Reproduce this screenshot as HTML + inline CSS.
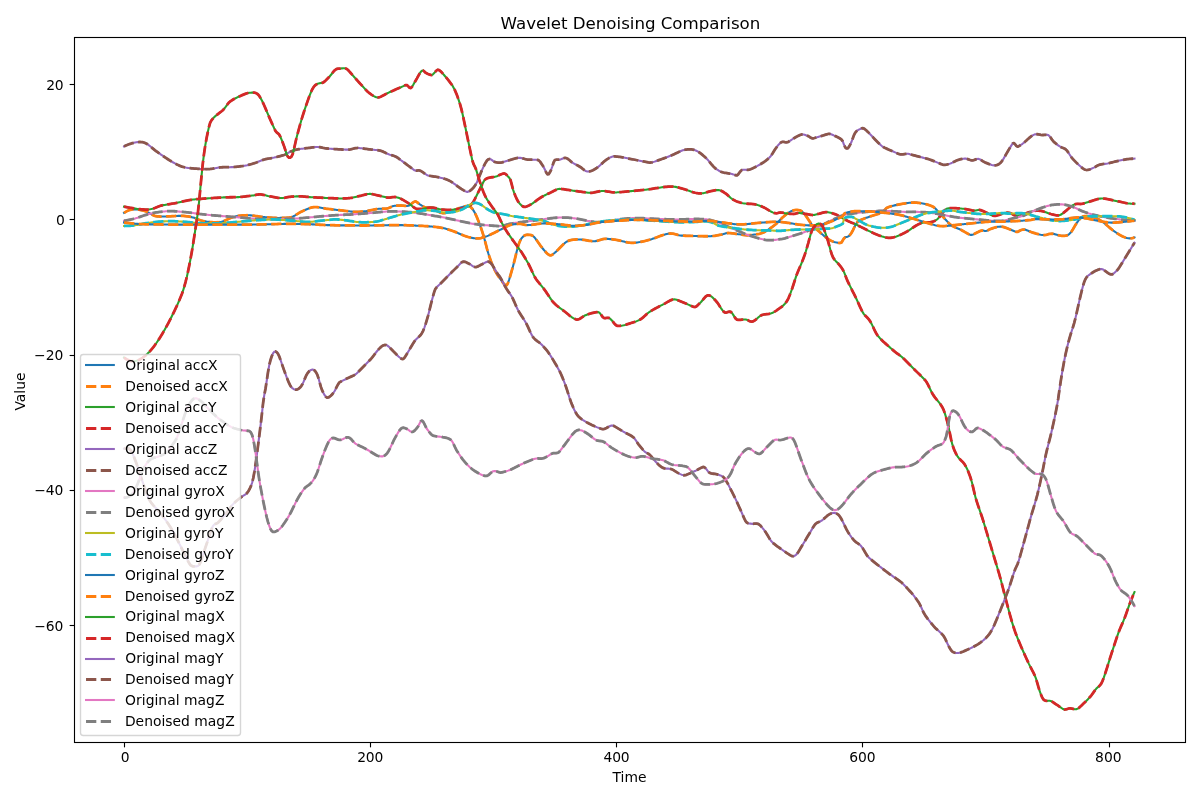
<!DOCTYPE html>
<html lang="en">
<head>
<meta charset="utf-8">
<title>Wavelet Denoising Comparison</title>
<style>html,body{margin:0;padding:0;background:#fff;}svg{display:block;}</style>
</head>
<body>
<svg width="1200" height="800" viewBox="0 0 1200 800">
<rect x="0" y="0" width="1200" height="800" fill="#ffffff"/>
<clipPath id="ax"><rect x="73.53" y="37.33" width="1111.47" height="704.39"/></clipPath>
<g clip-path="url(#ax)" fill="none" stroke-linejoin="round">
<path d="M124.05 212.87 L125.28 212.08 L126.51 211.37 L127.74 210.75 L128.97 210.24 L130.2 209.83 L131.43 209.55 L132.66 209.4 L133.9 209.36 L135.13 209.38 L136.36 209.44 L137.59 209.55 L138.82 209.7 L140.05 209.9 L141.28 210.14 L142.51 210.42 L143.74 210.74 L144.97 211.09 L146.2 211.53 L147.43 212.09 L148.66 212.74 L149.89 213.43 L151.13 214.12 L152.36 214.79 L153.59 215.39 L154.82 215.88 L156.05 216.23 L157.28 216.4 L158.51 216.46 L159.74 216.5 L160.97 216.52 L162.2 216.52 L163.43 216.51 L164.66 216.49 L165.89 216.46 L167.12 216.42 L168.36 216.38 L169.59 216.33 L170.82 216.27 L172.05 216.2 L173.28 216.14 L174.51 216.07 L175.74 216.01 L176.97 215.95 L178.2 215.9 L179.43 215.86 L180.66 215.84 L181.89 215.86 L183.12 215.91 L184.36 215.99 L185.59 216.11 L186.82 216.26 L188.05 216.44 L189.28 216.65 L190.51 216.88 L191.74 217.14 L192.97 217.43 L194.2 217.83 L195.43 218.3 L196.66 218.81 L197.89 219.32 L199.12 219.8 L200.35 220.22 L201.59 220.55 L202.82 220.84 L204.05 221.1 L205.28 221.33 L206.51 221.54 L207.74 221.72 L208.97 221.88 L210.2 222.02 L211.43 222.14 L212.66 222.24 L213.89 222.31 L215.12 222.33 L216.35 222.32 L217.58 222.26 L218.82 222.15 L220.05 221.98 L221.28 221.76 L222.51 221.47 L223.74 221.06 L224.97 220.56 L226.2 219.99 L227.43 219.39 L228.66 218.79 L229.89 218.21 L231.12 217.7 L232.35 217.29 L233.58 216.96 L234.81 216.64 L236.05 216.34 L237.28 216.07 L238.51 215.84 L239.74 215.66 L240.97 215.52 L242.2 215.43 L243.43 215.36 L244.66 215.3 L245.89 215.27 L247.12 215.26 L248.35 215.28 L249.58 215.33 L250.81 215.41 L252.05 215.53 L253.28 215.68 L254.51 215.84 L255.74 216.02 L256.97 216.2 L258.2 216.38 L259.43 216.55 L260.66 216.72 L261.89 216.86 L263.12 216.99 L264.35 217.11 L265.58 217.23 L266.81 217.34 L268.04 217.45 L269.28 217.55 L270.51 217.65 L271.74 217.73 L272.97 217.81 L274.2 217.87 L275.43 217.91 L276.66 217.93 L277.89 217.94 L279.12 217.93 L280.35 217.91 L281.58 217.88 L282.81 217.85 L284.04 217.82 L285.27 217.79 L286.51 217.76 L287.74 217.7 L288.97 217.59 L290.2 217.39 L291.43 217.09 L292.66 216.64 L293.89 216.06 L295.12 215.37 L296.35 214.61 L297.58 213.83 L298.81 213.07 L300.04 212.36 L301.27 211.74 L302.51 211.15 L303.74 210.57 L304.97 210 L306.2 209.46 L307.43 208.94 L308.66 208.46 L309.89 208.01 L311.12 207.64 L312.35 207.34 L313.58 207.13 L314.81 207.02 L316.04 207.02 L317.27 207.13 L318.5 207.31 L319.74 207.52 L320.97 207.74 L322.2 207.97 L323.43 208.21 L324.66 208.43 L325.89 208.63 L327.12 208.8 L328.35 208.95 L329.58 209.09 L330.81 209.23 L332.04 209.37 L333.27 209.51 L334.5 209.65 L335.73 209.79 L336.97 209.93 L338.2 210.07 L339.43 210.21 L340.66 210.35 L341.89 210.49 L343.12 210.64 L344.35 210.78 L345.58 210.92 L346.81 211.06 L348.04 211.2 L349.27 211.34 L350.5 211.48 L351.73 211.62 L352.97 211.75 L354.2 211.83 L355.43 211.86 L356.66 211.86 L357.89 211.83 L359.12 211.77 L360.35 211.68 L361.58 211.57 L362.81 211.45 L364.04 211.32 L365.27 211.18 L366.5 211.04 L367.73 210.86 L368.96 210.65 L370.2 210.41 L371.43 210.16 L372.66 209.9 L373.89 209.64 L375.12 209.39 L376.35 209.16 L377.58 208.95 L378.81 208.78 L380.04 208.7 L381.27 208.67 L382.5 208.68 L383.73 208.69 L384.96 208.67 L386.19 208.59 L387.43 208.42 L388.66 208.03 L389.89 207.49 L391.12 206.9 L392.35 206.36 L393.58 205.97 L394.81 205.8 L396.04 205.69 L397.27 205.61 L398.5 205.56 L399.73 205.53 L400.96 205.5 L402.19 205.53 L403.42 205.66 L404.66 205.81 L405.89 205.94 L407.12 205.97 L408.35 205.83 L409.58 205.22 L410.81 204.26 L412.04 203.23 L413.27 202.39 L414.5 201.67 L415.73 201.44 L416.96 202.15 L418.19 203.17 L419.42 204.12 L420.66 204.92 L421.89 205.7 L423.12 206.42 L424.35 207.01 L425.58 207.38 L426.81 207.56 L428.04 207.64 L429.27 207.68 L430.5 207.76 L431.73 207.95 L432.96 208.32 L434.19 208.91 L435.42 209.68 L436.65 210.51 L437.89 211.34 L439.12 212.08 L440.35 212.65 L441.58 212.96 L442.81 213.1 L444.04 213.14 L445.27 213.08 L446.5 212.92 L447.73 212.67 L448.96 212.34 L450.19 211.93 L451.42 211.47 L452.65 210.97 L453.88 210.44 L455.12 209.89 L456.35 209.34 L457.58 208.8 L458.81 208.27 L460.04 207.78 L461.27 207.33 L462.5 206.94 L463.73 206.61 L464.96 206.33 L466.19 206.1 L467.42 205.91 L468.65 205.97 L469.88 206.51 L471.12 207.49 L472.35 208.87 L473.58 210.63 L474.81 212.78 L476.04 215.29 L477.27 218.11 L478.5 221.17 L479.73 224.41 L480.96 227.84 L482.19 231.47 L483.42 235.31 L484.65 239.67 L485.88 244.44 L487.11 249.19 L488.35 253.51 L489.58 257.28 L490.81 260.78 L492.04 264.01 L493.27 266.95 L494.5 269.59 L495.73 271.91 L496.96 274 L498.19 275.92 L499.42 277.73 L500.65 279.46 L501.88 281.16 L503.11 282.84 L504.34 284.35 L505.58 285.34 L506.81 285.15 L508.04 282.87 L509.27 279.26 L510.5 275.16 L511.73 270.91 L512.96 266.49 L514.19 261.84 L515.42 256.83 L516.65 251.78 L517.88 247.06 L519.11 243.17 L520.34 240.27 L521.58 238.22 L522.81 236.84 L524.04 235.83 L525.27 235.16 L526.5 234.8 L527.73 234.76 L528.96 234.81 L530.19 234.93 L531.42 235.21 L532.65 235.78 L533.88 236.74 L535.11 238.15 L536.34 239.78 L537.57 241.52 L538.81 243.3 L540.04 245.05 L541.27 246.7 L542.5 248.24 L543.73 249.73 L544.96 251.15 L546.19 252.51 L547.42 253.76 L548.65 254.72 L549.88 255.27 L551.11 255.29 L552.34 254.67 L553.57 253.77 L554.8 252.75 L556.04 251.64 L557.27 250.48 L558.5 249.27 L559.73 248 L560.96 246.71 L562.19 245.44 L563.42 244.25 L564.65 243.16 L565.88 242.24 L567.11 241.48 L568.34 240.87 L569.57 240.41 L570.8 240.09 L572.03 239.87 L573.27 239.71 L574.5 239.59 L575.73 239.5 L576.96 239.46 L578.19 239.45 L579.42 239.48 L580.65 239.54 L581.88 239.65 L583.11 239.8 L584.34 239.98 L585.57 240.18 L586.8 240.39 L588.03 240.59 L589.27 240.79 L590.5 240.95 L591.73 241.09 L592.96 241.17 L594.19 241.2 L595.42 241.11 L596.65 240.9 L597.88 240.61 L599.11 240.25 L600.34 239.88 L601.57 239.51 L602.8 239.19 L604.03 238.95 L605.26 238.81 L606.5 238.81 L607.73 238.88 L608.96 238.97 L610.19 239.09 L611.42 239.22 L612.65 239.38 L613.88 239.55 L615.11 239.73 L616.34 239.93 L617.57 240.15 L618.8 240.4 L620.03 240.67 L621.26 240.97 L622.49 241.27 L623.73 241.57 L624.96 241.86 L626.19 242.12 L627.42 242.36 L628.65 242.55 L629.88 242.7 L631.11 242.78 L632.34 242.81 L633.57 242.79 L634.8 242.72 L636.03 242.61 L637.26 242.46 L638.49 242.27 L639.73 242.06 L640.96 241.82 L642.19 241.57 L643.42 241.31 L644.65 241.03 L645.88 240.73 L647.11 240.42 L648.34 240.09 L649.57 239.75 L650.8 239.39 L652.03 239.01 L653.26 238.6 L654.49 238.17 L655.72 237.71 L656.96 237.24 L658.19 236.77 L659.42 236.3 L660.65 235.85 L661.88 235.42 L663.11 235.02 L664.34 234.65 L665.57 234.31 L666.8 234.01 L668.03 233.78 L669.26 233.61 L670.49 233.51 L671.72 233.52 L672.95 233.67 L674.19 233.92 L675.42 234.24 L676.65 234.6 L677.88 234.95 L679.11 235.26 L680.34 235.49 L681.57 235.6 L682.8 235.65 L684.03 235.7 L685.26 235.75 L686.49 235.79 L687.72 235.84 L688.95 235.88 L690.19 235.91 L691.42 235.95 L692.65 235.98 L693.88 236 L695.11 236.03 L696.34 236.06 L697.57 236.09 L698.8 236.13 L700.03 236.16 L701.26 236.19 L702.49 236.22 L703.72 236.24 L704.95 236.25 L706.18 236.25 L707.42 236.25 L708.65 236.23 L709.88 236.2 L711.11 236.16 L712.34 236.08 L713.57 235.95 L714.8 235.77 L716.03 235.56 L717.26 235.34 L718.49 235.11 L719.72 234.88 L720.95 234.67 L722.18 234.38 L723.41 234.03 L724.65 233.67 L725.88 233.34 L727.11 233.1 L728.34 232.98 L729.57 233.03 L730.8 233.15 L732.03 233.3 L733.26 233.47 L734.49 233.65 L735.72 233.83 L736.95 234 L738.18 234.16 L739.41 234.34 L740.64 234.51 L741.88 234.68 L743.11 234.85 L744.34 235.01 L745.57 235.16 L746.8 235.24 L748.03 235.24 L749.26 235.18 L750.49 235.07 L751.72 234.93 L752.95 234.76 L754.18 234.59 L755.41 234.41 L756.64 234.24 L757.88 234.04 L759.11 233.8 L760.34 233.52 L761.57 233.16 L762.8 232.73 L764.03 232.21 L765.26 231.57 L766.49 230.85 L767.72 230.06 L768.95 229.23 L770.18 228.37 L771.41 227.51 L772.64 226.63 L773.87 225.71 L775.11 224.75 L776.34 223.7 L777.57 222.53 L778.8 221.27 L780.03 219.97 L781.26 218.71 L782.49 217.55 L783.72 216.45 L784.95 215.4 L786.18 214.39 L787.41 213.44 L788.64 212.55 L789.87 211.82 L791.1 211.22 L792.34 210.73 L793.57 210.33 L794.8 210.08 L796.03 209.97 L797.26 209.96 L798.49 210.04 L799.72 210.3 L800.95 210.8 L802.18 211.65 L803.41 212.8 L804.64 214.21 L805.87 215.82 L807.1 217.63 L808.34 219.54 L809.57 221.39 L810.8 223.1 L812.03 224.77 L813.26 226.26 L814.49 227.44 L815.72 228.52 L816.95 229.58 L818.18 230.66 L819.41 231.77 L820.64 232.88 L821.87 233.99 L823.1 235.09 L824.33 236.16 L825.57 237.17 L826.8 238.12 L828.03 239.02 L829.26 239.8 L830.49 240.45 L831.72 240.99 L832.95 241.48 L834.18 241.9 L835.41 242.24 L836.64 242.51 L837.87 242.77 L839.1 242.99 L840.33 242.95 L841.56 242.45 L842.8 240.25 L844.03 238.39 L845.26 237.33 L846.49 236.9 L847.72 236.66 L848.95 236.04 L850.18 234.76 L851.41 233 L852.64 230.78 L853.87 228.23 L855.1 225.81 L856.33 223.62 L857.56 221.89 L858.8 220.96 L860.03 220.26 L861.26 219.68 L862.49 219.19 L863.72 218.74 L864.95 218.29 L866.18 217.84 L867.41 217.4 L868.64 216.96 L869.87 216.54 L871.1 216.14 L872.33 215.75 L873.56 215.37 L874.79 215 L876.03 214.62 L877.26 214.24 L878.49 213.84 L879.72 213.36 L880.95 212.81 L882.18 212.2 L883.41 211.23 L884.64 209.95 L885.87 208.66 L887.1 207.69 L888.33 207.18 L889.56 206.74 L890.79 206.35 L892.02 205.99 L893.26 205.66 L894.49 205.37 L895.72 205.11 L896.95 204.86 L898.18 204.62 L899.41 204.39 L900.64 204.16 L901.87 203.93 L903.1 203.71 L904.33 203.51 L905.56 203.31 L906.79 203.13 L908.02 202.96 L909.25 202.82 L910.49 202.69 L911.72 202.59 L912.95 202.53 L914.18 202.49 L915.41 202.53 L916.64 202.62 L917.87 202.76 L919.1 202.94 L920.33 203.14 L921.56 203.34 L922.79 203.55 L924.02 203.78 L925.25 204.04 L926.49 204.34 L927.72 204.68 L928.95 205.05 L930.18 205.46 L931.41 205.94 L932.64 206.53 L933.87 207.29 L935.1 208.26 L936.33 209.49 L937.56 210.84 L938.79 212.19 L940.02 213.54 L941.25 214.89 L942.48 216.23 L943.72 217.58 L944.95 218.93 L946.18 220.28 L947.41 221.63 L948.64 222.98 L949.87 224.2 L951.1 225.15 L952.33 225.91 L953.56 226.55 L954.79 227.15 L956.02 227.73 L957.25 228.26 L958.48 228.77 L959.71 229.29 L960.95 229.85 L962.18 230.48 L963.41 231.16 L964.64 231.88 L965.87 232.6 L967.1 233.29 L968.33 233.93 L969.56 234.52 L970.79 234.89 L972.02 234.89 L973.25 234.44 L974.48 233.83 L975.71 233.17 L976.95 232.52 L978.18 231.94 L979.41 231.37 L980.64 230.84 L981.87 230.45 L983.1 230.55 L984.33 230.86 L985.56 231.02 L986.79 230.71 L988.02 230.18 L989.25 229.6 L990.48 229.05 L991.71 228.59 L992.94 228.16 L994.18 227.75 L995.41 227.39 L996.64 227.08 L997.87 226.84 L999.1 226.69 L1000.33 226.64 L1001.56 226.71 L1002.79 226.88 L1004.02 227.18 L1005.25 227.59 L1006.48 228.07 L1007.71 228.57 L1008.94 229.07 L1010.17 229.57 L1011.41 230.06 L1012.64 230.55 L1013.87 231.02 L1015.1 231.47 L1016.33 231.85 L1017.56 231.87 L1018.79 231.3 L1020.02 230.53 L1021.25 230 L1022.48 229.71 L1023.71 229.52 L1024.94 229.59 L1026.17 229.94 L1027.41 230.4 L1028.64 230.93 L1029.87 231.47 L1031.1 232 L1032.33 232.45 L1033.56 232.82 L1034.79 233.19 L1036.02 233.55 L1037.25 233.88 L1038.48 234.2 L1039.71 234.48 L1040.94 234.73 L1042.17 234.95 L1043.4 235.08 L1044.64 235.01 L1045.87 234.82 L1047.1 234.54 L1048.33 234.23 L1049.56 233.96 L1050.79 233.77 L1052.02 233.72 L1053.25 233.85 L1054.48 234.11 L1055.71 234.45 L1056.94 234.83 L1058.17 235.19 L1059.4 235.49 L1060.63 235.69 L1061.87 235.81 L1063.1 235.85 L1064.33 235.82 L1065.56 235.7 L1066.79 235.48 L1068.02 234.96 L1069.25 234.08 L1070.48 232.85 L1071.71 231.25 L1072.94 229.3 L1074.17 227.16 L1075.4 225.06 L1076.63 223.19 L1077.86 221.41 L1079.1 219.75 L1080.33 218.33 L1081.56 217.28 L1082.79 216.6 L1084.02 216.24 L1085.25 216.11 L1086.48 216.14 L1087.71 216.28 L1088.94 216.42 L1090.17 216.58 L1091.4 216.76 L1092.63 216.99 L1093.86 217.29 L1095.1 217.67 L1096.33 218.16 L1097.56 218.78 L1098.79 219.49 L1100.02 220.24 L1101.25 221.03 L1102.48 221.87 L1103.71 222.76 L1104.94 223.7 L1106.17 224.7 L1107.4 225.73 L1108.63 226.79 L1109.86 227.85 L1111.09 228.88 L1112.33 229.87 L1113.56 230.79 L1114.79 231.67 L1116.02 232.5 L1117.25 233.3 L1118.48 234.07 L1119.71 234.82 L1120.94 235.55 L1122.17 236.19 L1123.4 236.75 L1124.63 237.23 L1125.86 237.65 L1127.09 238 L1128.32 238.26 L1129.56 238.36 L1130.79 238.31 L1132.02 238.13 L1133.25 237.83 L1134.48 237.44" stroke="#1f77b4" stroke-width="2.08" stroke-linecap="square"/>
<path d="M124.05 212.87 L125.28 212.08 L126.51 211.37 L127.74 210.75 L128.97 210.24 L130.2 209.83 L131.43 209.55 L132.66 209.4 L133.9 209.36 L135.13 209.38 L136.36 209.44 L137.59 209.55 L138.82 209.7 L140.05 209.9 L141.28 210.14 L142.51 210.42 L143.74 210.74 L144.97 211.09 L146.2 211.53 L147.43 212.09 L148.66 212.74 L149.89 213.43 L151.13 214.12 L152.36 214.79 L153.59 215.39 L154.82 215.88 L156.05 216.23 L157.28 216.4 L158.51 216.46 L159.74 216.5 L160.97 216.52 L162.2 216.52 L163.43 216.51 L164.66 216.49 L165.89 216.46 L167.12 216.42 L168.36 216.38 L169.59 216.33 L170.82 216.27 L172.05 216.2 L173.28 216.14 L174.51 216.07 L175.74 216.01 L176.97 215.95 L178.2 215.9 L179.43 215.86 L180.66 215.84 L181.89 215.86 L183.12 215.91 L184.36 215.99 L185.59 216.11 L186.82 216.26 L188.05 216.44 L189.28 216.65 L190.51 216.88 L191.74 217.14 L192.97 217.43 L194.2 217.83 L195.43 218.3 L196.66 218.81 L197.89 219.32 L199.12 219.8 L200.35 220.22 L201.59 220.55 L202.82 220.84 L204.05 221.1 L205.28 221.33 L206.51 221.54 L207.74 221.72 L208.97 221.88 L210.2 222.02 L211.43 222.14 L212.66 222.24 L213.89 222.31 L215.12 222.33 L216.35 222.32 L217.58 222.26 L218.82 222.15 L220.05 221.98 L221.28 221.76 L222.51 221.47 L223.74 221.06 L224.97 220.56 L226.2 219.99 L227.43 219.39 L228.66 218.79 L229.89 218.21 L231.12 217.7 L232.35 217.29 L233.58 216.96 L234.81 216.64 L236.05 216.34 L237.28 216.07 L238.51 215.84 L239.74 215.66 L240.97 215.52 L242.2 215.43 L243.43 215.36 L244.66 215.3 L245.89 215.27 L247.12 215.26 L248.35 215.28 L249.58 215.33 L250.81 215.41 L252.05 215.53 L253.28 215.68 L254.51 215.84 L255.74 216.02 L256.97 216.2 L258.2 216.38 L259.43 216.55 L260.66 216.72 L261.89 216.86 L263.12 216.99 L264.35 217.11 L265.58 217.23 L266.81 217.34 L268.04 217.45 L269.28 217.55 L270.51 217.65 L271.74 217.73 L272.97 217.81 L274.2 217.87 L275.43 217.91 L276.66 217.93 L277.89 217.94 L279.12 217.93 L280.35 217.91 L281.58 217.88 L282.81 217.85 L284.04 217.82 L285.27 217.79 L286.51 217.76 L287.74 217.7 L288.97 217.59 L290.2 217.39 L291.43 217.09 L292.66 216.64 L293.89 216.06 L295.12 215.37 L296.35 214.61 L297.58 213.83 L298.81 213.07 L300.04 212.36 L301.27 211.74 L302.51 211.15 L303.74 210.57 L304.97 210 L306.2 209.46 L307.43 208.94 L308.66 208.46 L309.89 208.01 L311.12 207.64 L312.35 207.34 L313.58 207.13 L314.81 207.02 L316.04 207.02 L317.27 207.13 L318.5 207.31 L319.74 207.52 L320.97 207.74 L322.2 207.97 L323.43 208.21 L324.66 208.43 L325.89 208.63 L327.12 208.8 L328.35 208.95 L329.58 209.09 L330.81 209.23 L332.04 209.37 L333.27 209.51 L334.5 209.65 L335.73 209.79 L336.97 209.93 L338.2 210.07 L339.43 210.21 L340.66 210.35 L341.89 210.49 L343.12 210.64 L344.35 210.78 L345.58 210.92 L346.81 211.06 L348.04 211.2 L349.27 211.34 L350.5 211.48 L351.73 211.62 L352.97 211.75 L354.2 211.83 L355.43 211.86 L356.66 211.86 L357.89 211.83 L359.12 211.77 L360.35 211.68 L361.58 211.57 L362.81 211.45 L364.04 211.32 L365.27 211.18 L366.5 211.04 L367.73 210.86 L368.96 210.65 L370.2 210.41 L371.43 210.16 L372.66 209.9 L373.89 209.64 L375.12 209.39 L376.35 209.16 L377.58 208.95 L378.81 208.78 L380.04 208.7 L381.27 208.67 L382.5 208.68 L383.73 208.69 L384.96 208.67 L386.19 208.59 L387.43 208.42 L388.66 208.03 L389.89 207.49 L391.12 206.9 L392.35 206.36 L393.58 205.97 L394.81 205.8 L396.04 205.69 L397.27 205.61 L398.5 205.56 L399.73 205.53 L400.96 205.5 L402.19 205.53 L403.42 205.66 L404.66 205.81 L405.89 205.94 L407.12 205.97 L408.35 205.83 L409.58 205.22 L410.81 204.26 L412.04 203.23 L413.27 202.39 L414.5 201.67 L415.73 201.44 L416.96 202.15 L418.19 203.17 L419.42 204.12 L420.66 204.92 L421.89 205.7 L423.12 206.42 L424.35 207.01 L425.58 207.38 L426.81 207.56 L428.04 207.64 L429.27 207.68 L430.5 207.76 L431.73 207.95 L432.96 208.32 L434.19 208.91 L435.42 209.68 L436.65 210.51 L437.89 211.34 L439.12 212.08 L440.35 212.65 L441.58 212.96 L442.81 213.1 L444.04 213.14 L445.27 213.08 L446.5 212.92 L447.73 212.67 L448.96 212.34 L450.19 211.93 L451.42 211.47 L452.65 210.97 L453.88 210.44 L455.12 209.89 L456.35 209.34 L457.58 208.8 L458.81 208.27 L460.04 207.78 L461.27 207.33 L462.5 206.94 L463.73 206.61 L464.96 206.33 L466.19 206.1 L467.42 205.91 L468.65 205.97 L469.88 206.51 L471.12 207.49 L472.35 208.87 L473.58 210.63 L474.81 212.78 L476.04 215.29 L477.27 218.11 L478.5 221.17 L479.73 224.41 L480.96 227.84 L482.19 231.47 L483.42 235.31 L484.65 239.67 L485.88 244.44 L487.11 249.19 L488.35 253.51 L489.58 257.28 L490.81 260.78 L492.04 264.01 L493.27 266.95 L494.5 269.59 L495.73 271.91 L496.96 274 L498.19 275.92 L499.42 277.73 L500.65 279.46 L501.88 281.16 L503.11 282.84 L504.34 284.35 L505.58 285.34 L506.81 285.15 L508.04 282.87 L509.27 279.26 L510.5 275.16 L511.73 270.91 L512.96 266.49 L514.19 261.84 L515.42 256.83 L516.65 251.78 L517.88 247.06 L519.11 243.17 L520.34 240.27 L521.58 238.22 L522.81 236.84 L524.04 235.83 L525.27 235.16 L526.5 234.8 L527.73 234.76 L528.96 234.81 L530.19 234.93 L531.42 235.21 L532.65 235.78 L533.88 236.74 L535.11 238.15 L536.34 239.78 L537.57 241.52 L538.81 243.3 L540.04 245.05 L541.27 246.7 L542.5 248.24 L543.73 249.73 L544.96 251.15 L546.19 252.51 L547.42 253.76 L548.65 254.72 L549.88 255.27 L551.11 255.29 L552.34 254.67 L553.57 253.77 L554.8 252.75 L556.04 251.64 L557.27 250.48 L558.5 249.27 L559.73 248 L560.96 246.71 L562.19 245.44 L563.42 244.25 L564.65 243.16 L565.88 242.24 L567.11 241.48 L568.34 240.87 L569.57 240.41 L570.8 240.09 L572.03 239.87 L573.27 239.71 L574.5 239.59 L575.73 239.5 L576.96 239.46 L578.19 239.45 L579.42 239.48 L580.65 239.54 L581.88 239.65 L583.11 239.8 L584.34 239.98 L585.57 240.18 L586.8 240.39 L588.03 240.59 L589.27 240.79 L590.5 240.95 L591.73 241.09 L592.96 241.17 L594.19 241.2 L595.42 241.11 L596.65 240.9 L597.88 240.61 L599.11 240.25 L600.34 239.88 L601.57 239.51 L602.8 239.19 L604.03 238.95 L605.26 238.81 L606.5 238.81 L607.73 238.88 L608.96 238.97 L610.19 239.09 L611.42 239.22 L612.65 239.38 L613.88 239.55 L615.11 239.73 L616.34 239.93 L617.57 240.15 L618.8 240.4 L620.03 240.67 L621.26 240.97 L622.49 241.27 L623.73 241.57 L624.96 241.86 L626.19 242.12 L627.42 242.36 L628.65 242.55 L629.88 242.7 L631.11 242.78 L632.34 242.81 L633.57 242.79 L634.8 242.72 L636.03 242.61 L637.26 242.46 L638.49 242.27 L639.73 242.06 L640.96 241.82 L642.19 241.57 L643.42 241.31 L644.65 241.03 L645.88 240.73 L647.11 240.42 L648.34 240.09 L649.57 239.75 L650.8 239.39 L652.03 239.01 L653.26 238.6 L654.49 238.17 L655.72 237.71 L656.96 237.24 L658.19 236.77 L659.42 236.3 L660.65 235.85 L661.88 235.42 L663.11 235.02 L664.34 234.65 L665.57 234.31 L666.8 234.01 L668.03 233.78 L669.26 233.61 L670.49 233.51 L671.72 233.52 L672.95 233.67 L674.19 233.92 L675.42 234.24 L676.65 234.6 L677.88 234.95 L679.11 235.26 L680.34 235.49 L681.57 235.6 L682.8 235.65 L684.03 235.7 L685.26 235.75 L686.49 235.79 L687.72 235.84 L688.95 235.88 L690.19 235.91 L691.42 235.95 L692.65 235.98 L693.88 236 L695.11 236.03 L696.34 236.06 L697.57 236.09 L698.8 236.13 L700.03 236.16 L701.26 236.19 L702.49 236.22 L703.72 236.24 L704.95 236.25 L706.18 236.25 L707.42 236.25 L708.65 236.23 L709.88 236.2 L711.11 236.16 L712.34 236.08 L713.57 235.95 L714.8 235.77 L716.03 235.56 L717.26 235.34 L718.49 235.11 L719.72 234.88 L720.95 234.67 L722.18 234.38 L723.41 234.03 L724.65 233.67 L725.88 233.34 L727.11 233.1 L728.34 232.98 L729.57 233.03 L730.8 233.15 L732.03 233.3 L733.26 233.47 L734.49 233.65 L735.72 233.83 L736.95 234 L738.18 234.16 L739.41 234.34 L740.64 234.51 L741.88 234.68 L743.11 234.85 L744.34 235.01 L745.57 235.16 L746.8 235.24 L748.03 235.24 L749.26 235.18 L750.49 235.07 L751.72 234.93 L752.95 234.76 L754.18 234.59 L755.41 234.41 L756.64 234.24 L757.88 234.04 L759.11 233.8 L760.34 233.52 L761.57 233.16 L762.8 232.73 L764.03 232.21 L765.26 231.57 L766.49 230.85 L767.72 230.06 L768.95 229.23 L770.18 228.37 L771.41 227.51 L772.64 226.63 L773.87 225.71 L775.11 224.75 L776.34 223.7 L777.57 222.53 L778.8 221.27 L780.03 219.97 L781.26 218.71 L782.49 217.55 L783.72 216.45 L784.95 215.4 L786.18 214.39 L787.41 213.44 L788.64 212.55 L789.87 211.82 L791.1 211.22 L792.34 210.73 L793.57 210.33 L794.8 210.08 L796.03 209.97 L797.26 209.96 L798.49 210.04 L799.72 210.3 L800.95 210.8 L802.18 211.65 L803.41 212.8 L804.64 214.21 L805.87 215.82 L807.1 217.63 L808.34 219.54 L809.57 221.39 L810.8 223.1 L812.03 224.77 L813.26 226.26 L814.49 227.44 L815.72 228.52 L816.95 229.58 L818.18 230.66 L819.41 231.77 L820.64 232.88 L821.87 233.99 L823.1 235.09 L824.33 236.16 L825.57 237.17 L826.8 238.12 L828.03 239.02 L829.26 239.8 L830.49 240.45 L831.72 240.99 L832.95 241.48 L834.18 241.9 L835.41 242.24 L836.64 242.51 L837.87 242.77 L839.1 242.99 L840.33 242.95 L841.56 242.45 L842.8 240.25 L844.03 238.39 L845.26 237.33 L846.49 236.9 L847.72 236.66 L848.95 236.04 L850.18 234.76 L851.41 233 L852.64 230.78 L853.87 228.23 L855.1 225.81 L856.33 223.62 L857.56 221.89 L858.8 220.96 L860.03 220.26 L861.26 219.68 L862.49 219.19 L863.72 218.74 L864.95 218.29 L866.18 217.84 L867.41 217.4 L868.64 216.96 L869.87 216.54 L871.1 216.14 L872.33 215.75 L873.56 215.37 L874.79 215 L876.03 214.62 L877.26 214.24 L878.49 213.84 L879.72 213.36 L880.95 212.81 L882.18 212.2 L883.41 211.23 L884.64 209.95 L885.87 208.66 L887.1 207.69 L888.33 207.18 L889.56 206.74 L890.79 206.35 L892.02 205.99 L893.26 205.66 L894.49 205.37 L895.72 205.11 L896.95 204.86 L898.18 204.62 L899.41 204.39 L900.64 204.16 L901.87 203.93 L903.1 203.71 L904.33 203.51 L905.56 203.31 L906.79 203.13 L908.02 202.96 L909.25 202.82 L910.49 202.69 L911.72 202.59 L912.95 202.53 L914.18 202.49 L915.41 202.53 L916.64 202.62 L917.87 202.76 L919.1 202.94 L920.33 203.14 L921.56 203.34 L922.79 203.55 L924.02 203.78 L925.25 204.04 L926.49 204.34 L927.72 204.68 L928.95 205.05 L930.18 205.46 L931.41 205.94 L932.64 206.53 L933.87 207.29 L935.1 208.26 L936.33 209.49 L937.56 210.84 L938.79 212.19 L940.02 213.54 L941.25 214.89 L942.48 216.23 L943.72 217.58 L944.95 218.93 L946.18 220.28 L947.41 221.63 L948.64 222.98 L949.87 224.2 L951.1 225.15 L952.33 225.91 L953.56 226.55 L954.79 227.15 L956.02 227.73 L957.25 228.26 L958.48 228.77 L959.71 229.29 L960.95 229.85 L962.18 230.48 L963.41 231.16 L964.64 231.88 L965.87 232.6 L967.1 233.29 L968.33 233.93 L969.56 234.52 L970.79 234.89 L972.02 234.89 L973.25 234.44 L974.48 233.83 L975.71 233.17 L976.95 232.52 L978.18 231.94 L979.41 231.37 L980.64 230.84 L981.87 230.45 L983.1 230.55 L984.33 230.86 L985.56 231.02 L986.79 230.71 L988.02 230.18 L989.25 229.6 L990.48 229.05 L991.71 228.59 L992.94 228.16 L994.18 227.75 L995.41 227.39 L996.64 227.08 L997.87 226.84 L999.1 226.69 L1000.33 226.64 L1001.56 226.71 L1002.79 226.88 L1004.02 227.18 L1005.25 227.59 L1006.48 228.07 L1007.71 228.57 L1008.94 229.07 L1010.17 229.57 L1011.41 230.06 L1012.64 230.55 L1013.87 231.02 L1015.1 231.47 L1016.33 231.85 L1017.56 231.87 L1018.79 231.3 L1020.02 230.53 L1021.25 230 L1022.48 229.71 L1023.71 229.52 L1024.94 229.59 L1026.17 229.94 L1027.41 230.4 L1028.64 230.93 L1029.87 231.47 L1031.1 232 L1032.33 232.45 L1033.56 232.82 L1034.79 233.19 L1036.02 233.55 L1037.25 233.88 L1038.48 234.2 L1039.71 234.48 L1040.94 234.73 L1042.17 234.95 L1043.4 235.08 L1044.64 235.01 L1045.87 234.82 L1047.1 234.54 L1048.33 234.23 L1049.56 233.96 L1050.79 233.77 L1052.02 233.72 L1053.25 233.85 L1054.48 234.11 L1055.71 234.45 L1056.94 234.83 L1058.17 235.19 L1059.4 235.49 L1060.63 235.69 L1061.87 235.81 L1063.1 235.85 L1064.33 235.82 L1065.56 235.7 L1066.79 235.48 L1068.02 234.96 L1069.25 234.08 L1070.48 232.85 L1071.71 231.25 L1072.94 229.3 L1074.17 227.16 L1075.4 225.06 L1076.63 223.19 L1077.86 221.41 L1079.1 219.75 L1080.33 218.33 L1081.56 217.28 L1082.79 216.6 L1084.02 216.24 L1085.25 216.11 L1086.48 216.14 L1087.71 216.28 L1088.94 216.42 L1090.17 216.58 L1091.4 216.76 L1092.63 216.99 L1093.86 217.29 L1095.1 217.67 L1096.33 218.16 L1097.56 218.78 L1098.79 219.49 L1100.02 220.24 L1101.25 221.03 L1102.48 221.87 L1103.71 222.76 L1104.94 223.7 L1106.17 224.7 L1107.4 225.73 L1108.63 226.79 L1109.86 227.85 L1111.09 228.88 L1112.33 229.87 L1113.56 230.79 L1114.79 231.67 L1116.02 232.5 L1117.25 233.3 L1118.48 234.07 L1119.71 234.82 L1120.94 235.55 L1122.17 236.19 L1123.4 236.75 L1124.63 237.23 L1125.86 237.65 L1127.09 238 L1128.32 238.26 L1129.56 238.36 L1130.79 238.31 L1132.02 238.13 L1133.25 237.83 L1134.48 237.44" stroke="#ff7f0e" stroke-width="2.78" stroke-dasharray="10.28 4.44"/>
<path d="M124.05 206.61 L125.28 206.87 L126.51 207.12 L127.74 207.35 L128.97 207.57 L130.2 207.78 L131.43 207.99 L132.66 208.19 L133.9 208.38 L135.13 208.57 L136.36 208.75 L137.59 208.91 L138.82 209.06 L140.05 209.19 L141.28 209.31 L142.51 209.41 L143.74 209.49 L144.97 209.56 L146.2 209.61 L147.43 209.58 L148.66 209.48 L149.89 209.3 L151.13 209.05 L152.36 208.77 L153.59 208.43 L154.82 208.01 L156.05 207.53 L157.28 207.02 L158.51 206.52 L159.74 206.05 L160.97 205.65 L162.2 205.36 L163.43 205.12 L164.66 204.9 L165.89 204.69 L167.12 204.49 L168.36 204.29 L169.59 204.1 L170.82 203.91 L172.05 203.71 L173.28 203.5 L174.51 203.28 L175.74 203.05 L176.97 202.8 L178.2 202.54 L179.43 202.26 L180.66 201.97 L181.89 201.68 L183.12 201.4 L184.36 201.11 L185.59 200.84 L186.82 200.58 L188.05 200.34 L189.28 200.12 L190.51 199.92 L191.74 199.75 L192.97 199.59 L194.2 199.44 L195.43 199.31 L196.66 199.18 L197.89 199.07 L199.12 198.96 L200.35 198.86 L201.59 198.77 L202.82 198.68 L204.05 198.6 L205.28 198.51 L206.51 198.43 L207.74 198.35 L208.97 198.27 L210.2 198.19 L211.43 198.11 L212.66 198.03 L213.89 197.96 L215.12 197.88 L216.35 197.81 L217.58 197.74 L218.82 197.67 L220.05 197.6 L221.28 197.54 L222.51 197.47 L223.74 197.41 L224.97 197.36 L226.2 197.32 L227.43 197.29 L228.66 197.27 L229.89 197.26 L231.12 197.25 L232.35 197.24 L233.58 197.23 L234.81 197.21 L236.05 197.19 L237.28 197.15 L238.51 197.09 L239.74 197.02 L240.97 196.92 L242.2 196.81 L243.43 196.68 L244.66 196.54 L245.89 196.39 L247.12 196.23 L248.35 196.07 L249.58 195.91 L250.81 195.75 L252.05 195.59 L253.28 195.41 L254.51 195.17 L255.74 194.92 L256.97 194.69 L258.2 194.51 L259.43 194.41 L260.66 194.42 L261.89 194.55 L263.12 194.76 L264.35 195.03 L265.58 195.34 L266.81 195.66 L268.04 195.98 L269.28 196.26 L270.51 196.49 L271.74 196.72 L272.97 196.95 L274.2 197.18 L275.43 197.4 L276.66 197.6 L277.89 197.78 L279.12 197.92 L280.35 198.02 L281.58 198.04 L282.81 197.96 L284.04 197.81 L285.27 197.62 L286.51 197.4 L287.74 197.17 L288.97 196.95 L290.2 196.76 L291.43 196.64 L292.66 196.57 L293.89 196.51 L295.12 196.45 L296.35 196.39 L297.58 196.35 L298.81 196.33 L300.04 196.33 L301.27 196.36 L302.51 196.43 L303.74 196.53 L304.97 196.64 L306.2 196.77 L307.43 196.89 L308.66 197 L309.89 197.09 L311.12 197.17 L312.35 197.24 L313.58 197.31 L314.81 197.38 L316.04 197.45 L317.27 197.52 L318.5 197.58 L319.74 197.64 L320.97 197.7 L322.2 197.76 L323.43 197.82 L324.66 197.87 L325.89 197.93 L327.12 197.98 L328.35 198.04 L329.58 198.09 L330.81 198.15 L332.04 198.2 L333.27 198.26 L334.5 198.3 L335.73 198.35 L336.97 198.38 L338.2 198.41 L339.43 198.43 L340.66 198.44 L341.89 198.43 L343.12 198.42 L344.35 198.39 L345.58 198.34 L346.81 198.28 L348.04 198.2 L349.27 198.09 L350.5 197.97 L351.73 197.8 L352.97 197.57 L354.2 197.29 L355.43 196.99 L356.66 196.68 L357.89 196.36 L359.12 196.06 L360.35 195.78 L361.58 195.52 L362.81 195.22 L364.04 194.89 L365.27 194.56 L366.5 194.28 L367.73 194.05 L368.96 193.91 L370.2 193.9 L371.43 194.03 L372.66 194.24 L373.89 194.49 L375.12 194.76 L376.35 195.04 L377.58 195.34 L378.81 195.63 L380.04 195.91 L381.27 196.19 L382.5 196.47 L383.73 196.76 L384.96 197.04 L386.19 197.32 L387.43 197.58 L388.66 197.66 L389.89 197.57 L391.12 197.39 L392.35 197.19 L393.58 197.03 L394.81 197 L396.04 197.15 L397.27 197.44 L398.5 197.82 L399.73 198.29 L400.96 198.83 L402.19 199.45 L403.42 200.13 L404.66 200.86 L405.89 201.61 L407.12 202.38 L408.35 203.18 L409.58 203.99 L410.81 204.89 L412.04 205.94 L413.27 206.99 L414.5 207.87 L415.73 208.47 L416.96 208.81 L418.19 208.96 L419.42 208.98 L420.66 208.93 L421.89 208.86 L423.12 208.76 L424.35 208.59 L425.58 208.38 L426.81 208.15 L428.04 207.92 L429.27 207.73 L430.5 207.61 L431.73 207.57 L432.96 207.64 L434.19 207.83 L435.42 208.09 L436.65 208.4 L437.89 208.73 L439.12 209.03 L440.35 209.27 L441.58 209.44 L442.81 209.57 L444.04 209.69 L445.27 209.79 L446.5 209.87 L447.73 209.92 L448.96 209.93 L450.19 209.89 L451.42 209.81 L452.65 209.7 L453.88 209.55 L455.12 209.38 L456.35 209.2 L457.58 209.02 L458.81 208.84 L460.04 208.65 L461.27 208.41 L462.5 208.14 L463.73 207.84 L464.96 207.51 L466.19 207.16 L467.42 206.77 L468.65 206.3 L469.88 205.6 L471.12 204.61 L472.35 203.25 L473.58 201.44 L474.81 199.13 L476.04 196.67 L477.27 194.21 L478.5 191.75 L479.73 189.29 L480.96 186.83 L482.19 184.37 L483.42 181.91 L484.65 180.05 L485.88 178.93 L487.11 178.31 L488.35 177.94 L489.58 177.65 L490.81 177.43 L492.04 177.25 L493.27 177.07 L494.5 176.87 L495.73 176.59 L496.96 176.17 L498.19 175.64 L499.42 175.05 L500.65 174.48 L501.88 173.98 L503.11 173.63 L504.34 173.5 L505.58 173.99 L506.81 175.1 L508.04 176.43 L509.27 177.69 L510.5 179.93 L511.73 184.4 L512.96 189.3 L514.19 192.85 L515.42 195.97 L516.65 198.75 L517.88 201.09 L519.11 202.88 L520.34 204.34 L521.58 205.54 L522.81 206.41 L524.04 206.88 L525.27 206.89 L526.5 206.47 L527.73 205.96 L528.96 205.4 L530.19 204.78 L531.42 204.09 L532.65 203.32 L533.88 202.46 L535.11 201.57 L536.34 200.65 L537.57 199.74 L538.81 198.85 L540.04 198.01 L541.27 197.24 L542.5 196.54 L543.73 195.88 L544.96 195.25 L546.19 194.64 L547.42 194.06 L548.65 193.49 L549.88 192.92 L551.11 192.33 L552.34 191.7 L553.57 191.05 L554.8 190.41 L556.04 189.84 L557.27 189.37 L558.5 189.03 L559.73 188.87 L560.96 188.92 L562.19 189.07 L563.42 189.23 L564.65 189.4 L565.88 189.58 L567.11 189.77 L568.34 189.96 L569.57 190.15 L570.8 190.33 L572.03 190.52 L573.27 190.69 L574.5 190.85 L575.73 191.02 L576.96 191.19 L578.19 191.36 L579.42 191.53 L580.65 191.7 L581.88 191.86 L583.11 192.03 L584.34 192.19 L585.57 192.35 L586.8 192.51 L588.03 192.66 L589.27 192.8 L590.5 192.84 L591.73 192.77 L592.96 192.62 L594.19 192.41 L595.42 192.15 L596.65 191.88 L597.88 191.61 L599.11 191.37 L600.34 191.17 L601.57 191.04 L602.8 191 L604.03 191.05 L605.26 191.16 L606.5 191.32 L607.73 191.51 L608.96 191.71 L610.19 191.92 L611.42 192.12 L612.65 192.28 L613.88 192.4 L615.11 192.45 L616.34 192.43 L617.57 192.33 L618.8 192.23 L620.03 192.13 L621.26 192.03 L622.49 191.92 L623.73 191.81 L624.96 191.71 L626.19 191.59 L627.42 191.48 L628.65 191.37 L629.88 191.25 L631.11 191.13 L632.34 191.02 L633.57 190.9 L634.8 190.78 L636.03 190.66 L637.26 190.54 L638.49 190.41 L639.73 190.29 L640.96 190.17 L642.19 190.05 L643.42 189.92 L644.65 189.79 L645.88 189.67 L647.11 189.53 L648.34 189.38 L649.57 189.22 L650.8 189.03 L652.03 188.84 L653.26 188.65 L654.49 188.44 L655.72 188.24 L656.96 188.04 L658.19 187.84 L659.42 187.66 L660.65 187.48 L661.88 187.31 L663.11 187.15 L664.34 187 L665.57 186.87 L666.8 186.76 L668.03 186.66 L669.26 186.6 L670.49 186.57 L671.72 186.57 L672.95 186.61 L674.19 186.72 L675.42 186.89 L676.65 187.13 L677.88 187.41 L679.11 187.72 L680.34 188.06 L681.57 188.42 L682.8 188.77 L684.03 189.13 L685.26 189.52 L686.49 189.94 L687.72 190.38 L688.95 190.82 L690.19 191.26 L691.42 191.68 L692.65 192.08 L693.88 192.44 L695.11 192.75 L696.34 193.01 L697.57 193.22 L698.8 193.36 L700.03 193.42 L701.26 193.41 L702.49 193.3 L703.72 193.1 L704.95 192.81 L706.18 192.46 L707.42 192.08 L708.65 191.69 L709.88 191.33 L711.11 191.03 L712.34 190.77 L713.57 190.53 L714.8 190.32 L716.03 190.16 L717.26 190.08 L718.49 190.09 L719.72 190.25 L720.95 190.67 L722.18 191.27 L723.41 192.01 L724.65 192.84 L725.88 193.69 L727.11 194.66 L728.34 195.75 L729.57 196.9 L730.8 197.99 L732.03 198.94 L733.26 199.69 L734.49 200.33 L735.72 200.91 L736.95 201.43 L738.18 201.89 L739.41 202.29 L740.64 202.65 L741.88 202.96 L743.11 203.22 L744.34 203.43 L745.57 203.58 L746.8 203.68 L748.03 203.75 L749.26 203.81 L750.49 203.87 L751.72 203.95 L752.95 204.07 L754.18 204.24 L755.41 204.48 L756.64 204.78 L757.88 205.12 L759.11 205.5 L760.34 205.92 L761.57 206.39 L762.8 206.91 L764.03 207.49 L765.26 208.14 L766.49 208.88 L767.72 209.64 L768.95 210.4 L770.18 211.1 L771.41 211.75 L772.64 212.35 L773.87 212.86 L775.11 213.22 L776.34 213.28 L777.57 213.05 L778.8 212.73 L780.03 212.49 L781.26 212.54 L782.49 212.73 L783.72 212.95 L784.95 213.18 L786.18 213.39 L787.41 213.55 L788.64 213.68 L789.87 213.8 L791.1 213.9 L792.34 213.97 L793.57 213.99 L794.8 213.81 L796.03 213.51 L797.26 213.19 L798.49 212.97 L799.72 212.96 L800.95 213.16 L802.18 213.36 L803.41 213.57 L804.64 213.77 L805.87 213.98 L807.1 214.18 L808.34 214.39 L809.57 214.59 L810.8 214.8 L812.03 215 L813.26 215.06 L814.49 214.89 L815.72 214.6 L816.95 214.25 L818.18 213.96 L819.41 213.66 L820.64 213.3 L821.87 212.94 L823.1 212.6 L824.33 212.31 L825.57 212.14 L826.8 212.11 L828.03 212.23 L829.26 212.46 L830.49 212.76 L831.72 213.12 L832.95 213.49 L834.18 213.89 L835.41 214.33 L836.64 214.84 L837.87 215.43 L839.1 216.12 L840.33 216.85 L841.56 217.6 L842.8 218.33 L844.03 219.01 L845.26 219.66 L846.49 220.29 L847.72 220.91 L848.95 221.51 L850.18 222.08 L851.41 222.6 L852.64 223.08 L853.87 223.56 L855.1 224.08 L856.33 224.67 L857.56 225.28 L858.8 225.9 L860.03 226.51 L861.26 227.13 L862.49 227.74 L863.72 228.36 L864.95 228.97 L866.18 229.59 L867.41 230.21 L868.64 230.82 L869.87 231.44 L871.1 232.04 L872.33 232.6 L873.56 233.15 L874.79 233.67 L876.03 234.18 L877.26 234.69 L878.49 235.2 L879.72 235.67 L880.95 236.09 L882.18 236.48 L883.41 236.83 L884.64 237.16 L885.87 237.45 L887.1 237.66 L888.33 237.78 L889.56 237.81 L890.79 237.75 L892.02 237.59 L893.26 237.34 L894.49 237.03 L895.72 236.66 L896.95 236.24 L898.18 235.77 L899.41 235.26 L900.64 234.71 L901.87 234.15 L903.1 233.57 L904.33 232.96 L905.56 232.33 L906.79 231.65 L908.02 230.94 L909.25 230.15 L910.49 229.31 L911.72 228.46 L912.95 227.6 L914.18 226.77 L915.41 226 L916.64 225.27 L917.87 224.6 L919.1 223.98 L920.33 223.45 L921.56 223 L922.79 222.71 L924.02 222.57 L925.25 222.52 L926.49 222.51 L927.72 222.49 L928.95 222.41 L930.18 222.21 L931.41 221.95 L932.64 221.62 L933.87 221.2 L935.1 220.66 L936.33 219.95 L937.56 218.94 L938.79 217.65 L940.02 216.22 L941.25 214.61 L942.48 212.87 L943.72 211.29 L944.95 210.01 L946.18 209.04 L947.41 208.52 L948.64 208.31 L949.87 208.16 L951.1 208.07 L952.33 208.02 L953.56 208.03 L954.79 208.09 L956.02 208.17 L957.25 208.27 L958.48 208.36 L959.71 208.46 L960.95 208.57 L962.18 208.69 L963.41 208.82 L964.64 208.96 L965.87 209.12 L967.1 209.33 L968.33 209.57 L969.56 209.82 L970.79 210.08 L972.02 210.32 L973.25 210.53 L974.48 210.64 L975.71 210.47 L976.95 210.18 L978.18 209.93 L979.41 209.89 L980.64 210.19 L981.87 210.61 L983.1 211.11 L984.33 211.64 L985.56 212.19 L986.79 212.75 L988.02 213.39 L989.25 214.07 L990.48 214.72 L991.71 215.3 L992.94 215.73 L994.18 215.88 L995.41 215.79 L996.64 215.55 L997.87 215.23 L999.1 214.91 L1000.33 214.47 L1001.56 213.95 L1002.79 213.42 L1004.02 212.98 L1005.25 212.71 L1006.48 212.64 L1007.71 212.71 L1008.94 212.89 L1010.17 213.14 L1011.41 213.61 L1012.64 214.26 L1013.87 214.93 L1015.1 215.44 L1016.33 215.6 L1017.56 215.5 L1018.79 215.31 L1020.02 215.04 L1021.25 214.74 L1022.48 214.4 L1023.71 214.05 L1024.94 213.65 L1026.17 213.23 L1027.41 212.8 L1028.64 212.38 L1029.87 211.98 L1031.1 211.61 L1032.33 211.29 L1033.56 211.03 L1034.79 210.83 L1036.02 210.7 L1037.25 210.64 L1038.48 210.66 L1039.71 210.75 L1040.94 210.92 L1042.17 211.17 L1043.4 211.5 L1044.64 211.9 L1045.87 212.33 L1047.1 212.78 L1048.33 213.21 L1049.56 213.62 L1050.79 213.98 L1052.02 214.31 L1053.25 214.61 L1054.48 214.9 L1055.71 215.15 L1056.94 215.35 L1058.17 215.39 L1059.4 215.21 L1060.63 214.75 L1061.87 214 L1063.1 213.12 L1064.33 212.16 L1065.56 211.17 L1066.79 210.15 L1068.02 209.06 L1069.25 207.95 L1070.48 206.87 L1071.71 205.91 L1072.94 205.15 L1074.17 204.59 L1075.4 204.19 L1076.63 203.94 L1077.86 203.87 L1079.1 203.93 L1080.33 203.99 L1081.56 203.94 L1082.79 203.67 L1084.02 203.31 L1085.25 202.94 L1086.48 202.58 L1087.71 202.2 L1088.94 201.83 L1090.17 201.45 L1091.4 201.06 L1092.63 200.65 L1093.86 200.25 L1095.1 199.84 L1096.33 199.45 L1097.56 199.08 L1098.79 198.78 L1100.02 198.59 L1101.25 198.48 L1102.48 198.47 L1103.71 198.53 L1104.94 198.66 L1106.17 198.84 L1107.4 199.08 L1108.63 199.34 L1109.86 199.61 L1111.09 199.87 L1112.33 200.14 L1113.56 200.4 L1114.79 200.67 L1116.02 200.93 L1117.25 201.2 L1118.48 201.46 L1119.71 201.72 L1120.94 201.98 L1122.17 202.24 L1123.4 202.5 L1124.63 202.76 L1125.86 203.02 L1127.09 203.26 L1128.32 203.44 L1129.56 203.57 L1130.79 203.66 L1132.02 203.71 L1133.25 203.73 L1134.48 203.75" stroke="#2ca02c" stroke-width="2.08" stroke-linecap="square"/>
<path d="M124.05 206.61 L125.28 206.87 L126.51 207.12 L127.74 207.35 L128.97 207.57 L130.2 207.78 L131.43 207.99 L132.66 208.19 L133.9 208.38 L135.13 208.57 L136.36 208.75 L137.59 208.91 L138.82 209.06 L140.05 209.19 L141.28 209.31 L142.51 209.41 L143.74 209.49 L144.97 209.56 L146.2 209.61 L147.43 209.58 L148.66 209.48 L149.89 209.3 L151.13 209.05 L152.36 208.77 L153.59 208.43 L154.82 208.01 L156.05 207.53 L157.28 207.02 L158.51 206.52 L159.74 206.05 L160.97 205.65 L162.2 205.36 L163.43 205.12 L164.66 204.9 L165.89 204.69 L167.12 204.49 L168.36 204.29 L169.59 204.1 L170.82 203.91 L172.05 203.71 L173.28 203.5 L174.51 203.28 L175.74 203.05 L176.97 202.8 L178.2 202.54 L179.43 202.26 L180.66 201.97 L181.89 201.68 L183.12 201.4 L184.36 201.11 L185.59 200.84 L186.82 200.58 L188.05 200.34 L189.28 200.12 L190.51 199.92 L191.74 199.75 L192.97 199.59 L194.2 199.44 L195.43 199.31 L196.66 199.18 L197.89 199.07 L199.12 198.96 L200.35 198.86 L201.59 198.77 L202.82 198.68 L204.05 198.6 L205.28 198.51 L206.51 198.43 L207.74 198.35 L208.97 198.27 L210.2 198.19 L211.43 198.11 L212.66 198.03 L213.89 197.96 L215.12 197.88 L216.35 197.81 L217.58 197.74 L218.82 197.67 L220.05 197.6 L221.28 197.54 L222.51 197.47 L223.74 197.41 L224.97 197.36 L226.2 197.32 L227.43 197.29 L228.66 197.27 L229.89 197.26 L231.12 197.25 L232.35 197.24 L233.58 197.23 L234.81 197.21 L236.05 197.19 L237.28 197.15 L238.51 197.09 L239.74 197.02 L240.97 196.92 L242.2 196.81 L243.43 196.68 L244.66 196.54 L245.89 196.39 L247.12 196.23 L248.35 196.07 L249.58 195.91 L250.81 195.75 L252.05 195.59 L253.28 195.41 L254.51 195.17 L255.74 194.92 L256.97 194.69 L258.2 194.51 L259.43 194.41 L260.66 194.42 L261.89 194.55 L263.12 194.76 L264.35 195.03 L265.58 195.34 L266.81 195.66 L268.04 195.98 L269.28 196.26 L270.51 196.49 L271.74 196.72 L272.97 196.95 L274.2 197.18 L275.43 197.4 L276.66 197.6 L277.89 197.78 L279.12 197.92 L280.35 198.02 L281.58 198.04 L282.81 197.96 L284.04 197.81 L285.27 197.62 L286.51 197.4 L287.74 197.17 L288.97 196.95 L290.2 196.76 L291.43 196.64 L292.66 196.57 L293.89 196.51 L295.12 196.45 L296.35 196.39 L297.58 196.35 L298.81 196.33 L300.04 196.33 L301.27 196.36 L302.51 196.43 L303.74 196.53 L304.97 196.64 L306.2 196.77 L307.43 196.89 L308.66 197 L309.89 197.09 L311.12 197.17 L312.35 197.24 L313.58 197.31 L314.81 197.38 L316.04 197.45 L317.27 197.52 L318.5 197.58 L319.74 197.64 L320.97 197.7 L322.2 197.76 L323.43 197.82 L324.66 197.87 L325.89 197.93 L327.12 197.98 L328.35 198.04 L329.58 198.09 L330.81 198.15 L332.04 198.2 L333.27 198.26 L334.5 198.3 L335.73 198.35 L336.97 198.38 L338.2 198.41 L339.43 198.43 L340.66 198.44 L341.89 198.43 L343.12 198.42 L344.35 198.39 L345.58 198.34 L346.81 198.28 L348.04 198.2 L349.27 198.09 L350.5 197.97 L351.73 197.8 L352.97 197.57 L354.2 197.29 L355.43 196.99 L356.66 196.68 L357.89 196.36 L359.12 196.06 L360.35 195.78 L361.58 195.52 L362.81 195.22 L364.04 194.89 L365.27 194.56 L366.5 194.28 L367.73 194.05 L368.96 193.91 L370.2 193.9 L371.43 194.03 L372.66 194.24 L373.89 194.49 L375.12 194.76 L376.35 195.04 L377.58 195.34 L378.81 195.63 L380.04 195.91 L381.27 196.19 L382.5 196.47 L383.73 196.76 L384.96 197.04 L386.19 197.32 L387.43 197.58 L388.66 197.66 L389.89 197.57 L391.12 197.39 L392.35 197.19 L393.58 197.03 L394.81 197 L396.04 197.15 L397.27 197.44 L398.5 197.82 L399.73 198.29 L400.96 198.83 L402.19 199.45 L403.42 200.13 L404.66 200.86 L405.89 201.61 L407.12 202.38 L408.35 203.18 L409.58 203.99 L410.81 204.89 L412.04 205.94 L413.27 206.99 L414.5 207.87 L415.73 208.47 L416.96 208.81 L418.19 208.96 L419.42 208.98 L420.66 208.93 L421.89 208.86 L423.12 208.76 L424.35 208.59 L425.58 208.38 L426.81 208.15 L428.04 207.92 L429.27 207.73 L430.5 207.61 L431.73 207.57 L432.96 207.64 L434.19 207.83 L435.42 208.09 L436.65 208.4 L437.89 208.73 L439.12 209.03 L440.35 209.27 L441.58 209.44 L442.81 209.57 L444.04 209.69 L445.27 209.79 L446.5 209.87 L447.73 209.92 L448.96 209.93 L450.19 209.89 L451.42 209.81 L452.65 209.7 L453.88 209.55 L455.12 209.38 L456.35 209.2 L457.58 209.02 L458.81 208.84 L460.04 208.65 L461.27 208.41 L462.5 208.14 L463.73 207.84 L464.96 207.51 L466.19 207.16 L467.42 206.77 L468.65 206.3 L469.88 205.6 L471.12 204.61 L472.35 203.25 L473.58 201.44 L474.81 199.13 L476.04 196.67 L477.27 194.21 L478.5 191.75 L479.73 189.29 L480.96 186.83 L482.19 184.37 L483.42 181.91 L484.65 180.05 L485.88 178.93 L487.11 178.31 L488.35 177.94 L489.58 177.65 L490.81 177.43 L492.04 177.25 L493.27 177.07 L494.5 176.87 L495.73 176.59 L496.96 176.17 L498.19 175.64 L499.42 175.05 L500.65 174.48 L501.88 173.98 L503.11 173.63 L504.34 173.5 L505.58 173.99 L506.81 175.1 L508.04 176.43 L509.27 177.69 L510.5 179.93 L511.73 184.4 L512.96 189.3 L514.19 192.85 L515.42 195.97 L516.65 198.75 L517.88 201.09 L519.11 202.88 L520.34 204.34 L521.58 205.54 L522.81 206.41 L524.04 206.88 L525.27 206.89 L526.5 206.47 L527.73 205.96 L528.96 205.4 L530.19 204.78 L531.42 204.09 L532.65 203.32 L533.88 202.46 L535.11 201.57 L536.34 200.65 L537.57 199.74 L538.81 198.85 L540.04 198.01 L541.27 197.24 L542.5 196.54 L543.73 195.88 L544.96 195.25 L546.19 194.64 L547.42 194.06 L548.65 193.49 L549.88 192.92 L551.11 192.33 L552.34 191.7 L553.57 191.05 L554.8 190.41 L556.04 189.84 L557.27 189.37 L558.5 189.03 L559.73 188.87 L560.96 188.92 L562.19 189.07 L563.42 189.23 L564.65 189.4 L565.88 189.58 L567.11 189.77 L568.34 189.96 L569.57 190.15 L570.8 190.33 L572.03 190.52 L573.27 190.69 L574.5 190.85 L575.73 191.02 L576.96 191.19 L578.19 191.36 L579.42 191.53 L580.65 191.7 L581.88 191.86 L583.11 192.03 L584.34 192.19 L585.57 192.35 L586.8 192.51 L588.03 192.66 L589.27 192.8 L590.5 192.84 L591.73 192.77 L592.96 192.62 L594.19 192.41 L595.42 192.15 L596.65 191.88 L597.88 191.61 L599.11 191.37 L600.34 191.17 L601.57 191.04 L602.8 191 L604.03 191.05 L605.26 191.16 L606.5 191.32 L607.73 191.51 L608.96 191.71 L610.19 191.92 L611.42 192.12 L612.65 192.28 L613.88 192.4 L615.11 192.45 L616.34 192.43 L617.57 192.33 L618.8 192.23 L620.03 192.13 L621.26 192.03 L622.49 191.92 L623.73 191.81 L624.96 191.71 L626.19 191.59 L627.42 191.48 L628.65 191.37 L629.88 191.25 L631.11 191.13 L632.34 191.02 L633.57 190.9 L634.8 190.78 L636.03 190.66 L637.26 190.54 L638.49 190.41 L639.73 190.29 L640.96 190.17 L642.19 190.05 L643.42 189.92 L644.65 189.79 L645.88 189.67 L647.11 189.53 L648.34 189.38 L649.57 189.22 L650.8 189.03 L652.03 188.84 L653.26 188.65 L654.49 188.44 L655.72 188.24 L656.96 188.04 L658.19 187.84 L659.42 187.66 L660.65 187.48 L661.88 187.31 L663.11 187.15 L664.34 187 L665.57 186.87 L666.8 186.76 L668.03 186.66 L669.26 186.6 L670.49 186.57 L671.72 186.57 L672.95 186.61 L674.19 186.72 L675.42 186.89 L676.65 187.13 L677.88 187.41 L679.11 187.72 L680.34 188.06 L681.57 188.42 L682.8 188.77 L684.03 189.13 L685.26 189.52 L686.49 189.94 L687.72 190.38 L688.95 190.82 L690.19 191.26 L691.42 191.68 L692.65 192.08 L693.88 192.44 L695.11 192.75 L696.34 193.01 L697.57 193.22 L698.8 193.36 L700.03 193.42 L701.26 193.41 L702.49 193.3 L703.72 193.1 L704.95 192.81 L706.18 192.46 L707.42 192.08 L708.65 191.69 L709.88 191.33 L711.11 191.03 L712.34 190.77 L713.57 190.53 L714.8 190.32 L716.03 190.16 L717.26 190.08 L718.49 190.09 L719.72 190.25 L720.95 190.67 L722.18 191.27 L723.41 192.01 L724.65 192.84 L725.88 193.69 L727.11 194.66 L728.34 195.75 L729.57 196.9 L730.8 197.99 L732.03 198.94 L733.26 199.69 L734.49 200.33 L735.72 200.91 L736.95 201.43 L738.18 201.89 L739.41 202.29 L740.64 202.65 L741.88 202.96 L743.11 203.22 L744.34 203.43 L745.57 203.58 L746.8 203.68 L748.03 203.75 L749.26 203.81 L750.49 203.87 L751.72 203.95 L752.95 204.07 L754.18 204.24 L755.41 204.48 L756.64 204.78 L757.88 205.12 L759.11 205.5 L760.34 205.92 L761.57 206.39 L762.8 206.91 L764.03 207.49 L765.26 208.14 L766.49 208.88 L767.72 209.64 L768.95 210.4 L770.18 211.1 L771.41 211.75 L772.64 212.35 L773.87 212.86 L775.11 213.22 L776.34 213.28 L777.57 213.05 L778.8 212.73 L780.03 212.49 L781.26 212.54 L782.49 212.73 L783.72 212.95 L784.95 213.18 L786.18 213.39 L787.41 213.55 L788.64 213.68 L789.87 213.8 L791.1 213.9 L792.34 213.97 L793.57 213.99 L794.8 213.81 L796.03 213.51 L797.26 213.19 L798.49 212.97 L799.72 212.96 L800.95 213.16 L802.18 213.36 L803.41 213.57 L804.64 213.77 L805.87 213.98 L807.1 214.18 L808.34 214.39 L809.57 214.59 L810.8 214.8 L812.03 215 L813.26 215.06 L814.49 214.89 L815.72 214.6 L816.95 214.25 L818.18 213.96 L819.41 213.66 L820.64 213.3 L821.87 212.94 L823.1 212.6 L824.33 212.31 L825.57 212.14 L826.8 212.11 L828.03 212.23 L829.26 212.46 L830.49 212.76 L831.72 213.12 L832.95 213.49 L834.18 213.89 L835.41 214.33 L836.64 214.84 L837.87 215.43 L839.1 216.12 L840.33 216.85 L841.56 217.6 L842.8 218.33 L844.03 219.01 L845.26 219.66 L846.49 220.29 L847.72 220.91 L848.95 221.51 L850.18 222.08 L851.41 222.6 L852.64 223.08 L853.87 223.56 L855.1 224.08 L856.33 224.67 L857.56 225.28 L858.8 225.9 L860.03 226.51 L861.26 227.13 L862.49 227.74 L863.72 228.36 L864.95 228.97 L866.18 229.59 L867.41 230.21 L868.64 230.82 L869.87 231.44 L871.1 232.04 L872.33 232.6 L873.56 233.15 L874.79 233.67 L876.03 234.18 L877.26 234.69 L878.49 235.2 L879.72 235.67 L880.95 236.09 L882.18 236.48 L883.41 236.83 L884.64 237.16 L885.87 237.45 L887.1 237.66 L888.33 237.78 L889.56 237.81 L890.79 237.75 L892.02 237.59 L893.26 237.34 L894.49 237.03 L895.72 236.66 L896.95 236.24 L898.18 235.77 L899.41 235.26 L900.64 234.71 L901.87 234.15 L903.1 233.57 L904.33 232.96 L905.56 232.33 L906.79 231.65 L908.02 230.94 L909.25 230.15 L910.49 229.31 L911.72 228.46 L912.95 227.6 L914.18 226.77 L915.41 226 L916.64 225.27 L917.87 224.6 L919.1 223.98 L920.33 223.45 L921.56 223 L922.79 222.71 L924.02 222.57 L925.25 222.52 L926.49 222.51 L927.72 222.49 L928.95 222.41 L930.18 222.21 L931.41 221.95 L932.64 221.62 L933.87 221.2 L935.1 220.66 L936.33 219.95 L937.56 218.94 L938.79 217.65 L940.02 216.22 L941.25 214.61 L942.48 212.87 L943.72 211.29 L944.95 210.01 L946.18 209.04 L947.41 208.52 L948.64 208.31 L949.87 208.16 L951.1 208.07 L952.33 208.02 L953.56 208.03 L954.79 208.09 L956.02 208.17 L957.25 208.27 L958.48 208.36 L959.71 208.46 L960.95 208.57 L962.18 208.69 L963.41 208.82 L964.64 208.96 L965.87 209.12 L967.1 209.33 L968.33 209.57 L969.56 209.82 L970.79 210.08 L972.02 210.32 L973.25 210.53 L974.48 210.64 L975.71 210.47 L976.95 210.18 L978.18 209.93 L979.41 209.89 L980.64 210.19 L981.87 210.61 L983.1 211.11 L984.33 211.64 L985.56 212.19 L986.79 212.75 L988.02 213.39 L989.25 214.07 L990.48 214.72 L991.71 215.3 L992.94 215.73 L994.18 215.88 L995.41 215.79 L996.64 215.55 L997.87 215.23 L999.1 214.91 L1000.33 214.47 L1001.56 213.95 L1002.79 213.42 L1004.02 212.98 L1005.25 212.71 L1006.48 212.64 L1007.71 212.71 L1008.94 212.89 L1010.17 213.14 L1011.41 213.61 L1012.64 214.26 L1013.87 214.93 L1015.1 215.44 L1016.33 215.6 L1017.56 215.5 L1018.79 215.31 L1020.02 215.04 L1021.25 214.74 L1022.48 214.4 L1023.71 214.05 L1024.94 213.65 L1026.17 213.23 L1027.41 212.8 L1028.64 212.38 L1029.87 211.98 L1031.1 211.61 L1032.33 211.29 L1033.56 211.03 L1034.79 210.83 L1036.02 210.7 L1037.25 210.64 L1038.48 210.66 L1039.71 210.75 L1040.94 210.92 L1042.17 211.17 L1043.4 211.5 L1044.64 211.9 L1045.87 212.33 L1047.1 212.78 L1048.33 213.21 L1049.56 213.62 L1050.79 213.98 L1052.02 214.31 L1053.25 214.61 L1054.48 214.9 L1055.71 215.15 L1056.94 215.35 L1058.17 215.39 L1059.4 215.21 L1060.63 214.75 L1061.87 214 L1063.1 213.12 L1064.33 212.16 L1065.56 211.17 L1066.79 210.15 L1068.02 209.06 L1069.25 207.95 L1070.48 206.87 L1071.71 205.91 L1072.94 205.15 L1074.17 204.59 L1075.4 204.19 L1076.63 203.94 L1077.86 203.87 L1079.1 203.93 L1080.33 203.99 L1081.56 203.94 L1082.79 203.67 L1084.02 203.31 L1085.25 202.94 L1086.48 202.58 L1087.71 202.2 L1088.94 201.83 L1090.17 201.45 L1091.4 201.06 L1092.63 200.65 L1093.86 200.25 L1095.1 199.84 L1096.33 199.45 L1097.56 199.08 L1098.79 198.78 L1100.02 198.59 L1101.25 198.48 L1102.48 198.47 L1103.71 198.53 L1104.94 198.66 L1106.17 198.84 L1107.4 199.08 L1108.63 199.34 L1109.86 199.61 L1111.09 199.87 L1112.33 200.14 L1113.56 200.4 L1114.79 200.67 L1116.02 200.93 L1117.25 201.2 L1118.48 201.46 L1119.71 201.72 L1120.94 201.98 L1122.17 202.24 L1123.4 202.5 L1124.63 202.76 L1125.86 203.02 L1127.09 203.26 L1128.32 203.44 L1129.56 203.57 L1130.79 203.66 L1132.02 203.71 L1133.25 203.73 L1134.48 203.75" stroke="#d62728" stroke-width="2.78" stroke-dasharray="10.28 4.44"/>
<path d="M124.05 146.38 L125.28 145.79 L126.51 145.26 L127.74 144.77 L128.97 144.31 L130.2 143.87 L131.43 143.45 L132.66 143.08 L133.9 142.76 L135.13 142.5 L136.36 142.28 L137.59 142.12 L138.82 142.01 L140.05 141.97 L141.28 142.03 L142.51 142.2 L143.74 142.5 L144.97 142.92 L146.2 143.49 L147.43 144.21 L148.66 145.09 L149.89 146.05 L151.13 147.06 L152.36 148.1 L153.59 149.12 L154.82 150.11 L156.05 151.04 L157.28 151.92 L158.51 152.79 L159.74 153.67 L160.97 154.54 L162.2 155.4 L163.43 156.25 L164.66 157.1 L165.89 157.93 L167.12 158.75 L168.36 159.54 L169.59 160.31 L170.82 161.06 L172.05 161.79 L173.28 162.5 L174.51 163.19 L175.74 163.86 L176.97 164.5 L178.2 165.1 L179.43 165.64 L180.66 166.13 L181.89 166.57 L183.12 166.95 L184.36 167.27 L185.59 167.53 L186.82 167.73 L188.05 167.91 L189.28 168.08 L190.51 168.22 L191.74 168.35 L192.97 168.46 L194.2 168.56 L195.43 168.65 L196.66 168.73 L197.89 168.79 L199.12 168.86 L200.35 168.92 L201.59 168.97 L202.82 169.02 L204.05 169.05 L205.28 169.08 L206.51 169.09 L207.74 169.08 L208.97 169.04 L210.2 168.99 L211.43 168.87 L212.66 168.69 L213.89 168.46 L215.12 168.21 L216.35 167.95 L217.58 167.72 L218.82 167.53 L220.05 167.4 L221.28 167.32 L222.51 167.26 L223.74 167.23 L224.97 167.22 L226.2 167.21 L227.43 167.2 L228.66 167.2 L229.89 167.18 L231.12 167.15 L232.35 167.11 L233.58 167.03 L234.81 166.93 L236.05 166.82 L237.28 166.7 L238.51 166.56 L239.74 166.41 L240.97 166.25 L242.2 166.06 L243.43 165.87 L244.66 165.65 L245.89 165.42 L247.12 165.17 L248.35 164.88 L249.58 164.57 L250.81 164.24 L252.05 163.9 L253.28 163.53 L254.51 163.15 L255.74 162.75 L256.97 162.29 L258.2 161.79 L259.43 161.27 L260.66 160.76 L261.89 160.28 L263.12 159.85 L264.35 159.51 L265.58 159.22 L266.81 158.96 L268.04 158.73 L269.28 158.5 L270.51 158.29 L271.74 158.06 L272.97 157.82 L274.2 157.56 L275.43 157.27 L276.66 156.98 L277.89 156.68 L279.12 156.37 L280.35 156.05 L281.58 155.71 L282.81 155.36 L284.04 154.99 L285.27 154.51 L286.51 153.89 L287.74 153.18 L288.97 152.46 L290.2 151.78 L291.43 151.21 L292.66 150.78 L293.89 150.39 L295.12 150.03 L296.35 149.7 L297.58 149.41 L298.81 149.18 L300.04 148.99 L301.27 148.84 L302.51 148.69 L303.74 148.53 L304.97 148.38 L306.2 148.23 L307.43 148.07 L308.66 147.92 L309.89 147.76 L311.12 147.61 L312.35 147.46 L313.58 147.3 L314.81 147.15 L316.04 146.99 L317.27 146.93 L318.5 147.01 L319.74 147.19 L320.97 147.43 L322.2 147.72 L323.43 147.99 L324.66 148.23 L325.89 148.39 L327.12 148.49 L328.35 148.59 L329.58 148.69 L330.81 148.78 L332.04 148.87 L333.27 148.96 L334.5 149.05 L335.73 149.13 L336.97 149.21 L338.2 149.29 L339.43 149.37 L340.66 149.44 L341.89 149.49 L343.12 149.53 L344.35 149.57 L345.58 149.59 L346.81 149.6 L348.04 149.6 L349.27 149.53 L350.5 149.34 L351.73 149.07 L352.97 148.77 L354.2 148.47 L355.43 148.21 L356.66 148.02 L357.89 147.94 L359.12 148.01 L360.35 148.16 L361.58 148.31 L362.81 148.47 L364.04 148.63 L365.27 148.79 L366.5 148.95 L367.73 149.11 L368.96 149.27 L370.2 149.42 L371.43 149.56 L372.66 149.69 L373.89 149.81 L375.12 149.93 L376.35 150.06 L377.58 150.22 L378.81 150.39 L380.04 150.61 L381.27 150.93 L382.5 151.39 L383.73 151.95 L384.96 152.55 L386.19 153.17 L387.43 153.75 L388.66 154.26 L389.89 154.67 L391.12 155.03 L392.35 155.38 L393.58 155.76 L394.81 156.22 L396.04 156.78 L397.27 157.49 L398.5 158.38 L399.73 159.3 L400.96 160.22 L402.19 161.15 L403.42 162.07 L404.66 162.99 L405.89 163.92 L407.12 164.84 L408.35 165.76 L409.58 166.68 L410.81 167.61 L412.04 168.53 L413.27 169.45 L414.5 170.31 L415.73 170.63 L416.96 170.56 L418.19 170.4 L419.42 170.43 L420.66 170.9 L421.89 171.62 L423.12 172.48 L424.35 173.37 L425.58 174.22 L426.81 174.93 L428.04 175.41 L429.27 175.72 L430.5 175.98 L431.73 176.19 L432.96 176.38 L434.19 176.55 L435.42 176.72 L436.65 176.91 L437.89 177.12 L439.12 177.38 L440.35 177.69 L441.58 178.01 L442.81 178.32 L444.04 178.66 L445.27 179.02 L446.5 179.43 L447.73 179.9 L448.96 180.46 L450.19 181.11 L451.42 181.85 L452.65 182.67 L453.88 183.54 L455.12 184.45 L456.35 185.37 L457.58 186.28 L458.81 187.17 L460.04 188.03 L461.27 188.84 L462.5 189.61 L463.73 190.35 L464.96 191.05 L466.19 191.69 L467.42 191.89 L468.65 191.55 L469.88 190.83 L471.12 189.91 L472.35 188.82 L473.58 187.5 L474.81 185.87 L476.04 183.87 L477.27 181.42 L478.5 178.56 L479.73 175.49 L480.96 172.42 L482.19 169.58 L483.42 166.93 L484.65 164.46 L485.88 162.2 L487.11 160.39 L488.35 159.32 L489.58 158.96 L490.81 159.3 L492.04 160.14 L493.27 161.12 L494.5 161.86 L495.73 162.13 L496.96 162.37 L498.19 162.57 L499.42 162.68 L500.65 162.65 L501.88 162.43 L503.11 162.07 L504.34 161.7 L505.58 161.33 L506.81 160.96 L508.04 160.58 L509.27 160.22 L510.5 159.85 L511.73 159.48 L512.96 159.11 L514.19 158.75 L515.42 158.4 L516.65 158.08 L517.88 157.85 L519.11 157.79 L520.34 157.89 L521.58 158.1 L522.81 158.39 L524.04 158.72 L525.27 159.05 L526.5 159.35 L527.73 159.57 L528.96 159.68 L530.19 159.73 L531.42 159.72 L532.65 159.69 L533.88 159.67 L535.11 159.69 L536.34 159.76 L537.57 159.92 L538.81 160.39 L540.04 161.65 L541.27 163.41 L542.5 165.28 L543.73 167.2 L544.96 169.79 L546.19 172.41 L547.42 174.25 L548.65 174.22 L549.88 172.29 L551.11 169.77 L552.34 166.32 L553.57 162.5 L554.8 160.12 L556.04 159.73 L557.27 159.67 L558.5 159.72 L559.73 159.65 L560.96 159.31 L562.19 158.8 L563.42 158.29 L564.65 157.96 L565.88 157.97 L567.11 158.45 L568.34 159.26 L569.57 160.28 L570.8 161.36 L572.03 162.36 L573.27 163.15 L574.5 163.83 L575.73 164.48 L576.96 165.13 L578.19 165.79 L579.42 166.47 L580.65 167.22 L581.88 168.18 L583.11 169.22 L584.34 170.17 L585.57 170.9 L586.8 171.35 L588.03 171.52 L589.27 171.46 L590.5 171.17 L591.73 170.71 L592.96 170.15 L594.19 169.5 L595.42 168.77 L596.65 167.97 L597.88 167.09 L599.11 166.11 L600.34 165.02 L601.57 163.87 L602.8 162.7 L604.03 161.58 L605.26 160.55 L606.5 159.65 L607.73 158.83 L608.96 158.09 L610.19 157.45 L611.42 156.94 L612.65 156.57 L613.88 156.39 L615.11 156.41 L616.34 156.53 L617.57 156.66 L618.8 156.81 L620.03 156.98 L621.26 157.16 L622.49 157.36 L623.73 157.57 L624.96 157.8 L626.19 158.04 L627.42 158.28 L628.65 158.53 L629.88 158.78 L631.11 159.02 L632.34 159.27 L633.57 159.51 L634.8 159.76 L636.03 160.01 L637.26 160.25 L638.49 160.5 L639.73 160.75 L640.96 160.99 L642.19 161.24 L643.42 161.48 L644.65 161.73 L645.88 161.98 L647.11 162.22 L648.34 162.46 L649.57 162.56 L650.8 162.5 L652.03 162.3 L653.26 162 L654.49 161.62 L655.72 161.2 L656.96 160.76 L658.19 160.34 L659.42 159.92 L660.65 159.49 L661.88 159.06 L663.11 158.61 L664.34 158.17 L665.57 157.71 L666.8 157.24 L668.03 156.77 L669.26 156.29 L670.49 155.8 L671.72 155.28 L672.95 154.73 L674.19 154.16 L675.42 153.57 L676.65 152.99 L677.88 152.41 L679.11 151.84 L680.34 151.29 L681.57 150.77 L682.8 150.31 L684.03 149.98 L685.26 149.74 L686.49 149.58 L687.72 149.48 L688.95 149.4 L690.19 149.37 L691.42 149.43 L692.65 149.58 L693.88 149.85 L695.11 150.24 L696.34 150.76 L697.57 151.39 L698.8 152.14 L700.03 152.98 L701.26 153.9 L702.49 154.89 L703.72 155.94 L704.95 157.04 L706.18 158.17 L707.42 159.44 L708.65 160.85 L709.88 162.34 L711.11 163.85 L712.34 165.31 L713.57 166.66 L714.8 167.83 L716.03 168.82 L717.26 169.71 L718.49 170.49 L719.72 171.16 L720.95 171.72 L722.18 172.17 L723.41 172.5 L724.65 172.77 L725.88 172.99 L727.11 173.19 L728.34 173.37 L729.57 173.56 L730.8 173.77 L732.03 174.01 L733.26 174.38 L734.49 174.85 L735.72 175.26 L736.95 175.33 L738.18 174.33 L739.41 172.7 L740.64 171.05 L741.88 170.04 L743.11 169.78 L744.34 169.73 L745.57 169.78 L746.8 169.84 L748.03 169.82 L749.26 169.63 L750.49 169.21 L751.72 168.7 L752.95 168.15 L754.18 167.58 L755.41 166.97 L756.64 166.34 L757.88 165.67 L759.11 164.98 L760.34 164.28 L761.57 163.55 L762.8 162.79 L764.03 161.98 L765.26 161.11 L766.49 160.17 L767.72 159.14 L768.95 158.03 L770.18 156.81 L771.41 155.23 L772.64 153.32 L773.87 151.28 L775.11 149.29 L776.34 147.55 L777.57 145.94 L778.8 144.45 L780.03 143.19 L781.26 142.24 L782.49 141.85 L783.72 141.91 L784.95 142.17 L786.18 142.37 L787.41 142.24 L788.64 141.64 L789.87 140.88 L791.1 140.07 L792.34 139.24 L793.57 138.44 L794.8 137.71 L796.03 137.03 L797.26 136.34 L798.49 135.7 L799.72 135.14 L800.95 134.72 L802.18 134.48 L803.41 134.51 L804.64 134.77 L805.87 135.19 L807.1 135.66 L808.34 136.14 L809.57 136.91 L810.8 137.77 L812.03 138.37 L813.26 138.34 L814.49 138.02 L815.72 137.67 L816.95 137.31 L818.18 136.94 L819.41 136.57 L820.64 136.21 L821.87 135.84 L823.1 135.46 L824.33 135.08 L825.57 134.7 L826.8 134.34 L828.03 133.99 L829.26 133.85 L830.49 134.03 L831.72 134.43 L832.95 134.98 L834.18 135.59 L835.41 136.16 L836.64 136.66 L837.87 137.24 L839.1 137.93 L840.33 138.73 L841.56 139.65 L842.8 141.35 L844.03 144.82 L845.26 147.35 L846.49 148.43 L847.72 148.26 L848.95 146.77 L850.18 144.66 L851.41 142.06 L852.64 138.74 L853.87 135.36 L855.1 132.84 L856.33 131.32 L857.56 130.35 L858.8 129.69 L860.03 129.09 L861.26 128.5 L862.49 128.2 L863.72 128.44 L864.95 129.27 L866.18 130.28 L867.41 131.41 L868.64 132.63 L869.87 133.91 L871.1 135.22 L872.33 136.55 L873.56 137.87 L874.79 139.17 L876.03 140.43 L877.26 141.68 L878.49 142.93 L879.72 144.14 L880.95 145.27 L882.18 146.26 L883.41 147.08 L884.64 147.71 L885.87 148.3 L887.1 148.86 L888.33 149.4 L889.56 149.94 L890.79 150.47 L892.02 151.01 L893.26 151.55 L894.49 152.1 L895.72 152.63 L896.95 153.16 L898.18 153.67 L899.41 154.15 L900.64 154.4 L901.87 154.42 L903.1 154.31 L904.33 154.11 L905.56 153.92 L906.79 153.8 L908.02 153.83 L909.25 154.07 L910.49 154.39 L911.72 154.72 L912.95 155.05 L914.18 155.38 L915.41 155.71 L916.64 156.04 L917.87 156.37 L919.1 156.69 L920.33 157 L921.56 157.31 L922.79 157.62 L924.02 157.93 L925.25 158.25 L926.49 158.58 L927.72 158.92 L928.95 159.29 L930.18 159.71 L931.41 160.17 L932.64 160.66 L933.87 161.16 L935.1 161.65 L936.33 162.13 L937.56 162.62 L938.79 163.12 L940.02 163.63 L941.25 164.12 L942.48 164.56 L943.72 164.79 L944.95 164.81 L946.18 164.67 L947.41 164.4 L948.64 164.04 L949.87 163.64 L951.1 163.19 L952.33 162.64 L953.56 162.03 L954.79 161.41 L956.02 160.81 L957.25 160.28 L958.48 159.84 L959.71 159.47 L960.95 159.15 L962.18 158.91 L963.41 158.73 L964.64 158.62 L965.87 158.64 L967.1 158.91 L968.33 159.33 L969.56 159.79 L970.79 160.18 L972.02 160.4 L973.25 160.29 L974.48 159.89 L975.71 159.39 L976.95 158.98 L978.18 158.84 L979.41 159.15 L980.64 159.77 L981.87 160.54 L983.1 161.35 L984.33 162.07 L985.56 162.64 L986.79 163.15 L988.02 163.63 L989.25 164.09 L990.48 164.51 L991.71 164.91 L992.94 165.23 L994.18 165.36 L995.41 165.31 L996.64 165.09 L997.87 164.69 L999.1 164.01 L1000.33 163.01 L1001.56 161.67 L1002.79 159.93 L1004.02 157.9 L1005.25 155.77 L1006.48 153.61 L1007.71 151.49 L1008.94 149.4 L1010.17 147.35 L1011.41 145.38 L1012.64 143.55 L1013.87 143.08 L1015.1 144.25 L1016.33 145.85 L1017.56 146.7 L1018.79 146.15 L1020.02 145.43 L1021.25 144.64 L1022.48 143.78 L1023.71 142.84 L1024.94 141.79 L1026.17 140.68 L1027.41 139.55 L1028.64 138.44 L1029.87 137.41 L1031.1 136.45 L1032.33 135.59 L1033.56 134.89 L1034.79 134.4 L1036.02 134.2 L1037.25 134.24 L1038.48 134.41 L1039.71 134.64 L1040.94 134.87 L1042.17 135.01 L1043.4 135 L1044.64 134.88 L1045.87 134.78 L1047.1 134.82 L1048.33 135.13 L1049.56 136.17 L1050.79 137.78 L1052.02 139.6 L1053.25 141.24 L1054.48 142.4 L1055.71 143.41 L1056.94 144.37 L1058.17 145.3 L1059.4 146.19 L1060.63 146.99 L1061.87 147.55 L1063.1 148 L1064.33 148.51 L1065.56 149.25 L1066.79 150.41 L1068.02 152.07 L1069.25 154 L1070.48 155.95 L1071.71 157.66 L1072.94 159.05 L1074.17 160.38 L1075.4 161.66 L1076.63 162.89 L1077.86 164.07 L1079.1 165.2 L1080.33 166.29 L1081.56 167.35 L1082.79 168.34 L1084.02 169.17 L1085.25 169.75 L1086.48 170.01 L1087.71 169.9 L1088.94 169.61 L1090.17 169.2 L1091.4 168.7 L1092.63 168.16 L1093.86 167.59 L1095.1 166.94 L1096.33 166.25 L1097.56 165.6 L1098.79 165.03 L1100.02 164.59 L1101.25 164.31 L1102.48 164.12 L1103.71 163.98 L1104.94 163.86 L1106.17 163.73 L1107.4 163.53 L1108.63 163.25 L1109.86 162.94 L1111.09 162.62 L1112.33 162.3 L1113.56 161.99 L1114.79 161.68 L1116.02 161.4 L1117.25 161.12 L1118.48 160.85 L1119.71 160.59 L1120.94 160.34 L1122.17 160.09 L1123.4 159.86 L1124.63 159.63 L1125.86 159.42 L1127.09 159.23 L1128.32 159.07 L1129.56 158.94 L1130.79 158.83 L1132.02 158.74 L1133.25 158.67 L1134.48 158.62" stroke="#9467bd" stroke-width="2.08" stroke-linecap="square"/>
<path d="M124.05 146.38 L125.28 145.79 L126.51 145.26 L127.74 144.77 L128.97 144.31 L130.2 143.87 L131.43 143.45 L132.66 143.08 L133.9 142.76 L135.13 142.5 L136.36 142.28 L137.59 142.12 L138.82 142.01 L140.05 141.97 L141.28 142.03 L142.51 142.2 L143.74 142.5 L144.97 142.92 L146.2 143.49 L147.43 144.21 L148.66 145.09 L149.89 146.05 L151.13 147.06 L152.36 148.1 L153.59 149.12 L154.82 150.11 L156.05 151.04 L157.28 151.92 L158.51 152.79 L159.74 153.67 L160.97 154.54 L162.2 155.4 L163.43 156.25 L164.66 157.1 L165.89 157.93 L167.12 158.75 L168.36 159.54 L169.59 160.31 L170.82 161.06 L172.05 161.79 L173.28 162.5 L174.51 163.19 L175.74 163.86 L176.97 164.5 L178.2 165.1 L179.43 165.64 L180.66 166.13 L181.89 166.57 L183.12 166.95 L184.36 167.27 L185.59 167.53 L186.82 167.73 L188.05 167.91 L189.28 168.08 L190.51 168.22 L191.74 168.35 L192.97 168.46 L194.2 168.56 L195.43 168.65 L196.66 168.73 L197.89 168.79 L199.12 168.86 L200.35 168.92 L201.59 168.97 L202.82 169.02 L204.05 169.05 L205.28 169.08 L206.51 169.09 L207.74 169.08 L208.97 169.04 L210.2 168.99 L211.43 168.87 L212.66 168.69 L213.89 168.46 L215.12 168.21 L216.35 167.95 L217.58 167.72 L218.82 167.53 L220.05 167.4 L221.28 167.32 L222.51 167.26 L223.74 167.23 L224.97 167.22 L226.2 167.21 L227.43 167.2 L228.66 167.2 L229.89 167.18 L231.12 167.15 L232.35 167.11 L233.58 167.03 L234.81 166.93 L236.05 166.82 L237.28 166.7 L238.51 166.56 L239.74 166.41 L240.97 166.25 L242.2 166.06 L243.43 165.87 L244.66 165.65 L245.89 165.42 L247.12 165.17 L248.35 164.88 L249.58 164.57 L250.81 164.24 L252.05 163.9 L253.28 163.53 L254.51 163.15 L255.74 162.75 L256.97 162.29 L258.2 161.79 L259.43 161.27 L260.66 160.76 L261.89 160.28 L263.12 159.85 L264.35 159.51 L265.58 159.22 L266.81 158.96 L268.04 158.73 L269.28 158.5 L270.51 158.29 L271.74 158.06 L272.97 157.82 L274.2 157.56 L275.43 157.27 L276.66 156.98 L277.89 156.68 L279.12 156.37 L280.35 156.05 L281.58 155.71 L282.81 155.36 L284.04 154.99 L285.27 154.51 L286.51 153.89 L287.74 153.18 L288.97 152.46 L290.2 151.78 L291.43 151.21 L292.66 150.78 L293.89 150.39 L295.12 150.03 L296.35 149.7 L297.58 149.41 L298.81 149.18 L300.04 148.99 L301.27 148.84 L302.51 148.69 L303.74 148.53 L304.97 148.38 L306.2 148.23 L307.43 148.07 L308.66 147.92 L309.89 147.76 L311.12 147.61 L312.35 147.46 L313.58 147.3 L314.81 147.15 L316.04 146.99 L317.27 146.93 L318.5 147.01 L319.74 147.19 L320.97 147.43 L322.2 147.72 L323.43 147.99 L324.66 148.23 L325.89 148.39 L327.12 148.49 L328.35 148.59 L329.58 148.69 L330.81 148.78 L332.04 148.87 L333.27 148.96 L334.5 149.05 L335.73 149.13 L336.97 149.21 L338.2 149.29 L339.43 149.37 L340.66 149.44 L341.89 149.49 L343.12 149.53 L344.35 149.57 L345.58 149.59 L346.81 149.6 L348.04 149.6 L349.27 149.53 L350.5 149.34 L351.73 149.07 L352.97 148.77 L354.2 148.47 L355.43 148.21 L356.66 148.02 L357.89 147.94 L359.12 148.01 L360.35 148.16 L361.58 148.31 L362.81 148.47 L364.04 148.63 L365.27 148.79 L366.5 148.95 L367.73 149.11 L368.96 149.27 L370.2 149.42 L371.43 149.56 L372.66 149.69 L373.89 149.81 L375.12 149.93 L376.35 150.06 L377.58 150.22 L378.81 150.39 L380.04 150.61 L381.27 150.93 L382.5 151.39 L383.73 151.95 L384.96 152.55 L386.19 153.17 L387.43 153.75 L388.66 154.26 L389.89 154.67 L391.12 155.03 L392.35 155.38 L393.58 155.76 L394.81 156.22 L396.04 156.78 L397.27 157.49 L398.5 158.38 L399.73 159.3 L400.96 160.22 L402.19 161.15 L403.42 162.07 L404.66 162.99 L405.89 163.92 L407.12 164.84 L408.35 165.76 L409.58 166.68 L410.81 167.61 L412.04 168.53 L413.27 169.45 L414.5 170.31 L415.73 170.63 L416.96 170.56 L418.19 170.4 L419.42 170.43 L420.66 170.9 L421.89 171.62 L423.12 172.48 L424.35 173.37 L425.58 174.22 L426.81 174.93 L428.04 175.41 L429.27 175.72 L430.5 175.98 L431.73 176.19 L432.96 176.38 L434.19 176.55 L435.42 176.72 L436.65 176.91 L437.89 177.12 L439.12 177.38 L440.35 177.69 L441.58 178.01 L442.81 178.32 L444.04 178.66 L445.27 179.02 L446.5 179.43 L447.73 179.9 L448.96 180.46 L450.19 181.11 L451.42 181.85 L452.65 182.67 L453.88 183.54 L455.12 184.45 L456.35 185.37 L457.58 186.28 L458.81 187.17 L460.04 188.03 L461.27 188.84 L462.5 189.61 L463.73 190.35 L464.96 191.05 L466.19 191.69 L467.42 191.89 L468.65 191.55 L469.88 190.83 L471.12 189.91 L472.35 188.82 L473.58 187.5 L474.81 185.87 L476.04 183.87 L477.27 181.42 L478.5 178.56 L479.73 175.49 L480.96 172.42 L482.19 169.58 L483.42 166.93 L484.65 164.46 L485.88 162.2 L487.11 160.39 L488.35 159.32 L489.58 158.96 L490.81 159.3 L492.04 160.14 L493.27 161.12 L494.5 161.86 L495.73 162.13 L496.96 162.37 L498.19 162.57 L499.42 162.68 L500.65 162.65 L501.88 162.43 L503.11 162.07 L504.34 161.7 L505.58 161.33 L506.81 160.96 L508.04 160.58 L509.27 160.22 L510.5 159.85 L511.73 159.48 L512.96 159.11 L514.19 158.75 L515.42 158.4 L516.65 158.08 L517.88 157.85 L519.11 157.79 L520.34 157.89 L521.58 158.1 L522.81 158.39 L524.04 158.72 L525.27 159.05 L526.5 159.35 L527.73 159.57 L528.96 159.68 L530.19 159.73 L531.42 159.72 L532.65 159.69 L533.88 159.67 L535.11 159.69 L536.34 159.76 L537.57 159.92 L538.81 160.39 L540.04 161.65 L541.27 163.41 L542.5 165.28 L543.73 167.2 L544.96 169.79 L546.19 172.41 L547.42 174.25 L548.65 174.22 L549.88 172.29 L551.11 169.77 L552.34 166.32 L553.57 162.5 L554.8 160.12 L556.04 159.73 L557.27 159.67 L558.5 159.72 L559.73 159.65 L560.96 159.31 L562.19 158.8 L563.42 158.29 L564.65 157.96 L565.88 157.97 L567.11 158.45 L568.34 159.26 L569.57 160.28 L570.8 161.36 L572.03 162.36 L573.27 163.15 L574.5 163.83 L575.73 164.48 L576.96 165.13 L578.19 165.79 L579.42 166.47 L580.65 167.22 L581.88 168.18 L583.11 169.22 L584.34 170.17 L585.57 170.9 L586.8 171.35 L588.03 171.52 L589.27 171.46 L590.5 171.17 L591.73 170.71 L592.96 170.15 L594.19 169.5 L595.42 168.77 L596.65 167.97 L597.88 167.09 L599.11 166.11 L600.34 165.02 L601.57 163.87 L602.8 162.7 L604.03 161.58 L605.26 160.55 L606.5 159.65 L607.73 158.83 L608.96 158.09 L610.19 157.45 L611.42 156.94 L612.65 156.57 L613.88 156.39 L615.11 156.41 L616.34 156.53 L617.57 156.66 L618.8 156.81 L620.03 156.98 L621.26 157.16 L622.49 157.36 L623.73 157.57 L624.96 157.8 L626.19 158.04 L627.42 158.28 L628.65 158.53 L629.88 158.78 L631.11 159.02 L632.34 159.27 L633.57 159.51 L634.8 159.76 L636.03 160.01 L637.26 160.25 L638.49 160.5 L639.73 160.75 L640.96 160.99 L642.19 161.24 L643.42 161.48 L644.65 161.73 L645.88 161.98 L647.11 162.22 L648.34 162.46 L649.57 162.56 L650.8 162.5 L652.03 162.3 L653.26 162 L654.49 161.62 L655.72 161.2 L656.96 160.76 L658.19 160.34 L659.42 159.92 L660.65 159.49 L661.88 159.06 L663.11 158.61 L664.34 158.17 L665.57 157.71 L666.8 157.24 L668.03 156.77 L669.26 156.29 L670.49 155.8 L671.72 155.28 L672.95 154.73 L674.19 154.16 L675.42 153.57 L676.65 152.99 L677.88 152.41 L679.11 151.84 L680.34 151.29 L681.57 150.77 L682.8 150.31 L684.03 149.98 L685.26 149.74 L686.49 149.58 L687.72 149.48 L688.95 149.4 L690.19 149.37 L691.42 149.43 L692.65 149.58 L693.88 149.85 L695.11 150.24 L696.34 150.76 L697.57 151.39 L698.8 152.14 L700.03 152.98 L701.26 153.9 L702.49 154.89 L703.72 155.94 L704.95 157.04 L706.18 158.17 L707.42 159.44 L708.65 160.85 L709.88 162.34 L711.11 163.85 L712.34 165.31 L713.57 166.66 L714.8 167.83 L716.03 168.82 L717.26 169.71 L718.49 170.49 L719.72 171.16 L720.95 171.72 L722.18 172.17 L723.41 172.5 L724.65 172.77 L725.88 172.99 L727.11 173.19 L728.34 173.37 L729.57 173.56 L730.8 173.77 L732.03 174.01 L733.26 174.38 L734.49 174.85 L735.72 175.26 L736.95 175.33 L738.18 174.33 L739.41 172.7 L740.64 171.05 L741.88 170.04 L743.11 169.78 L744.34 169.73 L745.57 169.78 L746.8 169.84 L748.03 169.82 L749.26 169.63 L750.49 169.21 L751.72 168.7 L752.95 168.15 L754.18 167.58 L755.41 166.97 L756.64 166.34 L757.88 165.67 L759.11 164.98 L760.34 164.28 L761.57 163.55 L762.8 162.79 L764.03 161.98 L765.26 161.11 L766.49 160.17 L767.72 159.14 L768.95 158.03 L770.18 156.81 L771.41 155.23 L772.64 153.32 L773.87 151.28 L775.11 149.29 L776.34 147.55 L777.57 145.94 L778.8 144.45 L780.03 143.19 L781.26 142.24 L782.49 141.85 L783.72 141.91 L784.95 142.17 L786.18 142.37 L787.41 142.24 L788.64 141.64 L789.87 140.88 L791.1 140.07 L792.34 139.24 L793.57 138.44 L794.8 137.71 L796.03 137.03 L797.26 136.34 L798.49 135.7 L799.72 135.14 L800.95 134.72 L802.18 134.48 L803.41 134.51 L804.64 134.77 L805.87 135.19 L807.1 135.66 L808.34 136.14 L809.57 136.91 L810.8 137.77 L812.03 138.37 L813.26 138.34 L814.49 138.02 L815.72 137.67 L816.95 137.31 L818.18 136.94 L819.41 136.57 L820.64 136.21 L821.87 135.84 L823.1 135.46 L824.33 135.08 L825.57 134.7 L826.8 134.34 L828.03 133.99 L829.26 133.85 L830.49 134.03 L831.72 134.43 L832.95 134.98 L834.18 135.59 L835.41 136.16 L836.64 136.66 L837.87 137.24 L839.1 137.93 L840.33 138.73 L841.56 139.65 L842.8 141.35 L844.03 144.82 L845.26 147.35 L846.49 148.43 L847.72 148.26 L848.95 146.77 L850.18 144.66 L851.41 142.06 L852.64 138.74 L853.87 135.36 L855.1 132.84 L856.33 131.32 L857.56 130.35 L858.8 129.69 L860.03 129.09 L861.26 128.5 L862.49 128.2 L863.72 128.44 L864.95 129.27 L866.18 130.28 L867.41 131.41 L868.64 132.63 L869.87 133.91 L871.1 135.22 L872.33 136.55 L873.56 137.87 L874.79 139.17 L876.03 140.43 L877.26 141.68 L878.49 142.93 L879.72 144.14 L880.95 145.27 L882.18 146.26 L883.41 147.08 L884.64 147.71 L885.87 148.3 L887.1 148.86 L888.33 149.4 L889.56 149.94 L890.79 150.47 L892.02 151.01 L893.26 151.55 L894.49 152.1 L895.72 152.63 L896.95 153.16 L898.18 153.67 L899.41 154.15 L900.64 154.4 L901.87 154.42 L903.1 154.31 L904.33 154.11 L905.56 153.92 L906.79 153.8 L908.02 153.83 L909.25 154.07 L910.49 154.39 L911.72 154.72 L912.95 155.05 L914.18 155.38 L915.41 155.71 L916.64 156.04 L917.87 156.37 L919.1 156.69 L920.33 157 L921.56 157.31 L922.79 157.62 L924.02 157.93 L925.25 158.25 L926.49 158.58 L927.72 158.92 L928.95 159.29 L930.18 159.71 L931.41 160.17 L932.64 160.66 L933.87 161.16 L935.1 161.65 L936.33 162.13 L937.56 162.62 L938.79 163.12 L940.02 163.63 L941.25 164.12 L942.48 164.56 L943.72 164.79 L944.95 164.81 L946.18 164.67 L947.41 164.4 L948.64 164.04 L949.87 163.64 L951.1 163.19 L952.33 162.64 L953.56 162.03 L954.79 161.41 L956.02 160.81 L957.25 160.28 L958.48 159.84 L959.71 159.47 L960.95 159.15 L962.18 158.91 L963.41 158.73 L964.64 158.62 L965.87 158.64 L967.1 158.91 L968.33 159.33 L969.56 159.79 L970.79 160.18 L972.02 160.4 L973.25 160.29 L974.48 159.89 L975.71 159.39 L976.95 158.98 L978.18 158.84 L979.41 159.15 L980.64 159.77 L981.87 160.54 L983.1 161.35 L984.33 162.07 L985.56 162.64 L986.79 163.15 L988.02 163.63 L989.25 164.09 L990.48 164.51 L991.71 164.91 L992.94 165.23 L994.18 165.36 L995.41 165.31 L996.64 165.09 L997.87 164.69 L999.1 164.01 L1000.33 163.01 L1001.56 161.67 L1002.79 159.93 L1004.02 157.9 L1005.25 155.77 L1006.48 153.61 L1007.71 151.49 L1008.94 149.4 L1010.17 147.35 L1011.41 145.38 L1012.64 143.55 L1013.87 143.08 L1015.1 144.25 L1016.33 145.85 L1017.56 146.7 L1018.79 146.15 L1020.02 145.43 L1021.25 144.64 L1022.48 143.78 L1023.71 142.84 L1024.94 141.79 L1026.17 140.68 L1027.41 139.55 L1028.64 138.44 L1029.87 137.41 L1031.1 136.45 L1032.33 135.59 L1033.56 134.89 L1034.79 134.4 L1036.02 134.2 L1037.25 134.24 L1038.48 134.41 L1039.71 134.64 L1040.94 134.87 L1042.17 135.01 L1043.4 135 L1044.64 134.88 L1045.87 134.78 L1047.1 134.82 L1048.33 135.13 L1049.56 136.17 L1050.79 137.78 L1052.02 139.6 L1053.25 141.24 L1054.48 142.4 L1055.71 143.41 L1056.94 144.37 L1058.17 145.3 L1059.4 146.19 L1060.63 146.99 L1061.87 147.55 L1063.1 148 L1064.33 148.51 L1065.56 149.25 L1066.79 150.41 L1068.02 152.07 L1069.25 154 L1070.48 155.95 L1071.71 157.66 L1072.94 159.05 L1074.17 160.38 L1075.4 161.66 L1076.63 162.89 L1077.86 164.07 L1079.1 165.2 L1080.33 166.29 L1081.56 167.35 L1082.79 168.34 L1084.02 169.17 L1085.25 169.75 L1086.48 170.01 L1087.71 169.9 L1088.94 169.61 L1090.17 169.2 L1091.4 168.7 L1092.63 168.16 L1093.86 167.59 L1095.1 166.94 L1096.33 166.25 L1097.56 165.6 L1098.79 165.03 L1100.02 164.59 L1101.25 164.31 L1102.48 164.12 L1103.71 163.98 L1104.94 163.86 L1106.17 163.73 L1107.4 163.53 L1108.63 163.25 L1109.86 162.94 L1111.09 162.62 L1112.33 162.3 L1113.56 161.99 L1114.79 161.68 L1116.02 161.4 L1117.25 161.12 L1118.48 160.85 L1119.71 160.59 L1120.94 160.34 L1122.17 160.09 L1123.4 159.86 L1124.63 159.63 L1125.86 159.42 L1127.09 159.23 L1128.32 159.07 L1129.56 158.94 L1130.79 158.83 L1132.02 158.74 L1133.25 158.67 L1134.48 158.62" stroke="#8c564b" stroke-width="2.78" stroke-dasharray="10.28 4.44"/>
<path d="M124.05 220.74 L125.28 220.54 L126.51 220.33 L127.74 220.11 L128.97 219.87 L130.2 219.61 L131.43 219.34 L132.66 219.05 L133.9 218.74 L135.13 218.42 L136.36 218.07 L137.59 217.69 L138.82 217.27 L140.05 216.84 L141.28 216.4 L142.51 215.96 L143.74 215.54 L144.97 215.16 L146.2 214.8 L147.43 214.45 L148.66 214.11 L149.89 213.79 L151.13 213.48 L152.36 213.19 L153.59 212.93 L154.82 212.7 L156.05 212.48 L157.28 212.29 L158.51 212.12 L159.74 211.96 L160.97 211.82 L162.2 211.68 L163.43 211.55 L164.66 211.43 L165.89 211.31 L167.12 211.21 L168.36 211.14 L169.59 211.1 L170.82 211.09 L172.05 211.12 L173.28 211.17 L174.51 211.24 L175.74 211.31 L176.97 211.4 L178.2 211.5 L179.43 211.6 L180.66 211.71 L181.89 211.82 L183.12 211.93 L184.36 212.05 L185.59 212.16 L186.82 212.29 L188.05 212.42 L189.28 212.56 L190.51 212.71 L191.74 212.87 L192.97 213.04 L194.2 213.21 L195.43 213.38 L196.66 213.55 L197.89 213.72 L199.12 213.88 L200.35 214.03 L201.59 214.17 L202.82 214.3 L204.05 214.43 L205.28 214.57 L206.51 214.7 L207.74 214.82 L208.97 214.95 L210.2 215.07 L211.43 215.18 L212.66 215.3 L213.89 215.41 L215.12 215.51 L216.35 215.61 L217.58 215.71 L218.82 215.81 L220.05 215.91 L221.28 216.01 L222.51 216.1 L223.74 216.2 L224.97 216.29 L226.2 216.39 L227.43 216.49 L228.66 216.59 L229.89 216.69 L231.12 216.79 L232.35 216.89 L233.58 216.99 L234.81 217.1 L236.05 217.2 L237.28 217.31 L238.51 217.41 L239.74 217.52 L240.97 217.62 L242.2 217.73 L243.43 217.84 L244.66 217.94 L245.89 218.05 L247.12 218.15 L248.35 218.26 L249.58 218.36 L250.81 218.47 L252.05 218.56 L253.28 218.66 L254.51 218.75 L255.74 218.83 L256.97 218.91 L258.2 218.97 L259.43 219.03 L260.66 219.07 L261.89 219.1 L263.12 219.12 L264.35 219.13 L265.58 219.13 L266.81 219.13 L268.04 219.12 L269.28 219.11 L270.51 219.09 L271.74 219.07 L272.97 219.05 L274.2 219.03 L275.43 219.01 L276.66 219 L277.89 218.98 L279.12 218.97 L280.35 218.96 L281.58 218.95 L282.81 218.93 L284.04 218.92 L285.27 218.9 L286.51 218.88 L287.74 218.85 L288.97 218.82 L290.2 218.79 L291.43 218.75 L292.66 218.7 L293.89 218.64 L295.12 218.58 L296.35 218.51 L297.58 218.43 L298.81 218.34 L300.04 218.25 L301.27 218.16 L302.51 218.06 L303.74 217.95 L304.97 217.85 L306.2 217.74 L307.43 217.63 L308.66 217.52 L309.89 217.4 L311.12 217.29 L312.35 217.17 L313.58 217.05 L314.81 216.93 L316.04 216.81 L317.27 216.7 L318.5 216.58 L319.74 216.47 L320.97 216.36 L322.2 216.25 L323.43 216.15 L324.66 216.04 L325.89 215.94 L327.12 215.84 L328.35 215.74 L329.58 215.64 L330.81 215.55 L332.04 215.45 L333.27 215.36 L334.5 215.27 L335.73 215.19 L336.97 215.1 L338.2 215.03 L339.43 214.96 L340.66 214.9 L341.89 214.85 L343.12 214.8 L344.35 214.76 L345.58 214.71 L346.81 214.66 L348.04 214.61 L349.27 214.56 L350.5 214.5 L351.73 214.43 L352.97 214.35 L354.2 214.27 L355.43 214.18 L356.66 214.08 L357.89 213.99 L359.12 213.89 L360.35 213.79 L361.58 213.7 L362.81 213.6 L364.04 213.5 L365.27 213.39 L366.5 213.29 L367.73 213.19 L368.96 213.09 L370.2 212.99 L371.43 212.89 L372.66 212.78 L373.89 212.67 L375.12 212.56 L376.35 212.45 L377.58 212.33 L378.81 212.22 L380.04 212.1 L381.27 211.99 L382.5 211.88 L383.73 211.77 L384.96 211.67 L386.19 211.58 L387.43 211.52 L388.66 211.47 L389.89 211.44 L391.12 211.42 L392.35 211.42 L393.58 211.43 L394.81 211.45 L396.04 211.47 L397.27 211.5 L398.5 211.52 L399.73 211.55 L400.96 211.59 L402.19 211.64 L403.42 211.7 L404.66 211.76 L405.89 211.84 L407.12 211.93 L408.35 212.03 L409.58 212.14 L410.81 212.25 L412.04 212.38 L413.27 212.51 L414.5 212.66 L415.73 212.81 L416.96 212.98 L418.19 213.15 L419.42 213.34 L420.66 213.53 L421.89 213.72 L423.12 213.92 L424.35 214.12 L425.58 214.32 L426.81 214.52 L428.04 214.73 L429.27 214.94 L430.5 215.15 L431.73 215.36 L432.96 215.58 L434.19 215.8 L435.42 216.01 L436.65 216.23 L437.89 216.44 L439.12 216.66 L440.35 216.89 L441.58 217.11 L442.81 217.35 L444.04 217.59 L445.27 217.84 L446.5 218.1 L447.73 218.37 L448.96 218.63 L450.19 218.9 L451.42 219.17 L452.65 219.43 L453.88 219.7 L455.12 219.96 L456.35 220.23 L457.58 220.5 L458.81 220.76 L460.04 221.03 L461.27 221.3 L462.5 221.56 L463.73 221.83 L464.96 222.09 L466.19 222.36 L467.42 222.63 L468.65 222.89 L469.88 223.16 L471.12 223.42 L472.35 223.67 L473.58 223.88 L474.81 224.07 L476.04 224.23 L477.27 224.37 L478.5 224.5 L479.73 224.63 L480.96 224.75 L482.19 224.87 L483.42 224.98 L484.65 225.09 L485.88 225.19 L487.11 225.28 L488.35 225.38 L489.58 225.47 L490.81 225.56 L492.04 225.65 L493.27 225.75 L494.5 225.84 L495.73 225.93 L496.96 225.99 L498.19 226.04 L499.42 226.04 L500.65 226.01 L501.88 225.88 L503.11 225.65 L504.34 225.33 L505.58 224.97 L506.81 224.6 L508.04 224.24 L509.27 223.94 L510.5 223.72 L511.73 223.51 L512.96 223.3 L514.19 223.09 L515.42 222.89 L516.65 222.7 L517.88 222.51 L519.11 222.33 L520.34 222.17 L521.58 222.02 L522.81 221.88 L524.04 221.74 L525.27 221.6 L526.5 221.47 L527.73 221.34 L528.96 221.21 L530.19 221.07 L531.42 220.92 L532.65 220.76 L533.88 220.6 L535.11 220.43 L536.34 220.25 L537.57 220.07 L538.81 219.89 L540.04 219.71 L541.27 219.53 L542.5 219.35 L543.73 219.18 L544.96 219.01 L546.19 218.84 L547.42 218.68 L548.65 218.53 L549.88 218.39 L551.11 218.25 L552.34 218.12 L553.57 217.99 L554.8 217.87 L556.04 217.75 L557.27 217.66 L558.5 217.59 L559.73 217.54 L560.96 217.52 L562.19 217.52 L563.42 217.53 L564.65 217.55 L565.88 217.6 L567.11 217.65 L568.34 217.72 L569.57 217.81 L570.8 217.92 L572.03 218.04 L573.27 218.19 L574.5 218.35 L575.73 218.53 L576.96 218.73 L578.19 218.95 L579.42 219.19 L580.65 219.45 L581.88 219.71 L583.11 219.97 L584.34 220.23 L585.57 220.48 L586.8 220.71 L588.03 220.94 L589.27 221.15 L590.5 221.36 L591.73 221.56 L592.96 221.73 L594.19 221.89 L595.42 222.02 L596.65 222.11 L597.88 222.16 L599.11 222.17 L600.34 222.13 L601.57 222.05 L602.8 221.95 L604.03 221.82 L605.26 221.67 L606.5 221.5 L607.73 221.34 L608.96 221.16 L610.19 220.97 L611.42 220.76 L612.65 220.54 L613.88 220.32 L615.11 220.09 L616.34 219.86 L617.57 219.65 L618.8 219.44 L620.03 219.25 L621.26 219.09 L622.49 218.94 L623.73 218.81 L624.96 218.69 L626.19 218.57 L627.42 218.47 L628.65 218.37 L629.88 218.28 L631.11 218.21 L632.34 218.15 L633.57 218.1 L634.8 218.07 L636.03 218.06 L637.26 218.06 L638.49 218.07 L639.73 218.11 L640.96 218.15 L642.19 218.2 L643.42 218.26 L644.65 218.31 L645.88 218.38 L647.11 218.44 L648.34 218.5 L649.57 218.57 L650.8 218.63 L652.03 218.7 L653.26 218.76 L654.49 218.82 L655.72 218.88 L656.96 218.93 L658.19 218.98 L659.42 219.02 L660.65 219.07 L661.88 219.11 L663.11 219.15 L664.34 219.19 L665.57 219.23 L666.8 219.27 L668.03 219.31 L669.26 219.35 L670.49 219.38 L671.72 219.41 L672.95 219.44 L674.19 219.46 L675.42 219.49 L676.65 219.51 L677.88 219.51 L679.11 219.5 L680.34 219.48 L681.57 219.44 L682.8 219.4 L684.03 219.35 L685.26 219.3 L686.49 219.25 L687.72 219.19 L688.95 219.14 L690.19 219.09 L691.42 219.05 L692.65 219.02 L693.88 219 L695.11 218.99 L696.34 218.98 L697.57 218.99 L698.8 219.01 L700.03 219.04 L701.26 219.08 L702.49 219.14 L703.72 219.2 L704.95 219.28 L706.18 219.36 L707.42 219.5 L708.65 219.68 L709.88 219.93 L711.11 220.22 L712.34 220.55 L713.57 220.93 L714.8 221.32 L716.03 221.72 L717.26 222.15 L718.49 222.6 L719.72 223.08 L720.95 223.59 L722.18 224.11 L723.41 224.63 L724.65 225.15 L725.88 225.67 L727.11 226.19 L728.34 226.72 L729.57 227.24 L730.8 227.77 L732.03 228.29 L733.26 228.82 L734.49 229.35 L735.72 229.88 L736.95 230.42 L738.18 230.96 L739.41 231.49 L740.64 232.03 L741.88 232.56 L743.11 233.09 L744.34 233.62 L745.57 234.14 L746.8 234.62 L748.03 235.06 L749.26 235.48 L750.49 235.88 L751.72 236.26 L752.95 236.63 L754.18 237 L755.41 237.37 L756.64 237.74 L757.88 238.1 L759.11 238.43 L760.34 238.75 L761.57 239.06 L762.8 239.34 L764.03 239.6 L765.26 239.84 L766.49 240.02 L767.72 240.14 L768.95 240.21 L770.18 240.22 L771.41 240.18 L772.64 240.11 L773.87 240.01 L775.11 239.88 L776.34 239.73 L777.57 239.56 L778.8 239.38 L780.03 239.21 L781.26 239.03 L782.49 238.83 L783.72 238.59 L784.95 238.3 L786.18 237.94 L787.41 237.56 L788.64 237.17 L789.87 236.79 L791.1 236.4 L792.34 236.02 L793.57 235.64 L794.8 235.25 L796.03 234.88 L797.26 234.51 L798.49 234.13 L799.72 233.75 L800.95 233.35 L802.18 232.94 L803.41 232.5 L804.64 232.05 L805.87 231.58 L807.1 231.11 L808.34 230.63 L809.57 230.16 L810.8 229.7 L812.03 229.24 L813.26 228.78 L814.49 228.32 L815.72 227.85 L816.95 227.39 L818.18 226.93 L819.41 226.43 L820.64 225.87 L821.87 225.26 L823.1 224.63 L824.33 223.97 L825.57 223.3 L826.8 222.64 L828.03 221.98 L829.26 221.36 L830.49 220.77 L831.72 220.19 L832.95 219.62 L834.18 219.06 L835.41 218.5 L836.64 217.96 L837.87 217.42 L839.1 216.88 L840.33 216.36 L841.56 215.85 L842.8 215.39 L844.03 214.98 L845.26 214.65 L846.49 214.41 L847.72 214.21 L848.95 214.02 L850.18 213.84 L851.41 213.66 L852.64 213.5 L853.87 213.34 L855.1 213.19 L856.33 213.03 L857.56 212.88 L858.8 212.72 L860.03 212.57 L861.26 212.42 L862.49 212.27 L863.72 212.13 L864.95 212.01 L866.18 211.89 L867.41 211.78 L868.64 211.67 L869.87 211.58 L871.1 211.48 L872.33 211.39 L873.56 211.3 L874.79 211.22 L876.03 211.12 L877.26 211.02 L878.49 210.92 L879.72 210.85 L880.95 210.8 L882.18 210.8 L883.41 210.83 L884.64 210.87 L885.87 210.92 L887.1 210.97 L888.33 211.03 L889.56 211.1 L890.79 211.16 L892.02 211.23 L893.26 211.29 L894.49 211.35 L895.72 211.42 L896.95 211.48 L898.18 211.55 L899.41 211.62 L900.64 211.68 L901.87 211.75 L903.1 211.81 L904.33 211.87 L905.56 211.92 L906.79 211.96 L908.02 211.97 L909.25 211.96 L910.49 211.95 L911.72 211.93 L912.95 211.9 L914.18 211.89 L915.41 211.88 L916.64 211.88 L917.87 211.91 L919.1 211.94 L920.33 211.98 L921.56 212.03 L922.79 212.09 L924.02 212.16 L925.25 212.24 L926.49 212.34 L927.72 212.47 L928.95 212.61 L930.18 212.78 L931.41 212.96 L932.64 213.15 L933.87 213.34 L935.1 213.55 L936.33 213.75 L937.56 213.97 L938.79 214.18 L940.02 214.4 L941.25 214.63 L942.48 214.86 L943.72 215.09 L944.95 215.32 L946.18 215.55 L947.41 215.78 L948.64 216.01 L949.87 216.23 L951.1 216.44 L952.33 216.65 L953.56 216.85 L954.79 217.05 L956.02 217.24 L957.25 217.42 L958.48 217.58 L959.71 217.73 L960.95 217.87 L962.18 217.99 L963.41 218.12 L964.64 218.24 L965.87 218.35 L967.1 218.47 L968.33 218.59 L969.56 218.71 L970.79 218.82 L972.02 218.94 L973.25 219.05 L974.48 219.17 L975.71 219.28 L976.95 219.4 L978.18 219.51 L979.41 219.62 L980.64 219.74 L981.87 219.85 L983.1 219.96 L984.33 220.07 L985.56 220.19 L986.79 220.3 L988.02 220.41 L989.25 220.52 L990.48 220.62 L991.71 220.71 L992.94 220.8 L994.18 220.87 L995.41 220.93 L996.64 220.97 L997.87 220.99 L999.1 221 L1000.33 220.94 L1001.56 220.83 L1002.79 220.66 L1004.02 220.45 L1005.25 220.2 L1006.48 219.93 L1007.71 219.65 L1008.94 219.35 L1010.17 219.06 L1011.41 218.76 L1012.64 218.46 L1013.87 218.15 L1015.1 217.85 L1016.33 217.54 L1017.56 217.24 L1018.79 216.93 L1020.02 216.62 L1021.25 216.31 L1022.48 215.97 L1023.71 215.61 L1024.94 215.12 L1026.17 214.48 L1027.41 213.78 L1028.64 213.15 L1029.87 212.61 L1031.1 212.07 L1032.33 211.54 L1033.56 211.02 L1034.79 210.5 L1036.02 210 L1037.25 209.5 L1038.48 209.02 L1039.71 208.55 L1040.94 208.11 L1042.17 207.68 L1043.4 207.27 L1044.64 206.87 L1045.87 206.49 L1047.1 206.12 L1048.33 205.77 L1049.56 205.47 L1050.79 205.21 L1052.02 204.99 L1053.25 204.81 L1054.48 204.66 L1055.71 204.53 L1056.94 204.44 L1058.17 204.36 L1059.4 204.33 L1060.63 204.34 L1061.87 204.39 L1063.1 204.5 L1064.33 204.65 L1065.56 204.86 L1066.79 205.12 L1068.02 205.42 L1069.25 205.75 L1070.48 206.11 L1071.71 206.51 L1072.94 206.95 L1074.17 207.42 L1075.4 207.92 L1076.63 208.48 L1077.86 209.09 L1079.1 209.7 L1080.33 210.31 L1081.56 210.87 L1082.79 211.36 L1084.02 211.82 L1085.25 212.25 L1086.48 212.67 L1087.71 213.07 L1088.94 213.45 L1090.17 213.8 L1091.4 214.14 L1092.63 214.47 L1093.86 214.79 L1095.1 215.11 L1096.33 215.41 L1097.56 215.71 L1098.79 215.99 L1100.02 216.25 L1101.25 216.51 L1102.48 216.76 L1103.71 217 L1104.94 217.24 L1106.17 217.46 L1107.4 217.68 L1108.63 217.88 L1109.86 218.08 L1111.09 218.27 L1112.33 218.45 L1113.56 218.62 L1114.79 218.78 L1116.02 218.94 L1117.25 219.09 L1118.48 219.24 L1119.71 219.37 L1120.94 219.5 L1122.17 219.62 L1123.4 219.74 L1124.63 219.85 L1125.86 219.96 L1127.09 220.06 L1128.32 220.16 L1129.56 220.25 L1130.79 220.34 L1132.02 220.42 L1133.25 220.5 L1134.48 220.57" stroke="#e377c2" stroke-width="2.08" stroke-linecap="square"/>
<path d="M124.05 220.74 L125.28 220.54 L126.51 220.33 L127.74 220.11 L128.97 219.87 L130.2 219.61 L131.43 219.34 L132.66 219.05 L133.9 218.74 L135.13 218.42 L136.36 218.07 L137.59 217.69 L138.82 217.27 L140.05 216.84 L141.28 216.4 L142.51 215.96 L143.74 215.54 L144.97 215.16 L146.2 214.8 L147.43 214.45 L148.66 214.11 L149.89 213.79 L151.13 213.48 L152.36 213.19 L153.59 212.93 L154.82 212.7 L156.05 212.48 L157.28 212.29 L158.51 212.12 L159.74 211.96 L160.97 211.82 L162.2 211.68 L163.43 211.55 L164.66 211.43 L165.89 211.31 L167.12 211.21 L168.36 211.14 L169.59 211.1 L170.82 211.09 L172.05 211.12 L173.28 211.17 L174.51 211.24 L175.74 211.31 L176.97 211.4 L178.2 211.5 L179.43 211.6 L180.66 211.71 L181.89 211.82 L183.12 211.93 L184.36 212.05 L185.59 212.16 L186.82 212.29 L188.05 212.42 L189.28 212.56 L190.51 212.71 L191.74 212.87 L192.97 213.04 L194.2 213.21 L195.43 213.38 L196.66 213.55 L197.89 213.72 L199.12 213.88 L200.35 214.03 L201.59 214.17 L202.82 214.3 L204.05 214.43 L205.28 214.57 L206.51 214.7 L207.74 214.82 L208.97 214.95 L210.2 215.07 L211.43 215.18 L212.66 215.3 L213.89 215.41 L215.12 215.51 L216.35 215.61 L217.58 215.71 L218.82 215.81 L220.05 215.91 L221.28 216.01 L222.51 216.1 L223.74 216.2 L224.97 216.29 L226.2 216.39 L227.43 216.49 L228.66 216.59 L229.89 216.69 L231.12 216.79 L232.35 216.89 L233.58 216.99 L234.81 217.1 L236.05 217.2 L237.28 217.31 L238.51 217.41 L239.74 217.52 L240.97 217.62 L242.2 217.73 L243.43 217.84 L244.66 217.94 L245.89 218.05 L247.12 218.15 L248.35 218.26 L249.58 218.36 L250.81 218.47 L252.05 218.56 L253.28 218.66 L254.51 218.75 L255.74 218.83 L256.97 218.91 L258.2 218.97 L259.43 219.03 L260.66 219.07 L261.89 219.1 L263.12 219.12 L264.35 219.13 L265.58 219.13 L266.81 219.13 L268.04 219.12 L269.28 219.11 L270.51 219.09 L271.74 219.07 L272.97 219.05 L274.2 219.03 L275.43 219.01 L276.66 219 L277.89 218.98 L279.12 218.97 L280.35 218.96 L281.58 218.95 L282.81 218.93 L284.04 218.92 L285.27 218.9 L286.51 218.88 L287.74 218.85 L288.97 218.82 L290.2 218.79 L291.43 218.75 L292.66 218.7 L293.89 218.64 L295.12 218.58 L296.35 218.51 L297.58 218.43 L298.81 218.34 L300.04 218.25 L301.27 218.16 L302.51 218.06 L303.74 217.95 L304.97 217.85 L306.2 217.74 L307.43 217.63 L308.66 217.52 L309.89 217.4 L311.12 217.29 L312.35 217.17 L313.58 217.05 L314.81 216.93 L316.04 216.81 L317.27 216.7 L318.5 216.58 L319.74 216.47 L320.97 216.36 L322.2 216.25 L323.43 216.15 L324.66 216.04 L325.89 215.94 L327.12 215.84 L328.35 215.74 L329.58 215.64 L330.81 215.55 L332.04 215.45 L333.27 215.36 L334.5 215.27 L335.73 215.19 L336.97 215.1 L338.2 215.03 L339.43 214.96 L340.66 214.9 L341.89 214.85 L343.12 214.8 L344.35 214.76 L345.58 214.71 L346.81 214.66 L348.04 214.61 L349.27 214.56 L350.5 214.5 L351.73 214.43 L352.97 214.35 L354.2 214.27 L355.43 214.18 L356.66 214.08 L357.89 213.99 L359.12 213.89 L360.35 213.79 L361.58 213.7 L362.81 213.6 L364.04 213.5 L365.27 213.39 L366.5 213.29 L367.73 213.19 L368.96 213.09 L370.2 212.99 L371.43 212.89 L372.66 212.78 L373.89 212.67 L375.12 212.56 L376.35 212.45 L377.58 212.33 L378.81 212.22 L380.04 212.1 L381.27 211.99 L382.5 211.88 L383.73 211.77 L384.96 211.67 L386.19 211.58 L387.43 211.52 L388.66 211.47 L389.89 211.44 L391.12 211.42 L392.35 211.42 L393.58 211.43 L394.81 211.45 L396.04 211.47 L397.27 211.5 L398.5 211.52 L399.73 211.55 L400.96 211.59 L402.19 211.64 L403.42 211.7 L404.66 211.76 L405.89 211.84 L407.12 211.93 L408.35 212.03 L409.58 212.14 L410.81 212.25 L412.04 212.38 L413.27 212.51 L414.5 212.66 L415.73 212.81 L416.96 212.98 L418.19 213.15 L419.42 213.34 L420.66 213.53 L421.89 213.72 L423.12 213.92 L424.35 214.12 L425.58 214.32 L426.81 214.52 L428.04 214.73 L429.27 214.94 L430.5 215.15 L431.73 215.36 L432.96 215.58 L434.19 215.8 L435.42 216.01 L436.65 216.23 L437.89 216.44 L439.12 216.66 L440.35 216.89 L441.58 217.11 L442.81 217.35 L444.04 217.59 L445.27 217.84 L446.5 218.1 L447.73 218.37 L448.96 218.63 L450.19 218.9 L451.42 219.17 L452.65 219.43 L453.88 219.7 L455.12 219.96 L456.35 220.23 L457.58 220.5 L458.81 220.76 L460.04 221.03 L461.27 221.3 L462.5 221.56 L463.73 221.83 L464.96 222.09 L466.19 222.36 L467.42 222.63 L468.65 222.89 L469.88 223.16 L471.12 223.42 L472.35 223.67 L473.58 223.88 L474.81 224.07 L476.04 224.23 L477.27 224.37 L478.5 224.5 L479.73 224.63 L480.96 224.75 L482.19 224.87 L483.42 224.98 L484.65 225.09 L485.88 225.19 L487.11 225.28 L488.35 225.38 L489.58 225.47 L490.81 225.56 L492.04 225.65 L493.27 225.75 L494.5 225.84 L495.73 225.93 L496.96 225.99 L498.19 226.04 L499.42 226.04 L500.65 226.01 L501.88 225.88 L503.11 225.65 L504.34 225.33 L505.58 224.97 L506.81 224.6 L508.04 224.24 L509.27 223.94 L510.5 223.72 L511.73 223.51 L512.96 223.3 L514.19 223.09 L515.42 222.89 L516.65 222.7 L517.88 222.51 L519.11 222.33 L520.34 222.17 L521.58 222.02 L522.81 221.88 L524.04 221.74 L525.27 221.6 L526.5 221.47 L527.73 221.34 L528.96 221.21 L530.19 221.07 L531.42 220.92 L532.65 220.76 L533.88 220.6 L535.11 220.43 L536.34 220.25 L537.57 220.07 L538.81 219.89 L540.04 219.71 L541.27 219.53 L542.5 219.35 L543.73 219.18 L544.96 219.01 L546.19 218.84 L547.42 218.68 L548.65 218.53 L549.88 218.39 L551.11 218.25 L552.34 218.12 L553.57 217.99 L554.8 217.87 L556.04 217.75 L557.27 217.66 L558.5 217.59 L559.73 217.54 L560.96 217.52 L562.19 217.52 L563.42 217.53 L564.65 217.55 L565.88 217.6 L567.11 217.65 L568.34 217.72 L569.57 217.81 L570.8 217.92 L572.03 218.04 L573.27 218.19 L574.5 218.35 L575.73 218.53 L576.96 218.73 L578.19 218.95 L579.42 219.19 L580.65 219.45 L581.88 219.71 L583.11 219.97 L584.34 220.23 L585.57 220.48 L586.8 220.71 L588.03 220.94 L589.27 221.15 L590.5 221.36 L591.73 221.56 L592.96 221.73 L594.19 221.89 L595.42 222.02 L596.65 222.11 L597.88 222.16 L599.11 222.17 L600.34 222.13 L601.57 222.05 L602.8 221.95 L604.03 221.82 L605.26 221.67 L606.5 221.5 L607.73 221.34 L608.96 221.16 L610.19 220.97 L611.42 220.76 L612.65 220.54 L613.88 220.32 L615.11 220.09 L616.34 219.86 L617.57 219.65 L618.8 219.44 L620.03 219.25 L621.26 219.09 L622.49 218.94 L623.73 218.81 L624.96 218.69 L626.19 218.57 L627.42 218.47 L628.65 218.37 L629.88 218.28 L631.11 218.21 L632.34 218.15 L633.57 218.1 L634.8 218.07 L636.03 218.06 L637.26 218.06 L638.49 218.07 L639.73 218.11 L640.96 218.15 L642.19 218.2 L643.42 218.26 L644.65 218.31 L645.88 218.38 L647.11 218.44 L648.34 218.5 L649.57 218.57 L650.8 218.63 L652.03 218.7 L653.26 218.76 L654.49 218.82 L655.72 218.88 L656.96 218.93 L658.19 218.98 L659.42 219.02 L660.65 219.07 L661.88 219.11 L663.11 219.15 L664.34 219.19 L665.57 219.23 L666.8 219.27 L668.03 219.31 L669.26 219.35 L670.49 219.38 L671.72 219.41 L672.95 219.44 L674.19 219.46 L675.42 219.49 L676.65 219.51 L677.88 219.51 L679.11 219.5 L680.34 219.48 L681.57 219.44 L682.8 219.4 L684.03 219.35 L685.26 219.3 L686.49 219.25 L687.72 219.19 L688.95 219.14 L690.19 219.09 L691.42 219.05 L692.65 219.02 L693.88 219 L695.11 218.99 L696.34 218.98 L697.57 218.99 L698.8 219.01 L700.03 219.04 L701.26 219.08 L702.49 219.14 L703.72 219.2 L704.95 219.28 L706.18 219.36 L707.42 219.5 L708.65 219.68 L709.88 219.93 L711.11 220.22 L712.34 220.55 L713.57 220.93 L714.8 221.32 L716.03 221.72 L717.26 222.15 L718.49 222.6 L719.72 223.08 L720.95 223.59 L722.18 224.11 L723.41 224.63 L724.65 225.15 L725.88 225.67 L727.11 226.19 L728.34 226.72 L729.57 227.24 L730.8 227.77 L732.03 228.29 L733.26 228.82 L734.49 229.35 L735.72 229.88 L736.95 230.42 L738.18 230.96 L739.41 231.49 L740.64 232.03 L741.88 232.56 L743.11 233.09 L744.34 233.62 L745.57 234.14 L746.8 234.62 L748.03 235.06 L749.26 235.48 L750.49 235.88 L751.72 236.26 L752.95 236.63 L754.18 237 L755.41 237.37 L756.64 237.74 L757.88 238.1 L759.11 238.43 L760.34 238.75 L761.57 239.06 L762.8 239.34 L764.03 239.6 L765.26 239.84 L766.49 240.02 L767.72 240.14 L768.95 240.21 L770.18 240.22 L771.41 240.18 L772.64 240.11 L773.87 240.01 L775.11 239.88 L776.34 239.73 L777.57 239.56 L778.8 239.38 L780.03 239.21 L781.26 239.03 L782.49 238.83 L783.72 238.59 L784.95 238.3 L786.18 237.94 L787.41 237.56 L788.64 237.17 L789.87 236.79 L791.1 236.4 L792.34 236.02 L793.57 235.64 L794.8 235.25 L796.03 234.88 L797.26 234.51 L798.49 234.13 L799.72 233.75 L800.95 233.35 L802.18 232.94 L803.41 232.5 L804.64 232.05 L805.87 231.58 L807.1 231.11 L808.34 230.63 L809.57 230.16 L810.8 229.7 L812.03 229.24 L813.26 228.78 L814.49 228.32 L815.72 227.85 L816.95 227.39 L818.18 226.93 L819.41 226.43 L820.64 225.87 L821.87 225.26 L823.1 224.63 L824.33 223.97 L825.57 223.3 L826.8 222.64 L828.03 221.98 L829.26 221.36 L830.49 220.77 L831.72 220.19 L832.95 219.62 L834.18 219.06 L835.41 218.5 L836.64 217.96 L837.87 217.42 L839.1 216.88 L840.33 216.36 L841.56 215.85 L842.8 215.39 L844.03 214.98 L845.26 214.65 L846.49 214.41 L847.72 214.21 L848.95 214.02 L850.18 213.84 L851.41 213.66 L852.64 213.5 L853.87 213.34 L855.1 213.19 L856.33 213.03 L857.56 212.88 L858.8 212.72 L860.03 212.57 L861.26 212.42 L862.49 212.27 L863.72 212.13 L864.95 212.01 L866.18 211.89 L867.41 211.78 L868.64 211.67 L869.87 211.58 L871.1 211.48 L872.33 211.39 L873.56 211.3 L874.79 211.22 L876.03 211.12 L877.26 211.02 L878.49 210.92 L879.72 210.85 L880.95 210.8 L882.18 210.8 L883.41 210.83 L884.64 210.87 L885.87 210.92 L887.1 210.97 L888.33 211.03 L889.56 211.1 L890.79 211.16 L892.02 211.23 L893.26 211.29 L894.49 211.35 L895.72 211.42 L896.95 211.48 L898.18 211.55 L899.41 211.62 L900.64 211.68 L901.87 211.75 L903.1 211.81 L904.33 211.87 L905.56 211.92 L906.79 211.96 L908.02 211.97 L909.25 211.96 L910.49 211.95 L911.72 211.93 L912.95 211.9 L914.18 211.89 L915.41 211.88 L916.64 211.88 L917.87 211.91 L919.1 211.94 L920.33 211.98 L921.56 212.03 L922.79 212.09 L924.02 212.16 L925.25 212.24 L926.49 212.34 L927.72 212.47 L928.95 212.61 L930.18 212.78 L931.41 212.96 L932.64 213.15 L933.87 213.34 L935.1 213.55 L936.33 213.75 L937.56 213.97 L938.79 214.18 L940.02 214.4 L941.25 214.63 L942.48 214.86 L943.72 215.09 L944.95 215.32 L946.18 215.55 L947.41 215.78 L948.64 216.01 L949.87 216.23 L951.1 216.44 L952.33 216.65 L953.56 216.85 L954.79 217.05 L956.02 217.24 L957.25 217.42 L958.48 217.58 L959.71 217.73 L960.95 217.87 L962.18 217.99 L963.41 218.12 L964.64 218.24 L965.87 218.35 L967.1 218.47 L968.33 218.59 L969.56 218.71 L970.79 218.82 L972.02 218.94 L973.25 219.05 L974.48 219.17 L975.71 219.28 L976.95 219.4 L978.18 219.51 L979.41 219.62 L980.64 219.74 L981.87 219.85 L983.1 219.96 L984.33 220.07 L985.56 220.19 L986.79 220.3 L988.02 220.41 L989.25 220.52 L990.48 220.62 L991.71 220.71 L992.94 220.8 L994.18 220.87 L995.41 220.93 L996.64 220.97 L997.87 220.99 L999.1 221 L1000.33 220.94 L1001.56 220.83 L1002.79 220.66 L1004.02 220.45 L1005.25 220.2 L1006.48 219.93 L1007.71 219.65 L1008.94 219.35 L1010.17 219.06 L1011.41 218.76 L1012.64 218.46 L1013.87 218.15 L1015.1 217.85 L1016.33 217.54 L1017.56 217.24 L1018.79 216.93 L1020.02 216.62 L1021.25 216.31 L1022.48 215.97 L1023.71 215.61 L1024.94 215.12 L1026.17 214.48 L1027.41 213.78 L1028.64 213.15 L1029.87 212.61 L1031.1 212.07 L1032.33 211.54 L1033.56 211.02 L1034.79 210.5 L1036.02 210 L1037.25 209.5 L1038.48 209.02 L1039.71 208.55 L1040.94 208.11 L1042.17 207.68 L1043.4 207.27 L1044.64 206.87 L1045.87 206.49 L1047.1 206.12 L1048.33 205.77 L1049.56 205.47 L1050.79 205.21 L1052.02 204.99 L1053.25 204.81 L1054.48 204.66 L1055.71 204.53 L1056.94 204.44 L1058.17 204.36 L1059.4 204.33 L1060.63 204.34 L1061.87 204.39 L1063.1 204.5 L1064.33 204.65 L1065.56 204.86 L1066.79 205.12 L1068.02 205.42 L1069.25 205.75 L1070.48 206.11 L1071.71 206.51 L1072.94 206.95 L1074.17 207.42 L1075.4 207.92 L1076.63 208.48 L1077.86 209.09 L1079.1 209.7 L1080.33 210.31 L1081.56 210.87 L1082.79 211.36 L1084.02 211.82 L1085.25 212.25 L1086.48 212.67 L1087.71 213.07 L1088.94 213.45 L1090.17 213.8 L1091.4 214.14 L1092.63 214.47 L1093.86 214.79 L1095.1 215.11 L1096.33 215.41 L1097.56 215.71 L1098.79 215.99 L1100.02 216.25 L1101.25 216.51 L1102.48 216.76 L1103.71 217 L1104.94 217.24 L1106.17 217.46 L1107.4 217.68 L1108.63 217.88 L1109.86 218.08 L1111.09 218.27 L1112.33 218.45 L1113.56 218.62 L1114.79 218.78 L1116.02 218.94 L1117.25 219.09 L1118.48 219.24 L1119.71 219.37 L1120.94 219.5 L1122.17 219.62 L1123.4 219.74 L1124.63 219.85 L1125.86 219.96 L1127.09 220.06 L1128.32 220.16 L1129.56 220.25 L1130.79 220.34 L1132.02 220.42 L1133.25 220.5 L1134.48 220.57" stroke="#7f7f7f" stroke-width="2.78" stroke-dasharray="10.28 4.44"/>
<path d="M124.05 226 L125.28 225.98 L126.51 225.94 L127.74 225.9 L128.97 225.84 L130.2 225.76 L131.43 225.67 L132.66 225.55 L133.9 225.42 L135.13 225.26 L136.36 225.08 L137.59 224.87 L138.82 224.63 L140.05 224.37 L141.28 224.11 L142.51 223.85 L143.74 223.61 L144.97 223.4 L146.2 223.22 L147.43 223.03 L148.66 222.85 L149.89 222.68 L151.13 222.51 L152.36 222.36 L153.59 222.21 L154.82 222.07 L156.05 221.95 L157.28 221.83 L158.51 221.73 L159.74 221.63 L160.97 221.55 L162.2 221.47 L163.43 221.41 L164.66 221.35 L165.89 221.3 L167.12 221.27 L168.36 221.23 L169.59 221.21 L170.82 221.2 L172.05 221.19 L173.28 221.2 L174.51 221.23 L175.74 221.27 L176.97 221.32 L178.2 221.39 L179.43 221.46 L180.66 221.53 L181.89 221.61 L183.12 221.7 L184.36 221.79 L185.59 221.89 L186.82 221.99 L188.05 222.09 L189.28 222.21 L190.51 222.33 L191.74 222.46 L192.97 222.58 L194.2 222.71 L195.43 222.83 L196.66 222.93 L197.89 223.03 L199.12 223.11 L200.35 223.18 L201.59 223.24 L202.82 223.29 L204.05 223.33 L205.28 223.36 L206.51 223.38 L207.74 223.4 L208.97 223.4 L210.2 223.41 L211.43 223.4 L212.66 223.39 L213.89 223.38 L215.12 223.36 L216.35 223.34 L217.58 223.31 L218.82 223.27 L220.05 223.22 L221.28 223.16 L222.51 223.09 L223.74 223 L224.97 222.91 L226.2 222.81 L227.43 222.71 L228.66 222.62 L229.89 222.52 L231.12 222.41 L232.35 222.31 L233.58 222.21 L234.81 222.1 L236.05 222 L237.28 221.89 L238.51 221.78 L239.74 221.67 L240.97 221.56 L242.2 221.45 L243.43 221.33 L244.66 221.22 L245.89 221.11 L247.12 221 L248.35 220.89 L249.58 220.79 L250.81 220.68 L252.05 220.58 L253.28 220.49 L254.51 220.4 L255.74 220.32 L256.97 220.23 L258.2 220.15 L259.43 220.08 L260.66 220 L261.89 219.92 L263.12 219.84 L264.35 219.77 L265.58 219.69 L266.81 219.62 L268.04 219.56 L269.28 219.5 L270.51 219.46 L271.74 219.43 L272.97 219.42 L274.2 219.43 L275.43 219.46 L276.66 219.52 L277.89 219.59 L279.12 219.67 L280.35 219.75 L281.58 219.84 L282.81 219.93 L284.04 220.03 L285.27 220.13 L286.51 220.23 L287.74 220.34 L288.97 220.44 L290.2 220.54 L291.43 220.65 L292.66 220.75 L293.89 220.86 L295.12 220.97 L296.35 221.07 L297.58 221.18 L298.81 221.28 L300.04 221.39 L301.27 221.52 L302.51 221.64 L303.74 221.76 L304.97 221.86 L306.2 221.93 L307.43 221.97 L308.66 221.97 L309.89 221.91 L311.12 221.81 L312.35 221.69 L313.58 221.55 L314.81 221.41 L316.04 221.27 L317.27 221.12 L318.5 220.97 L319.74 220.83 L320.97 220.7 L322.2 220.57 L323.43 220.44 L324.66 220.31 L325.89 220.18 L327.12 220.05 L328.35 219.92 L329.58 219.8 L330.81 219.68 L332.04 219.56 L333.27 219.46 L334.5 219.4 L335.73 219.39 L336.97 219.43 L338.2 219.5 L339.43 219.6 L340.66 219.72 L341.89 219.85 L343.12 219.99 L344.35 220.13 L345.58 220.27 L346.81 220.42 L348.04 220.61 L349.27 220.8 L350.5 221.01 L351.73 221.22 L352.97 221.42 L354.2 221.62 L355.43 221.79 L356.66 221.94 L357.89 222.06 L359.12 222.15 L360.35 222.22 L361.58 222.27 L362.81 222.3 L364.04 222.3 L365.27 222.3 L366.5 222.27 L367.73 222.23 L368.96 222.18 L370.2 222.11 L371.43 222.04 L372.66 221.95 L373.89 221.85 L375.12 221.71 L376.35 221.54 L377.58 221.32 L378.81 221.06 L380.04 220.74 L381.27 220.38 L382.5 220.02 L383.73 219.64 L384.96 219.27 L386.19 218.89 L387.43 218.52 L388.66 218.15 L389.89 217.78 L391.12 217.42 L392.35 217.06 L393.58 216.69 L394.81 216.32 L396.04 215.96 L397.27 215.6 L398.5 215.26 L399.73 214.93 L400.96 214.61 L402.19 214.31 L403.42 214.04 L404.66 213.79 L405.89 213.55 L407.12 213.32 L408.35 213.09 L409.58 212.86 L410.81 212.63 L412.04 212.4 L413.27 212.16 L414.5 211.93 L415.73 211.7 L416.96 211.47 L418.19 211.25 L419.42 211.03 L420.66 210.82 L421.89 210.62 L423.12 210.45 L424.35 210.34 L425.58 210.28 L426.81 210.28 L428.04 210.31 L429.27 210.37 L430.5 210.45 L431.73 210.54 L432.96 210.64 L434.19 210.8 L435.42 211 L436.65 211.24 L437.89 211.49 L439.12 211.74 L440.35 211.98 L441.58 212.18 L442.81 212.33 L444.04 212.43 L445.27 212.48 L446.5 212.5 L447.73 212.48 L448.96 212.43 L450.19 212.35 L451.42 212.24 L452.65 212.11 L453.88 211.95 L455.12 211.74 L456.35 211.47 L457.58 211.14 L458.81 210.76 L460.04 210.32 L461.27 209.83 L462.5 209.28 L463.73 208.6 L464.96 207.81 L466.19 206.96 L467.42 206.12 L468.65 205.34 L469.88 204.67 L471.12 204.07 L472.35 203.56 L473.58 203.17 L474.81 202.94 L476.04 202.91 L477.27 203.1 L478.5 203.49 L479.73 204.03 L480.96 204.68 L482.19 205.44 L483.42 206.3 L484.65 207.23 L485.88 208.17 L487.11 209.05 L488.35 209.81 L489.58 210.48 L490.81 211.12 L492.04 211.71 L493.27 212.22 L494.5 212.64 L495.73 212.95 L496.96 213.18 L498.19 213.39 L499.42 213.57 L500.65 213.74 L501.88 213.91 L503.11 214.09 L504.34 214.28 L505.58 214.51 L506.81 214.78 L508.04 215.08 L509.27 215.4 L510.5 215.71 L511.73 215.98 L512.96 216.19 L514.19 216.37 L515.42 216.54 L516.65 216.71 L517.88 216.88 L519.11 217.05 L520.34 217.23 L521.58 217.4 L522.81 217.58 L524.04 217.75 L525.27 217.93 L526.5 218.11 L527.73 218.28 L528.96 218.46 L530.19 218.63 L531.42 218.81 L532.65 218.99 L533.88 219.16 L535.11 219.35 L536.34 219.54 L537.57 219.74 L538.81 219.95 L540.04 220.16 L541.27 220.38 L542.5 220.61 L543.73 220.86 L544.96 221.23 L546.19 221.73 L547.42 222.29 L548.65 222.88 L549.88 223.45 L551.11 223.96 L552.34 224.35 L553.57 224.69 L554.8 225.01 L556.04 225.3 L557.27 225.57 L558.5 225.8 L559.73 226.01 L560.96 226.18 L562.19 226.32 L563.42 226.43 L564.65 226.53 L565.88 226.61 L567.11 226.67 L568.34 226.7 L569.57 226.71 L570.8 226.69 L572.03 226.63 L573.27 226.53 L574.5 226.39 L575.73 226.21 L576.96 226.02 L578.19 225.83 L579.42 225.63 L580.65 225.43 L581.88 225.22 L583.11 225 L584.34 224.77 L585.57 224.54 L586.8 224.3 L588.03 224.05 L589.27 223.8 L590.5 223.54 L591.73 223.29 L592.96 223.03 L594.19 222.78 L595.42 222.54 L596.65 222.31 L597.88 222.08 L599.11 221.87 L600.34 221.68 L601.57 221.49 L602.8 221.32 L604.03 221.17 L605.26 221.02 L606.5 220.89 L607.73 220.77 L608.96 220.67 L610.19 220.57 L611.42 220.47 L612.65 220.39 L613.88 220.31 L615.11 220.24 L616.34 220.17 L617.57 220.12 L618.8 220.06 L620.03 220.01 L621.26 219.97 L622.49 219.93 L623.73 219.9 L624.96 219.87 L626.19 219.84 L627.42 219.81 L628.65 219.78 L629.88 219.75 L631.11 219.73 L632.34 219.72 L633.57 219.71 L634.8 219.71 L636.03 219.72 L637.26 219.74 L638.49 219.78 L639.73 219.82 L640.96 219.88 L642.19 219.96 L643.42 220.03 L644.65 220.11 L645.88 220.2 L647.11 220.28 L648.34 220.37 L649.57 220.46 L650.8 220.55 L652.03 220.64 L653.26 220.72 L654.49 220.81 L655.72 220.9 L656.96 220.98 L658.19 221.06 L659.42 221.14 L660.65 221.22 L661.88 221.3 L663.11 221.38 L664.34 221.46 L665.57 221.54 L666.8 221.61 L668.03 221.69 L669.26 221.76 L670.49 221.84 L671.72 221.91 L672.95 221.98 L674.19 222.04 L675.42 222.11 L676.65 222.17 L677.88 222.22 L679.11 222.25 L680.34 222.26 L681.57 222.27 L682.8 222.26 L684.03 222.24 L685.26 222.22 L686.49 222.19 L687.72 222.16 L688.95 222.12 L690.19 222.09 L691.42 222.05 L692.65 222.02 L693.88 222 L695.11 221.96 L696.34 221.9 L697.57 221.82 L698.8 221.73 L700.03 221.64 L701.26 221.54 L702.49 221.46 L703.72 221.38 L704.95 221.33 L706.18 221.3 L707.42 221.37 L708.65 221.57 L709.88 221.86 L711.11 222.22 L712.34 222.62 L713.57 223.17 L714.8 223.84 L716.03 224.53 L717.26 225.15 L718.49 225.59 L719.72 225.86 L720.95 226.1 L722.18 226.34 L723.41 226.57 L724.65 226.78 L725.88 226.99 L727.11 227.19 L728.34 227.37 L729.57 227.55 L730.8 227.72 L732.03 227.89 L733.26 228.06 L734.49 228.23 L735.72 228.4 L736.95 228.57 L738.18 228.74 L739.41 228.9 L740.64 229.05 L741.88 229.19 L743.11 229.32 L744.34 229.44 L745.57 229.55 L746.8 229.65 L748.03 229.74 L749.26 229.82 L750.49 229.9 L751.72 229.98 L752.95 230.05 L754.18 230.11 L755.41 230.17 L756.64 230.22 L757.88 230.27 L759.11 230.31 L760.34 230.35 L761.57 230.38 L762.8 230.41 L764.03 230.43 L765.26 230.44 L766.49 230.46 L767.72 230.47 L768.95 230.48 L770.18 230.5 L771.41 230.54 L772.64 230.58 L773.87 230.63 L775.11 230.69 L776.34 230.74 L777.57 230.78 L778.8 230.8 L780.03 230.8 L781.26 230.76 L782.49 230.69 L783.72 230.59 L784.95 230.47 L786.18 230.34 L787.41 230.21 L788.64 230.1 L789.87 230.01 L791.1 229.93 L792.34 229.86 L793.57 229.79 L794.8 229.73 L796.03 229.66 L797.26 229.6 L798.49 229.55 L799.72 229.51 L800.95 229.48 L802.18 229.48 L803.41 229.49 L804.64 229.52 L805.87 229.54 L807.1 229.55 L808.34 229.55 L809.57 229.52 L810.8 229.46 L812.03 229.4 L813.26 229.34 L814.49 229.28 L815.72 229.21 L816.95 229.15 L818.18 229.09 L819.41 229.03 L820.64 228.97 L821.87 228.91 L823.1 228.84 L824.33 228.78 L825.57 228.72 L826.8 228.66 L828.03 228.6 L829.26 228.54 L830.49 228.46 L831.72 228.24 L832.95 227.89 L834.18 227.45 L835.41 226.97 L836.64 226.48 L837.87 226.04 L839.1 225.6 L840.33 225.06 L841.56 224.4 L842.8 223.64 L844.03 218.79 L845.26 217.86 L846.49 217.27 L847.72 217.01 L848.95 216.94 L850.18 216.79 L851.41 216.75 L852.64 217.03 L853.87 217.67 L855.1 218.35 L856.33 219.05 L857.56 219.75 L858.8 220.46 L860.03 221.19 L861.26 221.92 L862.49 222.64 L863.72 223.34 L864.95 223.99 L866.18 224.53 L867.41 224.99 L868.64 225.39 L869.87 225.76 L871.1 226.12 L872.33 226.44 L873.56 226.73 L874.79 226.99 L876.03 227.21 L877.26 227.4 L878.49 227.56 L879.72 227.68 L880.95 227.77 L882.18 227.82 L883.41 227.82 L884.64 227.78 L885.87 227.69 L887.1 227.55 L888.33 227.37 L889.56 227.16 L890.79 226.91 L892.02 226.6 L893.26 226.24 L894.49 225.8 L895.72 225.3 L896.95 224.79 L898.18 224.29 L899.41 223.78 L900.64 223.27 L901.87 222.76 L903.1 222.25 L904.33 221.74 L905.56 221.23 L906.79 220.73 L908.02 220.22 L909.25 219.71 L910.49 219.2 L911.72 218.68 L912.95 218.17 L914.18 217.65 L915.41 217.13 L916.64 216.61 L917.87 216.1 L919.1 215.62 L920.33 215.17 L921.56 214.76 L922.79 214.38 L924.02 214.02 L925.25 213.68 L926.49 213.36 L927.72 213.08 L928.95 212.81 L930.18 212.59 L931.41 212.39 L932.64 212.23 L933.87 212.1 L935.1 211.96 L936.33 211.84 L937.56 211.71 L938.79 211.6 L940.02 211.48 L941.25 211.36 L942.48 211.25 L943.72 211.13 L944.95 210.99 L946.18 210.86 L947.41 210.74 L948.64 210.65 L949.87 210.6 L951.1 210.6 L952.33 210.67 L953.56 210.81 L954.79 211 L956.02 211.22 L957.25 211.46 L958.48 211.68 L959.71 211.86 L960.95 212.02 L962.18 212.17 L963.41 212.32 L964.64 212.47 L965.87 212.62 L967.1 212.76 L968.33 212.91 L969.56 213.05 L970.79 213.19 L972.02 213.33 L973.25 213.46 L974.48 213.59 L975.71 213.71 L976.95 213.81 L978.18 213.9 L979.41 213.97 L980.64 214.02 L981.87 214.04 L983.1 214.03 L984.33 214 L985.56 213.96 L986.79 213.91 L988.02 213.85 L989.25 213.78 L990.48 213.73 L991.71 213.65 L992.94 213.57 L994.18 213.47 L995.41 213.38 L996.64 213.28 L997.87 213.2 L999.1 213.14 L1000.33 213.09 L1001.56 213.09 L1002.79 213.14 L1004.02 213.22 L1005.25 213.31 L1006.48 213.41 L1007.71 213.5 L1008.94 213.57 L1010.17 213.6 L1011.41 213.58 L1012.64 213.52 L1013.87 213.42 L1015.1 213.32 L1016.33 213.21 L1017.56 213.13 L1018.79 213.09 L1020.02 213.1 L1021.25 213.16 L1022.48 213.26 L1023.71 213.41 L1024.94 213.59 L1026.17 213.81 L1027.41 214.07 L1028.64 214.37 L1029.87 214.7 L1031.1 215.05 L1032.33 215.42 L1033.56 215.78 L1034.79 216.14 L1036.02 216.5 L1037.25 216.83 L1038.48 217.16 L1039.71 217.48 L1040.94 217.79 L1042.17 218.1 L1043.4 218.41 L1044.64 218.71 L1045.87 219.01 L1047.1 219.3 L1048.33 219.59 L1049.56 219.86 L1050.79 220.11 L1052.02 220.34 L1053.25 220.54 L1054.48 220.72 L1055.71 220.86 L1056.94 220.96 L1058.17 221.03 L1059.4 221.05 L1060.63 221.03 L1061.87 220.98 L1063.1 220.89 L1064.33 220.79 L1065.56 220.67 L1066.79 220.54 L1068.02 220.41 L1069.25 220.27 L1070.48 220.11 L1071.71 219.94 L1072.94 219.76 L1074.17 219.55 L1075.4 219.32 L1076.63 219.04 L1077.86 218.71 L1079.1 218.37 L1080.33 218.02 L1081.56 217.71 L1082.79 217.44 L1084.02 217.19 L1085.25 216.94 L1086.48 216.72 L1087.71 216.52 L1088.94 216.37 L1090.17 216.28 L1091.4 216.25 L1092.63 216.25 L1093.86 216.25 L1095.1 216.25 L1096.33 216.25 L1097.56 216.25 L1098.79 216.25 L1100.02 216.25 L1101.25 216.25 L1102.48 216.25 L1103.71 216.25 L1104.94 216.25 L1106.17 216.25 L1107.4 216.25 L1108.63 216.25 L1109.86 216.25 L1111.09 216.25 L1112.33 216.25 L1113.56 216.25 L1114.79 216.25 L1116.02 216.25 L1117.25 216.27 L1118.48 216.33 L1119.71 216.44 L1120.94 216.59 L1122.17 216.77 L1123.4 216.97 L1124.63 217.19 L1125.86 217.42 L1127.09 217.67 L1128.32 217.95 L1129.56 218.27 L1130.79 218.61 L1132.02 218.98 L1133.25 219.38 L1134.48 219.81" stroke="#bcbd22" stroke-width="2.08" stroke-linecap="square"/>
<path d="M124.05 226 L125.28 225.98 L126.51 225.94 L127.74 225.9 L128.97 225.84 L130.2 225.76 L131.43 225.67 L132.66 225.55 L133.9 225.42 L135.13 225.26 L136.36 225.08 L137.59 224.87 L138.82 224.63 L140.05 224.37 L141.28 224.11 L142.51 223.85 L143.74 223.61 L144.97 223.4 L146.2 223.22 L147.43 223.03 L148.66 222.85 L149.89 222.68 L151.13 222.51 L152.36 222.36 L153.59 222.21 L154.82 222.07 L156.05 221.95 L157.28 221.83 L158.51 221.73 L159.74 221.63 L160.97 221.55 L162.2 221.47 L163.43 221.41 L164.66 221.35 L165.89 221.3 L167.12 221.27 L168.36 221.23 L169.59 221.21 L170.82 221.2 L172.05 221.19 L173.28 221.2 L174.51 221.23 L175.74 221.27 L176.97 221.32 L178.2 221.39 L179.43 221.46 L180.66 221.53 L181.89 221.61 L183.12 221.7 L184.36 221.79 L185.59 221.89 L186.82 221.99 L188.05 222.09 L189.28 222.21 L190.51 222.33 L191.74 222.46 L192.97 222.58 L194.2 222.71 L195.43 222.83 L196.66 222.93 L197.89 223.03 L199.12 223.11 L200.35 223.18 L201.59 223.24 L202.82 223.29 L204.05 223.33 L205.28 223.36 L206.51 223.38 L207.74 223.4 L208.97 223.4 L210.2 223.41 L211.43 223.4 L212.66 223.39 L213.89 223.38 L215.12 223.36 L216.35 223.34 L217.58 223.31 L218.82 223.27 L220.05 223.22 L221.28 223.16 L222.51 223.09 L223.74 223 L224.97 222.91 L226.2 222.81 L227.43 222.71 L228.66 222.62 L229.89 222.52 L231.12 222.41 L232.35 222.31 L233.58 222.21 L234.81 222.1 L236.05 222 L237.28 221.89 L238.51 221.78 L239.74 221.67 L240.97 221.56 L242.2 221.45 L243.43 221.33 L244.66 221.22 L245.89 221.11 L247.12 221 L248.35 220.89 L249.58 220.79 L250.81 220.68 L252.05 220.58 L253.28 220.49 L254.51 220.4 L255.74 220.32 L256.97 220.23 L258.2 220.15 L259.43 220.08 L260.66 220 L261.89 219.92 L263.12 219.84 L264.35 219.77 L265.58 219.69 L266.81 219.62 L268.04 219.56 L269.28 219.5 L270.51 219.46 L271.74 219.43 L272.97 219.42 L274.2 219.43 L275.43 219.46 L276.66 219.52 L277.89 219.59 L279.12 219.67 L280.35 219.75 L281.58 219.84 L282.81 219.93 L284.04 220.03 L285.27 220.13 L286.51 220.23 L287.74 220.34 L288.97 220.44 L290.2 220.54 L291.43 220.65 L292.66 220.75 L293.89 220.86 L295.12 220.97 L296.35 221.07 L297.58 221.18 L298.81 221.28 L300.04 221.39 L301.27 221.52 L302.51 221.64 L303.74 221.76 L304.97 221.86 L306.2 221.93 L307.43 221.97 L308.66 221.97 L309.89 221.91 L311.12 221.81 L312.35 221.69 L313.58 221.55 L314.81 221.41 L316.04 221.27 L317.27 221.12 L318.5 220.97 L319.74 220.83 L320.97 220.7 L322.2 220.57 L323.43 220.44 L324.66 220.31 L325.89 220.18 L327.12 220.05 L328.35 219.92 L329.58 219.8 L330.81 219.68 L332.04 219.56 L333.27 219.46 L334.5 219.4 L335.73 219.39 L336.97 219.43 L338.2 219.5 L339.43 219.6 L340.66 219.72 L341.89 219.85 L343.12 219.99 L344.35 220.13 L345.58 220.27 L346.81 220.42 L348.04 220.61 L349.27 220.8 L350.5 221.01 L351.73 221.22 L352.97 221.42 L354.2 221.62 L355.43 221.79 L356.66 221.94 L357.89 222.06 L359.12 222.15 L360.35 222.22 L361.58 222.27 L362.81 222.3 L364.04 222.3 L365.27 222.3 L366.5 222.27 L367.73 222.23 L368.96 222.18 L370.2 222.11 L371.43 222.04 L372.66 221.95 L373.89 221.85 L375.12 221.71 L376.35 221.54 L377.58 221.32 L378.81 221.06 L380.04 220.74 L381.27 220.38 L382.5 220.02 L383.73 219.64 L384.96 219.27 L386.19 218.89 L387.43 218.52 L388.66 218.15 L389.89 217.78 L391.12 217.42 L392.35 217.06 L393.58 216.69 L394.81 216.32 L396.04 215.96 L397.27 215.6 L398.5 215.26 L399.73 214.93 L400.96 214.61 L402.19 214.31 L403.42 214.04 L404.66 213.79 L405.89 213.55 L407.12 213.32 L408.35 213.09 L409.58 212.86 L410.81 212.63 L412.04 212.4 L413.27 212.16 L414.5 211.93 L415.73 211.7 L416.96 211.47 L418.19 211.25 L419.42 211.03 L420.66 210.82 L421.89 210.62 L423.12 210.45 L424.35 210.34 L425.58 210.28 L426.81 210.28 L428.04 210.31 L429.27 210.37 L430.5 210.45 L431.73 210.54 L432.96 210.64 L434.19 210.8 L435.42 211 L436.65 211.24 L437.89 211.49 L439.12 211.74 L440.35 211.98 L441.58 212.18 L442.81 212.33 L444.04 212.43 L445.27 212.48 L446.5 212.5 L447.73 212.48 L448.96 212.43 L450.19 212.35 L451.42 212.24 L452.65 212.11 L453.88 211.95 L455.12 211.74 L456.35 211.47 L457.58 211.14 L458.81 210.76 L460.04 210.32 L461.27 209.83 L462.5 209.28 L463.73 208.6 L464.96 207.81 L466.19 206.96 L467.42 206.12 L468.65 205.34 L469.88 204.67 L471.12 204.07 L472.35 203.56 L473.58 203.17 L474.81 202.94 L476.04 202.91 L477.27 203.1 L478.5 203.49 L479.73 204.03 L480.96 204.68 L482.19 205.44 L483.42 206.3 L484.65 207.23 L485.88 208.17 L487.11 209.05 L488.35 209.81 L489.58 210.48 L490.81 211.12 L492.04 211.71 L493.27 212.22 L494.5 212.64 L495.73 212.95 L496.96 213.18 L498.19 213.39 L499.42 213.57 L500.65 213.74 L501.88 213.91 L503.11 214.09 L504.34 214.28 L505.58 214.51 L506.81 214.78 L508.04 215.08 L509.27 215.4 L510.5 215.71 L511.73 215.98 L512.96 216.19 L514.19 216.37 L515.42 216.54 L516.65 216.71 L517.88 216.88 L519.11 217.05 L520.34 217.23 L521.58 217.4 L522.81 217.58 L524.04 217.75 L525.27 217.93 L526.5 218.11 L527.73 218.28 L528.96 218.46 L530.19 218.63 L531.42 218.81 L532.65 218.99 L533.88 219.16 L535.11 219.35 L536.34 219.54 L537.57 219.74 L538.81 219.95 L540.04 220.16 L541.27 220.38 L542.5 220.61 L543.73 220.86 L544.96 221.23 L546.19 221.73 L547.42 222.29 L548.65 222.88 L549.88 223.45 L551.11 223.96 L552.34 224.35 L553.57 224.69 L554.8 225.01 L556.04 225.3 L557.27 225.57 L558.5 225.8 L559.73 226.01 L560.96 226.18 L562.19 226.32 L563.42 226.43 L564.65 226.53 L565.88 226.61 L567.11 226.67 L568.34 226.7 L569.57 226.71 L570.8 226.69 L572.03 226.63 L573.27 226.53 L574.5 226.39 L575.73 226.21 L576.96 226.02 L578.19 225.83 L579.42 225.63 L580.65 225.43 L581.88 225.22 L583.11 225 L584.34 224.77 L585.57 224.54 L586.8 224.3 L588.03 224.05 L589.27 223.8 L590.5 223.54 L591.73 223.29 L592.96 223.03 L594.19 222.78 L595.42 222.54 L596.65 222.31 L597.88 222.08 L599.11 221.87 L600.34 221.68 L601.57 221.49 L602.8 221.32 L604.03 221.17 L605.26 221.02 L606.5 220.89 L607.73 220.77 L608.96 220.67 L610.19 220.57 L611.42 220.47 L612.65 220.39 L613.88 220.31 L615.11 220.24 L616.34 220.17 L617.57 220.12 L618.8 220.06 L620.03 220.01 L621.26 219.97 L622.49 219.93 L623.73 219.9 L624.96 219.87 L626.19 219.84 L627.42 219.81 L628.65 219.78 L629.88 219.75 L631.11 219.73 L632.34 219.72 L633.57 219.71 L634.8 219.71 L636.03 219.72 L637.26 219.74 L638.49 219.78 L639.73 219.82 L640.96 219.88 L642.19 219.96 L643.42 220.03 L644.65 220.11 L645.88 220.2 L647.11 220.28 L648.34 220.37 L649.57 220.46 L650.8 220.55 L652.03 220.64 L653.26 220.72 L654.49 220.81 L655.72 220.9 L656.96 220.98 L658.19 221.06 L659.42 221.14 L660.65 221.22 L661.88 221.3 L663.11 221.38 L664.34 221.46 L665.57 221.54 L666.8 221.61 L668.03 221.69 L669.26 221.76 L670.49 221.84 L671.72 221.91 L672.95 221.98 L674.19 222.04 L675.42 222.11 L676.65 222.17 L677.88 222.22 L679.11 222.25 L680.34 222.26 L681.57 222.27 L682.8 222.26 L684.03 222.24 L685.26 222.22 L686.49 222.19 L687.72 222.16 L688.95 222.12 L690.19 222.09 L691.42 222.05 L692.65 222.02 L693.88 222 L695.11 221.96 L696.34 221.9 L697.57 221.82 L698.8 221.73 L700.03 221.64 L701.26 221.54 L702.49 221.46 L703.72 221.38 L704.95 221.33 L706.18 221.3 L707.42 221.37 L708.65 221.57 L709.88 221.86 L711.11 222.22 L712.34 222.62 L713.57 223.17 L714.8 223.84 L716.03 224.53 L717.26 225.15 L718.49 225.59 L719.72 225.86 L720.95 226.1 L722.18 226.34 L723.41 226.57 L724.65 226.78 L725.88 226.99 L727.11 227.19 L728.34 227.37 L729.57 227.55 L730.8 227.72 L732.03 227.89 L733.26 228.06 L734.49 228.23 L735.72 228.4 L736.95 228.57 L738.18 228.74 L739.41 228.9 L740.64 229.05 L741.88 229.19 L743.11 229.32 L744.34 229.44 L745.57 229.55 L746.8 229.65 L748.03 229.74 L749.26 229.82 L750.49 229.9 L751.72 229.98 L752.95 230.05 L754.18 230.11 L755.41 230.17 L756.64 230.22 L757.88 230.27 L759.11 230.31 L760.34 230.35 L761.57 230.38 L762.8 230.41 L764.03 230.43 L765.26 230.44 L766.49 230.46 L767.72 230.47 L768.95 230.48 L770.18 230.5 L771.41 230.54 L772.64 230.58 L773.87 230.63 L775.11 230.69 L776.34 230.74 L777.57 230.78 L778.8 230.8 L780.03 230.8 L781.26 230.76 L782.49 230.69 L783.72 230.59 L784.95 230.47 L786.18 230.34 L787.41 230.21 L788.64 230.1 L789.87 230.01 L791.1 229.93 L792.34 229.86 L793.57 229.79 L794.8 229.73 L796.03 229.66 L797.26 229.6 L798.49 229.55 L799.72 229.51 L800.95 229.48 L802.18 229.48 L803.41 229.49 L804.64 229.52 L805.87 229.54 L807.1 229.55 L808.34 229.55 L809.57 229.52 L810.8 229.46 L812.03 229.4 L813.26 229.34 L814.49 229.28 L815.72 229.21 L816.95 229.15 L818.18 229.09 L819.41 229.03 L820.64 228.97 L821.87 228.91 L823.1 228.84 L824.33 228.78 L825.57 228.72 L826.8 228.66 L828.03 228.6 L829.26 228.54 L830.49 228.46 L831.72 228.24 L832.95 227.89 L834.18 227.45 L835.41 226.97 L836.64 226.48 L837.87 226.04 L839.1 225.6 L840.33 225.06 L841.56 224.4 L842.8 223.64 L844.03 218.79 L845.26 217.86 L846.49 217.27 L847.72 217.01 L848.95 216.94 L850.18 216.79 L851.41 216.75 L852.64 217.03 L853.87 217.67 L855.1 218.35 L856.33 219.05 L857.56 219.75 L858.8 220.46 L860.03 221.19 L861.26 221.92 L862.49 222.64 L863.72 223.34 L864.95 223.99 L866.18 224.53 L867.41 224.99 L868.64 225.39 L869.87 225.76 L871.1 226.12 L872.33 226.44 L873.56 226.73 L874.79 226.99 L876.03 227.21 L877.26 227.4 L878.49 227.56 L879.72 227.68 L880.95 227.77 L882.18 227.82 L883.41 227.82 L884.64 227.78 L885.87 227.69 L887.1 227.55 L888.33 227.37 L889.56 227.16 L890.79 226.91 L892.02 226.6 L893.26 226.24 L894.49 225.8 L895.72 225.3 L896.95 224.79 L898.18 224.29 L899.41 223.78 L900.64 223.27 L901.87 222.76 L903.1 222.25 L904.33 221.74 L905.56 221.23 L906.79 220.73 L908.02 220.22 L909.25 219.71 L910.49 219.2 L911.72 218.68 L912.95 218.17 L914.18 217.65 L915.41 217.13 L916.64 216.61 L917.87 216.1 L919.1 215.62 L920.33 215.17 L921.56 214.76 L922.79 214.38 L924.02 214.02 L925.25 213.68 L926.49 213.36 L927.72 213.08 L928.95 212.81 L930.18 212.59 L931.41 212.39 L932.64 212.23 L933.87 212.1 L935.1 211.96 L936.33 211.84 L937.56 211.71 L938.79 211.6 L940.02 211.48 L941.25 211.36 L942.48 211.25 L943.72 211.13 L944.95 210.99 L946.18 210.86 L947.41 210.74 L948.64 210.65 L949.87 210.6 L951.1 210.6 L952.33 210.67 L953.56 210.81 L954.79 211 L956.02 211.22 L957.25 211.46 L958.48 211.68 L959.71 211.86 L960.95 212.02 L962.18 212.17 L963.41 212.32 L964.64 212.47 L965.87 212.62 L967.1 212.76 L968.33 212.91 L969.56 213.05 L970.79 213.19 L972.02 213.33 L973.25 213.46 L974.48 213.59 L975.71 213.71 L976.95 213.81 L978.18 213.9 L979.41 213.97 L980.64 214.02 L981.87 214.04 L983.1 214.03 L984.33 214 L985.56 213.96 L986.79 213.91 L988.02 213.85 L989.25 213.78 L990.48 213.73 L991.71 213.65 L992.94 213.57 L994.18 213.47 L995.41 213.38 L996.64 213.28 L997.87 213.2 L999.1 213.14 L1000.33 213.09 L1001.56 213.09 L1002.79 213.14 L1004.02 213.22 L1005.25 213.31 L1006.48 213.41 L1007.71 213.5 L1008.94 213.57 L1010.17 213.6 L1011.41 213.58 L1012.64 213.52 L1013.87 213.42 L1015.1 213.32 L1016.33 213.21 L1017.56 213.13 L1018.79 213.09 L1020.02 213.1 L1021.25 213.16 L1022.48 213.26 L1023.71 213.41 L1024.94 213.59 L1026.17 213.81 L1027.41 214.07 L1028.64 214.37 L1029.87 214.7 L1031.1 215.05 L1032.33 215.42 L1033.56 215.78 L1034.79 216.14 L1036.02 216.5 L1037.25 216.83 L1038.48 217.16 L1039.71 217.48 L1040.94 217.79 L1042.17 218.1 L1043.4 218.41 L1044.64 218.71 L1045.87 219.01 L1047.1 219.3 L1048.33 219.59 L1049.56 219.86 L1050.79 220.11 L1052.02 220.34 L1053.25 220.54 L1054.48 220.72 L1055.71 220.86 L1056.94 220.96 L1058.17 221.03 L1059.4 221.05 L1060.63 221.03 L1061.87 220.98 L1063.1 220.89 L1064.33 220.79 L1065.56 220.67 L1066.79 220.54 L1068.02 220.41 L1069.25 220.27 L1070.48 220.11 L1071.71 219.94 L1072.94 219.76 L1074.17 219.55 L1075.4 219.32 L1076.63 219.04 L1077.86 218.71 L1079.1 218.37 L1080.33 218.02 L1081.56 217.71 L1082.79 217.44 L1084.02 217.19 L1085.25 216.94 L1086.48 216.72 L1087.71 216.52 L1088.94 216.37 L1090.17 216.28 L1091.4 216.25 L1092.63 216.25 L1093.86 216.25 L1095.1 216.25 L1096.33 216.25 L1097.56 216.25 L1098.79 216.25 L1100.02 216.25 L1101.25 216.25 L1102.48 216.25 L1103.71 216.25 L1104.94 216.25 L1106.17 216.25 L1107.4 216.25 L1108.63 216.25 L1109.86 216.25 L1111.09 216.25 L1112.33 216.25 L1113.56 216.25 L1114.79 216.25 L1116.02 216.25 L1117.25 216.27 L1118.48 216.33 L1119.71 216.44 L1120.94 216.59 L1122.17 216.77 L1123.4 216.97 L1124.63 217.19 L1125.86 217.42 L1127.09 217.67 L1128.32 217.95 L1129.56 218.27 L1130.79 218.61 L1132.02 218.98 L1133.25 219.38 L1134.48 219.81" stroke="#17becf" stroke-width="2.78" stroke-dasharray="10.28 4.44"/>
<path d="M124.05 222.51 L125.28 222.65 L126.51 222.8 L127.74 222.94 L128.97 223.08 L130.2 223.21 L131.43 223.34 L132.66 223.47 L133.9 223.59 L135.13 223.7 L136.36 223.8 L137.59 223.89 L138.82 223.98 L140.05 224.06 L141.28 224.12 L142.51 224.18 L143.74 224.22 L144.97 224.25 L146.2 224.27 L147.43 224.29 L148.66 224.32 L149.89 224.34 L151.13 224.36 L152.36 224.38 L153.59 224.39 L154.82 224.41 L156.05 224.43 L157.28 224.45 L158.51 224.46 L159.74 224.48 L160.97 224.49 L162.2 224.5 L163.43 224.52 L164.66 224.53 L165.89 224.54 L167.12 224.55 L168.36 224.56 L169.59 224.57 L170.82 224.57 L172.05 224.58 L173.28 224.59 L174.51 224.59 L175.74 224.59 L176.97 224.6 L178.2 224.6 L179.43 224.6 L180.66 224.6 L181.89 224.6 L183.12 224.6 L184.36 224.6 L185.59 224.6 L186.82 224.6 L188.05 224.6 L189.28 224.6 L190.51 224.6 L191.74 224.6 L192.97 224.6 L194.2 224.6 L195.43 224.6 L196.66 224.6 L197.89 224.6 L199.12 224.6 L200.35 224.6 L201.59 224.6 L202.82 224.6 L204.05 224.6 L205.28 224.6 L206.51 224.6 L207.74 224.6 L208.97 224.6 L210.2 224.6 L211.43 224.6 L212.66 224.6 L213.89 224.6 L215.12 224.6 L216.35 224.6 L217.58 224.6 L218.82 224.6 L220.05 224.6 L221.28 224.6 L222.51 224.6 L223.74 224.6 L224.97 224.6 L226.2 224.6 L227.43 224.6 L228.66 224.6 L229.89 224.6 L231.12 224.6 L232.35 224.6 L233.58 224.6 L234.81 224.6 L236.05 224.6 L237.28 224.6 L238.51 224.6 L239.74 224.6 L240.97 224.6 L242.2 224.6 L243.43 224.6 L244.66 224.6 L245.89 224.6 L247.12 224.6 L248.35 224.6 L249.58 224.6 L250.81 224.6 L252.05 224.59 L253.28 224.58 L254.51 224.57 L255.74 224.56 L256.97 224.54 L258.2 224.51 L259.43 224.49 L260.66 224.46 L261.89 224.43 L263.12 224.4 L264.35 224.37 L265.58 224.34 L266.81 224.3 L268.04 224.27 L269.28 224.23 L270.51 224.2 L271.74 224.16 L272.97 224.13 L274.2 224.1 L275.43 224.07 L276.66 224.04 L277.89 224.01 L279.12 223.98 L280.35 223.96 L281.58 223.94 L282.81 223.92 L284.04 223.91 L285.27 223.9 L286.51 223.89 L287.74 223.89 L288.97 223.89 L290.2 223.89 L291.43 223.89 L292.66 223.9 L293.89 223.91 L295.12 223.92 L296.35 223.94 L297.58 223.96 L298.81 223.98 L300.04 224 L301.27 224.02 L302.51 224.05 L303.74 224.08 L304.97 224.11 L306.2 224.14 L307.43 224.17 L308.66 224.21 L309.89 224.25 L311.12 224.29 L312.35 224.34 L313.58 224.4 L314.81 224.46 L316.04 224.53 L317.27 224.6 L318.5 224.67 L319.74 224.74 L320.97 224.81 L322.2 224.88 L323.43 224.94 L324.66 225 L325.89 225.05 L327.12 225.09 L328.35 225.12 L329.58 225.15 L330.81 225.18 L332.04 225.21 L333.27 225.23 L334.5 225.26 L335.73 225.28 L336.97 225.3 L338.2 225.32 L339.43 225.34 L340.66 225.36 L341.89 225.37 L343.12 225.39 L344.35 225.4 L345.58 225.42 L346.81 225.43 L348.04 225.44 L349.27 225.45 L350.5 225.46 L351.73 225.46 L352.97 225.47 L354.2 225.48 L355.43 225.48 L356.66 225.49 L357.89 225.49 L359.12 225.49 L360.35 225.5 L361.58 225.5 L362.81 225.5 L364.04 225.5 L365.27 225.5 L366.5 225.49 L367.73 225.48 L368.96 225.47 L370.2 225.46 L371.43 225.44 L372.66 225.42 L373.89 225.41 L375.12 225.39 L376.35 225.37 L377.58 225.35 L378.81 225.32 L380.04 225.3 L381.27 225.28 L382.5 225.26 L383.73 225.24 L384.96 225.22 L386.19 225.2 L387.43 225.18 L388.66 225.16 L389.89 225.15 L391.12 225.13 L392.35 225.12 L393.58 225.11 L394.81 225.11 L396.04 225.1 L397.27 225.1 L398.5 225.1 L399.73 225.11 L400.96 225.13 L402.19 225.14 L403.42 225.17 L404.66 225.2 L405.89 225.23 L407.12 225.27 L408.35 225.31 L409.58 225.36 L410.81 225.4 L412.04 225.45 L413.27 225.51 L414.5 225.56 L415.73 225.62 L416.96 225.67 L418.19 225.73 L419.42 225.79 L420.66 225.85 L421.89 225.91 L423.12 225.97 L424.35 226.03 L425.58 226.09 L426.81 226.17 L428.04 226.25 L429.27 226.34 L430.5 226.44 L431.73 226.55 L432.96 226.67 L434.19 226.8 L435.42 226.94 L436.65 227.09 L437.89 227.25 L439.12 227.42 L440.35 227.61 L441.58 227.81 L442.81 228.04 L444.04 228.31 L445.27 228.61 L446.5 228.95 L447.73 229.31 L448.96 229.7 L450.19 230.1 L451.42 230.52 L452.65 230.95 L453.88 231.39 L455.12 231.86 L456.35 232.37 L457.58 232.89 L458.81 233.44 L460.04 233.98 L461.27 234.51 L462.5 235.02 L463.73 235.5 L464.96 235.94 L466.19 236.35 L467.42 236.72 L468.65 237.06 L469.88 237.36 L471.12 237.64 L472.35 237.89 L473.58 238.11 L474.81 238.29 L476.04 238.42 L477.27 238.45 L478.5 238.4 L479.73 238.27 L480.96 238.03 L482.19 237.71 L483.42 237.37 L484.65 236.99 L485.88 236.57 L487.11 236.12 L488.35 235.62 L489.58 235.07 L490.81 234.47 L492.04 233.86 L493.27 233.25 L494.5 232.64 L495.73 232.03 L496.96 231.42 L498.19 230.8 L499.42 230.19 L500.65 229.57 L501.88 228.95 L503.11 228.33 L504.34 227.71 L505.58 227.09 L506.81 226.47 L508.04 225.86 L509.27 225.37 L510.5 225 L511.73 224.73 L512.96 224.52 L514.19 224.33 L515.42 224.15 L516.65 224.01 L517.88 223.93 L519.11 223.89 L520.34 223.92 L521.58 224.06 L522.81 224.3 L524.04 224.58 L525.27 224.85 L526.5 225.04 L527.73 225.1 L528.96 225.07 L530.19 225 L531.42 224.88 L532.65 224.73 L533.88 224.56 L535.11 224.37 L536.34 224.18 L537.57 223.99 L538.81 223.81 L540.04 223.66 L541.27 223.53 L542.5 223.44 L543.73 223.39 L544.96 223.4 L546.19 223.44 L547.42 223.49 L548.65 223.55 L549.88 223.61 L551.11 223.68 L552.34 223.75 L553.57 223.83 L554.8 223.92 L556.04 224.01 L557.27 224.1 L558.5 224.21 L559.73 224.32 L560.96 224.45 L562.19 224.59 L563.42 224.75 L564.65 224.91 L565.88 225.07 L567.11 225.23 L568.34 225.37 L569.57 225.5 L570.8 225.62 L572.03 225.7 L573.27 225.76 L574.5 225.79 L575.73 225.79 L576.96 225.77 L578.19 225.73 L579.42 225.66 L580.65 225.58 L581.88 225.47 L583.11 225.35 L584.34 225.21 L585.57 225.06 L586.8 224.87 L588.03 224.66 L589.27 224.42 L590.5 224.16 L591.73 223.88 L592.96 223.61 L594.19 223.33 L595.42 223.07 L596.65 222.82 L597.88 222.59 L599.11 222.39 L600.34 222.22 L601.57 222.09 L602.8 221.98 L604.03 221.86 L605.26 221.75 L606.5 221.64 L607.73 221.53 L608.96 221.43 L610.19 221.33 L611.42 221.24 L612.65 221.15 L613.88 221.06 L615.11 220.97 L616.34 220.89 L617.57 220.81 L618.8 220.73 L620.03 220.65 L621.26 220.57 L622.49 220.49 L623.73 220.41 L624.96 220.33 L626.19 220.25 L627.42 220.18 L628.65 220.11 L629.88 220.05 L631.11 220 L632.34 219.96 L633.57 219.93 L634.8 219.91 L636.03 219.9 L637.26 219.9 L638.49 219.91 L639.73 219.93 L640.96 219.95 L642.19 219.97 L643.42 220 L644.65 220.03 L645.88 220.06 L647.11 220.1 L648.34 220.14 L649.57 220.19 L650.8 220.23 L652.03 220.28 L653.26 220.32 L654.49 220.37 L655.72 220.42 L656.96 220.47 L658.19 220.52 L659.42 220.57 L660.65 220.62 L661.88 220.68 L663.11 220.73 L664.34 220.79 L665.57 220.85 L666.8 220.9 L668.03 220.96 L669.26 221.01 L670.49 221.07 L671.72 221.12 L672.95 221.17 L674.19 221.22 L675.42 221.27 L676.65 221.31 L677.88 221.36 L679.11 221.39 L680.34 221.42 L681.57 221.45 L682.8 221.48 L684.03 221.5 L685.26 221.52 L686.49 221.53 L687.72 221.55 L688.95 221.56 L690.19 221.57 L691.42 221.58 L692.65 221.59 L693.88 221.6 L695.11 221.59 L696.34 221.54 L697.57 221.47 L698.8 221.38 L700.03 221.28 L701.26 221.17 L702.49 221.07 L703.72 220.97 L704.95 220.89 L706.18 220.84 L707.42 220.82 L708.65 220.83 L709.88 220.89 L711.11 220.99 L712.34 221.11 L713.57 221.24 L714.8 221.39 L716.03 221.55 L717.26 221.71 L718.49 221.88 L719.72 222.05 L720.95 222.21 L722.18 222.38 L723.41 222.56 L724.65 222.74 L725.88 222.93 L727.11 223.11 L728.34 223.29 L729.57 223.47 L730.8 223.64 L732.03 223.81 L733.26 223.96 L734.49 224.1 L735.72 224.21 L736.95 224.3 L738.18 224.36 L739.41 224.4 L740.64 224.42 L741.88 224.4 L743.11 224.36 L744.34 224.3 L745.57 224.2 L746.8 224.1 L748.03 223.98 L749.26 223.85 L750.49 223.72 L751.72 223.59 L752.95 223.45 L754.18 223.32 L755.41 223.19 L756.64 223.06 L757.88 222.95 L759.11 222.84 L760.34 222.74 L761.57 222.64 L762.8 222.54 L764.03 222.44 L765.26 222.35 L766.49 222.25 L767.72 222.16 L768.95 222.07 L770.18 221.99 L771.41 221.92 L772.64 221.86 L773.87 221.83 L775.11 221.81 L776.34 221.8 L777.57 221.81 L778.8 221.85 L780.03 221.92 L781.26 222.01 L782.49 222.14 L783.72 222.29 L784.95 222.46 L786.18 222.63 L787.41 222.81 L788.64 222.99 L789.87 223.18 L791.1 223.38 L792.34 223.58 L793.57 223.79 L794.8 224 L796.03 224.2 L797.26 224.39 L798.49 224.57 L799.72 224.71 L800.95 224.83 L802.18 224.93 L803.41 225.02 L804.64 225.1 L805.87 225.19 L807.1 225.28 L808.34 225.35 L809.57 225.4 L810.8 225.45 L812.03 225.48 L813.26 225.5 L814.49 225.49 L815.72 225.43 L816.95 225.33 L818.18 225.19 L819.41 225.01 L820.64 224.79 L821.87 224.53 L823.1 224.24 L824.33 223.92 L825.57 223.58 L826.8 223.19 L828.03 222.77 L829.26 222.3 L830.49 221.79 L831.72 221.27 L832.95 220.74 L834.18 220.21 L835.41 219.68 L836.64 219.15 L837.87 218.62 L839.1 218.09 L840.33 217.54 L841.56 217 L842.8 215.93 L844.03 213.94 L845.26 213.13 L846.49 212.64 L847.72 212.26 L848.95 212.01 L850.18 211.8 L851.41 211.59 L852.64 211.4 L853.87 211.26 L855.1 211.2 L856.33 211.18 L857.56 211.18 L858.8 211.18 L860.03 211.18 L861.26 211.2 L862.49 211.22 L863.72 211.25 L864.95 211.3 L866.18 211.35 L867.41 211.39 L868.64 211.44 L869.87 211.49 L871.1 211.55 L872.33 211.61 L873.56 211.69 L874.79 211.78 L876.03 211.89 L877.26 212 L878.49 212.12 L879.72 212.25 L880.95 212.38 L882.18 212.51 L883.41 212.64 L884.64 212.78 L885.87 212.92 L887.1 213.07 L888.33 213.21 L889.56 213.37 L890.79 213.52 L892.02 213.69 L893.26 213.85 L894.49 214.03 L895.72 214.22 L896.95 214.42 L898.18 214.63 L899.41 214.87 L900.64 215.13 L901.87 215.41 L903.1 215.72 L904.33 216.05 L905.56 216.42 L906.79 216.79 L908.02 217.16 L909.25 217.53 L910.49 217.9 L911.72 218.27 L912.95 218.63 L914.18 219 L915.41 219.37 L916.64 219.74 L917.87 220.11 L919.1 220.48 L920.33 220.85 L921.56 221.22 L922.79 221.59 L924.02 221.96 L925.25 222.33 L926.49 222.7 L927.72 223.07 L928.95 223.43 L930.18 223.8 L931.41 224.17 L932.64 224.52 L933.87 224.86 L935.1 225.17 L936.33 225.44 L937.56 225.68 L938.79 225.87 L940.02 226 L941.25 226.08 L942.48 226.11 L943.72 226.09 L944.95 226.04 L946.18 225.96 L947.41 225.86 L948.64 225.74 L949.87 225.61 L951.1 225.48 L952.33 225.35 L953.56 225.22 L954.79 225.09 L956.02 224.95 L957.25 224.82 L958.48 224.69 L959.71 224.56 L960.95 224.43 L962.18 224.3 L963.41 224.18 L964.64 224.05 L965.87 223.92 L967.1 223.79 L968.33 223.66 L969.56 223.53 L970.79 223.41 L972.02 223.28 L973.25 223.15 L974.48 223.02 L975.71 222.89 L976.95 222.77 L978.18 222.64 L979.41 222.51 L980.64 222.39 L981.87 222.27 L983.1 222.16 L984.33 222.05 L985.56 221.95 L986.79 221.86 L988.02 221.79 L989.25 221.73 L990.48 221.69 L991.71 221.65 L992.94 221.63 L994.18 221.62 L995.41 221.61 L996.64 221.6 L997.87 221.6 L999.1 221.59 L1000.33 221.59 L1001.56 221.57 L1002.79 221.56 L1004.02 221.53 L1005.25 221.49 L1006.48 221.45 L1007.71 221.41 L1008.94 221.36 L1010.17 221.31 L1011.41 221.26 L1012.64 221.21 L1013.87 221.16 L1015.1 221.11 L1016.33 221.05 L1017.56 221 L1018.79 220.93 L1020.02 220.86 L1021.25 220.77 L1022.48 220.68 L1023.71 220.58 L1024.94 220.47 L1026.17 220.36 L1027.41 220.25 L1028.64 220.13 L1029.87 220.01 L1031.1 219.83 L1032.33 219.54 L1033.56 219.26 L1034.79 219.11 L1036.02 219.09 L1037.25 219.1 L1038.48 219.12 L1039.71 219.16 L1040.94 219.2 L1042.17 219.25 L1043.4 219.29 L1044.64 219.34 L1045.87 219.37 L1047.1 219.4 L1048.33 219.41 L1049.56 219.42 L1050.79 219.44 L1052.02 219.45 L1053.25 219.46 L1054.48 219.47 L1055.71 219.47 L1056.94 219.46 L1058.17 219.44 L1059.4 219.42 L1060.63 219.37 L1061.87 219.29 L1063.1 219.17 L1064.33 219.02 L1065.56 218.85 L1066.79 218.67 L1068.02 218.49 L1069.25 218.3 L1070.48 218.13 L1071.71 217.98 L1072.94 217.86 L1074.17 217.72 L1075.4 217.59 L1076.63 217.49 L1077.86 217.43 L1079.1 217.44 L1080.33 217.53 L1081.56 217.68 L1082.79 217.85 L1084.02 218.04 L1085.25 218.26 L1086.48 218.48 L1087.71 218.72 L1088.94 218.96 L1090.17 219.2 L1091.4 219.43 L1092.63 219.67 L1093.86 219.91 L1095.1 220.17 L1096.33 220.43 L1097.56 220.69 L1098.79 220.94 L1100.02 221.2 L1101.25 221.44 L1102.48 221.67 L1103.71 221.89 L1104.94 222.09 L1106.17 222.25 L1107.4 222.39 L1108.63 222.49 L1109.86 222.56 L1111.09 222.61 L1112.33 222.63 L1113.56 222.62 L1114.79 222.58 L1116.02 222.51 L1117.25 222.43 L1118.48 222.34 L1119.71 222.25 L1120.94 222.15 L1122.17 222.04 L1123.4 221.93 L1124.63 221.81 L1125.86 221.68 L1127.09 221.55 L1128.32 221.41 L1129.56 221.27 L1130.79 221.12 L1132.02 220.98 L1133.25 220.83 L1134.48 220.67" stroke="#1f77b4" stroke-width="2.08" stroke-linecap="square"/>
<path d="M124.05 222.51 L125.28 222.65 L126.51 222.8 L127.74 222.94 L128.97 223.08 L130.2 223.21 L131.43 223.34 L132.66 223.47 L133.9 223.59 L135.13 223.7 L136.36 223.8 L137.59 223.89 L138.82 223.98 L140.05 224.06 L141.28 224.12 L142.51 224.18 L143.74 224.22 L144.97 224.25 L146.2 224.27 L147.43 224.29 L148.66 224.32 L149.89 224.34 L151.13 224.36 L152.36 224.38 L153.59 224.39 L154.82 224.41 L156.05 224.43 L157.28 224.45 L158.51 224.46 L159.74 224.48 L160.97 224.49 L162.2 224.5 L163.43 224.52 L164.66 224.53 L165.89 224.54 L167.12 224.55 L168.36 224.56 L169.59 224.57 L170.82 224.57 L172.05 224.58 L173.28 224.59 L174.51 224.59 L175.74 224.59 L176.97 224.6 L178.2 224.6 L179.43 224.6 L180.66 224.6 L181.89 224.6 L183.12 224.6 L184.36 224.6 L185.59 224.6 L186.82 224.6 L188.05 224.6 L189.28 224.6 L190.51 224.6 L191.74 224.6 L192.97 224.6 L194.2 224.6 L195.43 224.6 L196.66 224.6 L197.89 224.6 L199.12 224.6 L200.35 224.6 L201.59 224.6 L202.82 224.6 L204.05 224.6 L205.28 224.6 L206.51 224.6 L207.74 224.6 L208.97 224.6 L210.2 224.6 L211.43 224.6 L212.66 224.6 L213.89 224.6 L215.12 224.6 L216.35 224.6 L217.58 224.6 L218.82 224.6 L220.05 224.6 L221.28 224.6 L222.51 224.6 L223.74 224.6 L224.97 224.6 L226.2 224.6 L227.43 224.6 L228.66 224.6 L229.89 224.6 L231.12 224.6 L232.35 224.6 L233.58 224.6 L234.81 224.6 L236.05 224.6 L237.28 224.6 L238.51 224.6 L239.74 224.6 L240.97 224.6 L242.2 224.6 L243.43 224.6 L244.66 224.6 L245.89 224.6 L247.12 224.6 L248.35 224.6 L249.58 224.6 L250.81 224.6 L252.05 224.59 L253.28 224.58 L254.51 224.57 L255.74 224.56 L256.97 224.54 L258.2 224.51 L259.43 224.49 L260.66 224.46 L261.89 224.43 L263.12 224.4 L264.35 224.37 L265.58 224.34 L266.81 224.3 L268.04 224.27 L269.28 224.23 L270.51 224.2 L271.74 224.16 L272.97 224.13 L274.2 224.1 L275.43 224.07 L276.66 224.04 L277.89 224.01 L279.12 223.98 L280.35 223.96 L281.58 223.94 L282.81 223.92 L284.04 223.91 L285.27 223.9 L286.51 223.89 L287.74 223.89 L288.97 223.89 L290.2 223.89 L291.43 223.89 L292.66 223.9 L293.89 223.91 L295.12 223.92 L296.35 223.94 L297.58 223.96 L298.81 223.98 L300.04 224 L301.27 224.02 L302.51 224.05 L303.74 224.08 L304.97 224.11 L306.2 224.14 L307.43 224.17 L308.66 224.21 L309.89 224.25 L311.12 224.29 L312.35 224.34 L313.58 224.4 L314.81 224.46 L316.04 224.53 L317.27 224.6 L318.5 224.67 L319.74 224.74 L320.97 224.81 L322.2 224.88 L323.43 224.94 L324.66 225 L325.89 225.05 L327.12 225.09 L328.35 225.12 L329.58 225.15 L330.81 225.18 L332.04 225.21 L333.27 225.23 L334.5 225.26 L335.73 225.28 L336.97 225.3 L338.2 225.32 L339.43 225.34 L340.66 225.36 L341.89 225.37 L343.12 225.39 L344.35 225.4 L345.58 225.42 L346.81 225.43 L348.04 225.44 L349.27 225.45 L350.5 225.46 L351.73 225.46 L352.97 225.47 L354.2 225.48 L355.43 225.48 L356.66 225.49 L357.89 225.49 L359.12 225.49 L360.35 225.5 L361.58 225.5 L362.81 225.5 L364.04 225.5 L365.27 225.5 L366.5 225.49 L367.73 225.48 L368.96 225.47 L370.2 225.46 L371.43 225.44 L372.66 225.42 L373.89 225.41 L375.12 225.39 L376.35 225.37 L377.58 225.35 L378.81 225.32 L380.04 225.3 L381.27 225.28 L382.5 225.26 L383.73 225.24 L384.96 225.22 L386.19 225.2 L387.43 225.18 L388.66 225.16 L389.89 225.15 L391.12 225.13 L392.35 225.12 L393.58 225.11 L394.81 225.11 L396.04 225.1 L397.27 225.1 L398.5 225.1 L399.73 225.11 L400.96 225.13 L402.19 225.14 L403.42 225.17 L404.66 225.2 L405.89 225.23 L407.12 225.27 L408.35 225.31 L409.58 225.36 L410.81 225.4 L412.04 225.45 L413.27 225.51 L414.5 225.56 L415.73 225.62 L416.96 225.67 L418.19 225.73 L419.42 225.79 L420.66 225.85 L421.89 225.91 L423.12 225.97 L424.35 226.03 L425.58 226.09 L426.81 226.17 L428.04 226.25 L429.27 226.34 L430.5 226.44 L431.73 226.55 L432.96 226.67 L434.19 226.8 L435.42 226.94 L436.65 227.09 L437.89 227.25 L439.12 227.42 L440.35 227.61 L441.58 227.81 L442.81 228.04 L444.04 228.31 L445.27 228.61 L446.5 228.95 L447.73 229.31 L448.96 229.7 L450.19 230.1 L451.42 230.52 L452.65 230.95 L453.88 231.39 L455.12 231.86 L456.35 232.37 L457.58 232.89 L458.81 233.44 L460.04 233.98 L461.27 234.51 L462.5 235.02 L463.73 235.5 L464.96 235.94 L466.19 236.35 L467.42 236.72 L468.65 237.06 L469.88 237.36 L471.12 237.64 L472.35 237.89 L473.58 238.11 L474.81 238.29 L476.04 238.42 L477.27 238.45 L478.5 238.4 L479.73 238.27 L480.96 238.03 L482.19 237.71 L483.42 237.37 L484.65 236.99 L485.88 236.57 L487.11 236.12 L488.35 235.62 L489.58 235.07 L490.81 234.47 L492.04 233.86 L493.27 233.25 L494.5 232.64 L495.73 232.03 L496.96 231.42 L498.19 230.8 L499.42 230.19 L500.65 229.57 L501.88 228.95 L503.11 228.33 L504.34 227.71 L505.58 227.09 L506.81 226.47 L508.04 225.86 L509.27 225.37 L510.5 225 L511.73 224.73 L512.96 224.52 L514.19 224.33 L515.42 224.15 L516.65 224.01 L517.88 223.93 L519.11 223.89 L520.34 223.92 L521.58 224.06 L522.81 224.3 L524.04 224.58 L525.27 224.85 L526.5 225.04 L527.73 225.1 L528.96 225.07 L530.19 225 L531.42 224.88 L532.65 224.73 L533.88 224.56 L535.11 224.37 L536.34 224.18 L537.57 223.99 L538.81 223.81 L540.04 223.66 L541.27 223.53 L542.5 223.44 L543.73 223.39 L544.96 223.4 L546.19 223.44 L547.42 223.49 L548.65 223.55 L549.88 223.61 L551.11 223.68 L552.34 223.75 L553.57 223.83 L554.8 223.92 L556.04 224.01 L557.27 224.1 L558.5 224.21 L559.73 224.32 L560.96 224.45 L562.19 224.59 L563.42 224.75 L564.65 224.91 L565.88 225.07 L567.11 225.23 L568.34 225.37 L569.57 225.5 L570.8 225.62 L572.03 225.7 L573.27 225.76 L574.5 225.79 L575.73 225.79 L576.96 225.77 L578.19 225.73 L579.42 225.66 L580.65 225.58 L581.88 225.47 L583.11 225.35 L584.34 225.21 L585.57 225.06 L586.8 224.87 L588.03 224.66 L589.27 224.42 L590.5 224.16 L591.73 223.88 L592.96 223.61 L594.19 223.33 L595.42 223.07 L596.65 222.82 L597.88 222.59 L599.11 222.39 L600.34 222.22 L601.57 222.09 L602.8 221.98 L604.03 221.86 L605.26 221.75 L606.5 221.64 L607.73 221.53 L608.96 221.43 L610.19 221.33 L611.42 221.24 L612.65 221.15 L613.88 221.06 L615.11 220.97 L616.34 220.89 L617.57 220.81 L618.8 220.73 L620.03 220.65 L621.26 220.57 L622.49 220.49 L623.73 220.41 L624.96 220.33 L626.19 220.25 L627.42 220.18 L628.65 220.11 L629.88 220.05 L631.11 220 L632.34 219.96 L633.57 219.93 L634.8 219.91 L636.03 219.9 L637.26 219.9 L638.49 219.91 L639.73 219.93 L640.96 219.95 L642.19 219.97 L643.42 220 L644.65 220.03 L645.88 220.06 L647.11 220.1 L648.34 220.14 L649.57 220.19 L650.8 220.23 L652.03 220.28 L653.26 220.32 L654.49 220.37 L655.72 220.42 L656.96 220.47 L658.19 220.52 L659.42 220.57 L660.65 220.62 L661.88 220.68 L663.11 220.73 L664.34 220.79 L665.57 220.85 L666.8 220.9 L668.03 220.96 L669.26 221.01 L670.49 221.07 L671.72 221.12 L672.95 221.17 L674.19 221.22 L675.42 221.27 L676.65 221.31 L677.88 221.36 L679.11 221.39 L680.34 221.42 L681.57 221.45 L682.8 221.48 L684.03 221.5 L685.26 221.52 L686.49 221.53 L687.72 221.55 L688.95 221.56 L690.19 221.57 L691.42 221.58 L692.65 221.59 L693.88 221.6 L695.11 221.59 L696.34 221.54 L697.57 221.47 L698.8 221.38 L700.03 221.28 L701.26 221.17 L702.49 221.07 L703.72 220.97 L704.95 220.89 L706.18 220.84 L707.42 220.82 L708.65 220.83 L709.88 220.89 L711.11 220.99 L712.34 221.11 L713.57 221.24 L714.8 221.39 L716.03 221.55 L717.26 221.71 L718.49 221.88 L719.72 222.05 L720.95 222.21 L722.18 222.38 L723.41 222.56 L724.65 222.74 L725.88 222.93 L727.11 223.11 L728.34 223.29 L729.57 223.47 L730.8 223.64 L732.03 223.81 L733.26 223.96 L734.49 224.1 L735.72 224.21 L736.95 224.3 L738.18 224.36 L739.41 224.4 L740.64 224.42 L741.88 224.4 L743.11 224.36 L744.34 224.3 L745.57 224.2 L746.8 224.1 L748.03 223.98 L749.26 223.85 L750.49 223.72 L751.72 223.59 L752.95 223.45 L754.18 223.32 L755.41 223.19 L756.64 223.06 L757.88 222.95 L759.11 222.84 L760.34 222.74 L761.57 222.64 L762.8 222.54 L764.03 222.44 L765.26 222.35 L766.49 222.25 L767.72 222.16 L768.95 222.07 L770.18 221.99 L771.41 221.92 L772.64 221.86 L773.87 221.83 L775.11 221.81 L776.34 221.8 L777.57 221.81 L778.8 221.85 L780.03 221.92 L781.26 222.01 L782.49 222.14 L783.72 222.29 L784.95 222.46 L786.18 222.63 L787.41 222.81 L788.64 222.99 L789.87 223.18 L791.1 223.38 L792.34 223.58 L793.57 223.79 L794.8 224 L796.03 224.2 L797.26 224.39 L798.49 224.57 L799.72 224.71 L800.95 224.83 L802.18 224.93 L803.41 225.02 L804.64 225.1 L805.87 225.19 L807.1 225.28 L808.34 225.35 L809.57 225.4 L810.8 225.45 L812.03 225.48 L813.26 225.5 L814.49 225.49 L815.72 225.43 L816.95 225.33 L818.18 225.19 L819.41 225.01 L820.64 224.79 L821.87 224.53 L823.1 224.24 L824.33 223.92 L825.57 223.58 L826.8 223.19 L828.03 222.77 L829.26 222.3 L830.49 221.79 L831.72 221.27 L832.95 220.74 L834.18 220.21 L835.41 219.68 L836.64 219.15 L837.87 218.62 L839.1 218.09 L840.33 217.54 L841.56 217 L842.8 215.93 L844.03 213.94 L845.26 213.13 L846.49 212.64 L847.72 212.26 L848.95 212.01 L850.18 211.8 L851.41 211.59 L852.64 211.4 L853.87 211.26 L855.1 211.2 L856.33 211.18 L857.56 211.18 L858.8 211.18 L860.03 211.18 L861.26 211.2 L862.49 211.22 L863.72 211.25 L864.95 211.3 L866.18 211.35 L867.41 211.39 L868.64 211.44 L869.87 211.49 L871.1 211.55 L872.33 211.61 L873.56 211.69 L874.79 211.78 L876.03 211.89 L877.26 212 L878.49 212.12 L879.72 212.25 L880.95 212.38 L882.18 212.51 L883.41 212.64 L884.64 212.78 L885.87 212.92 L887.1 213.07 L888.33 213.21 L889.56 213.37 L890.79 213.52 L892.02 213.69 L893.26 213.85 L894.49 214.03 L895.72 214.22 L896.95 214.42 L898.18 214.63 L899.41 214.87 L900.64 215.13 L901.87 215.41 L903.1 215.72 L904.33 216.05 L905.56 216.42 L906.79 216.79 L908.02 217.16 L909.25 217.53 L910.49 217.9 L911.72 218.27 L912.95 218.63 L914.18 219 L915.41 219.37 L916.64 219.74 L917.87 220.11 L919.1 220.48 L920.33 220.85 L921.56 221.22 L922.79 221.59 L924.02 221.96 L925.25 222.33 L926.49 222.7 L927.72 223.07 L928.95 223.43 L930.18 223.8 L931.41 224.17 L932.64 224.52 L933.87 224.86 L935.1 225.17 L936.33 225.44 L937.56 225.68 L938.79 225.87 L940.02 226 L941.25 226.08 L942.48 226.11 L943.72 226.09 L944.95 226.04 L946.18 225.96 L947.41 225.86 L948.64 225.74 L949.87 225.61 L951.1 225.48 L952.33 225.35 L953.56 225.22 L954.79 225.09 L956.02 224.95 L957.25 224.82 L958.48 224.69 L959.71 224.56 L960.95 224.43 L962.18 224.3 L963.41 224.18 L964.64 224.05 L965.87 223.92 L967.1 223.79 L968.33 223.66 L969.56 223.53 L970.79 223.41 L972.02 223.28 L973.25 223.15 L974.48 223.02 L975.71 222.89 L976.95 222.77 L978.18 222.64 L979.41 222.51 L980.64 222.39 L981.87 222.27 L983.1 222.16 L984.33 222.05 L985.56 221.95 L986.79 221.86 L988.02 221.79 L989.25 221.73 L990.48 221.69 L991.71 221.65 L992.94 221.63 L994.18 221.62 L995.41 221.61 L996.64 221.6 L997.87 221.6 L999.1 221.59 L1000.33 221.59 L1001.56 221.57 L1002.79 221.56 L1004.02 221.53 L1005.25 221.49 L1006.48 221.45 L1007.71 221.41 L1008.94 221.36 L1010.17 221.31 L1011.41 221.26 L1012.64 221.21 L1013.87 221.16 L1015.1 221.11 L1016.33 221.05 L1017.56 221 L1018.79 220.93 L1020.02 220.86 L1021.25 220.77 L1022.48 220.68 L1023.71 220.58 L1024.94 220.47 L1026.17 220.36 L1027.41 220.25 L1028.64 220.13 L1029.87 220.01 L1031.1 219.83 L1032.33 219.54 L1033.56 219.26 L1034.79 219.11 L1036.02 219.09 L1037.25 219.1 L1038.48 219.12 L1039.71 219.16 L1040.94 219.2 L1042.17 219.25 L1043.4 219.29 L1044.64 219.34 L1045.87 219.37 L1047.1 219.4 L1048.33 219.41 L1049.56 219.42 L1050.79 219.44 L1052.02 219.45 L1053.25 219.46 L1054.48 219.47 L1055.71 219.47 L1056.94 219.46 L1058.17 219.44 L1059.4 219.42 L1060.63 219.37 L1061.87 219.29 L1063.1 219.17 L1064.33 219.02 L1065.56 218.85 L1066.79 218.67 L1068.02 218.49 L1069.25 218.3 L1070.48 218.13 L1071.71 217.98 L1072.94 217.86 L1074.17 217.72 L1075.4 217.59 L1076.63 217.49 L1077.86 217.43 L1079.1 217.44 L1080.33 217.53 L1081.56 217.68 L1082.79 217.85 L1084.02 218.04 L1085.25 218.26 L1086.48 218.48 L1087.71 218.72 L1088.94 218.96 L1090.17 219.2 L1091.4 219.43 L1092.63 219.67 L1093.86 219.91 L1095.1 220.17 L1096.33 220.43 L1097.56 220.69 L1098.79 220.94 L1100.02 221.2 L1101.25 221.44 L1102.48 221.67 L1103.71 221.89 L1104.94 222.09 L1106.17 222.25 L1107.4 222.39 L1108.63 222.49 L1109.86 222.56 L1111.09 222.61 L1112.33 222.63 L1113.56 222.62 L1114.79 222.58 L1116.02 222.51 L1117.25 222.43 L1118.48 222.34 L1119.71 222.25 L1120.94 222.15 L1122.17 222.04 L1123.4 221.93 L1124.63 221.81 L1125.86 221.68 L1127.09 221.55 L1128.32 221.41 L1129.56 221.27 L1130.79 221.12 L1132.02 220.98 L1133.25 220.83 L1134.48 220.67" stroke="#ff7f0e" stroke-width="2.78" stroke-dasharray="10.28 4.44"/>
<path d="M124.05 357.54 L125.28 358.47 L126.51 359.24 L127.74 359.88 L128.97 360.39 L130.2 360.78 L131.43 361.05 L132.66 361.19 L133.9 361.2 L135.13 361.08 L136.36 360.84 L137.59 360.46 L138.82 359.94 L140.05 359.33 L141.28 358.63 L142.51 357.84 L143.74 356.96 L144.97 356 L146.2 354.95 L147.43 353.81 L148.66 352.59 L149.89 351.28 L151.13 349.9 L152.36 348.43 L153.59 346.88 L154.82 345.23 L156.05 343.51 L157.28 341.72 L158.51 339.86 L159.74 337.94 L160.97 335.96 L162.2 333.92 L163.43 331.84 L164.66 329.72 L165.89 327.55 L167.12 325.33 L168.36 323.05 L169.59 320.7 L170.82 318.28 L172.05 315.81 L173.28 313.3 L174.51 310.77 L175.74 308.23 L176.97 305.58 L178.2 302.83 L179.43 299.97 L180.66 297.04 L181.89 293.99 L183.12 290.44 L184.36 286.37 L185.59 281.87 L186.82 276.91 L188.05 271.38 L189.28 265.35 L190.51 259 L191.74 252.24 L192.97 244.88 L194.2 237.01 L195.43 228.92 L196.66 220.85 L197.89 212.7 L199.12 201.35 L200.35 188.32 L201.59 175.28 L202.82 163.35 L204.05 153.65 L205.28 145.41 L206.51 138.48 L207.74 132.4 L208.97 126.86 L210.2 122.63 L211.43 120.42 L212.66 118.9 L213.89 117.55 L215.12 116.36 L216.35 115.31 L217.58 114.33 L218.82 113.39 L220.05 112.46 L221.28 111.49 L222.51 110.44 L223.74 109.24 L224.97 107.74 L226.2 106.06 L227.43 104.38 L228.66 102.86 L229.89 101.68 L231.12 100.8 L232.35 100 L233.58 99.26 L234.81 98.58 L236.05 97.95 L237.28 97.34 L238.51 96.76 L239.74 96.2 L240.97 95.65 L242.2 95.11 L243.43 94.6 L244.66 94.11 L245.89 93.64 L247.12 93.24 L248.35 92.97 L249.58 92.8 L250.81 92.69 L252.05 92.63 L253.28 92.59 L254.51 92.67 L255.74 92.99 L256.97 93.62 L258.2 94.66 L259.43 96.19 L260.66 98.15 L261.89 100.45 L263.12 103.03 L264.35 105.81 L265.58 108.67 L266.81 111.57 L268.04 114.46 L269.28 117.33 L270.51 120.16 L271.74 122.93 L272.97 125.64 L274.2 128.3 L275.43 130.81 L276.66 132.35 L277.89 133.32 L279.12 134.54 L280.35 136.75 L281.58 139.64 L282.81 142.82 L284.04 146.12 L285.27 149.81 L286.51 153.62 L287.74 156.52 L288.97 157.59 L290.2 157.55 L291.43 156.7 L292.66 154.14 L293.89 149.44 L295.12 143.97 L296.35 138.56 L297.58 133.83 L298.81 129.25 L300.04 124.76 L301.27 120.43 L302.51 116.35 L303.74 112.48 L304.97 108.75 L306.2 105.15 L307.43 101.62 L308.66 98.15 L309.89 94.81 L311.12 91.77 L312.35 89.16 L313.58 87.11 L314.81 85.67 L316.04 84.66 L317.27 83.95 L318.5 83.4 L319.74 83.16 L320.97 83.07 L322.2 82.89 L323.43 82.4 L324.66 81.44 L325.89 80.31 L327.12 79.08 L328.35 77.79 L329.58 76.46 L330.81 75.06 L332.04 73.49 L333.27 71.91 L334.5 70.49 L335.73 69.43 L336.97 68.88 L338.2 68.67 L339.43 68.62 L340.66 68.54 L341.89 68.37 L343.12 68.21 L344.35 68.18 L345.58 68.4 L346.81 68.98 L348.04 70.05 L349.27 71.39 L350.5 72.77 L351.73 74.17 L352.97 75.57 L354.2 76.98 L355.43 78.36 L356.66 79.73 L357.89 81.09 L359.12 82.45 L360.35 83.81 L361.58 85.16 L362.81 86.51 L364.04 87.86 L365.27 89.21 L366.5 90.53 L367.73 91.73 L368.96 92.79 L370.2 93.73 L371.43 94.59 L372.66 95.39 L373.89 96.12 L375.12 96.74 L376.35 97.18 L377.58 97.41 L378.81 97.35 L380.04 96.98 L381.27 96.42 L382.5 95.81 L383.73 95.17 L384.96 94.52 L386.19 93.87 L387.43 93.23 L388.66 92.62 L389.89 92.05 L391.12 91.51 L392.35 90.97 L393.58 90.42 L394.81 89.88 L396.04 89.34 L397.27 88.8 L398.5 88.26 L399.73 87.72 L400.96 87.18 L402.19 86.64 L403.42 86.11 L404.66 85.58 L405.89 85.05 L407.12 85.2 L408.35 86.39 L409.58 87.67 L410.81 88.06 L412.04 86.75 L413.27 84.73 L414.5 82.57 L415.73 80.44 L416.96 78.35 L418.19 76.11 L419.42 73.93 L420.66 72.05 L421.89 70.69 L423.12 70.5 L424.35 71.54 L425.58 72.74 L426.81 73.37 L428.04 73.92 L429.27 74.42 L430.5 74.85 L431.73 75.01 L432.96 74.32 L434.19 73.06 L435.42 71.61 L436.65 70.38 L437.89 69.74 L439.12 70.08 L440.35 71.08 L441.58 72.28 L442.81 73.63 L444.04 75.05 L445.27 76.48 L446.5 77.95 L447.73 79.44 L448.96 80.98 L450.19 82.57 L451.42 84.21 L452.65 85.97 L453.88 88.14 L455.12 90.71 L456.35 93.62 L457.58 96.84 L458.81 100.32 L460.04 104.19 L461.27 108.6 L462.5 113.7 L463.73 119.49 L464.96 125.4 L466.19 131.32 L467.42 137.24 L468.65 143.14 L469.88 149.04 L471.12 154.88 L472.35 160.47 L473.58 164.11 L474.81 166.53 L476.04 169.35 L477.27 173.37 L478.5 177.47 L479.73 181.35 L480.96 185.1 L482.19 188.67 L483.42 191.96 L484.65 194.88 L485.88 197.39 L487.11 199.49 L488.35 201.41 L489.58 203.26 L490.81 205.05 L492.04 206.8 L493.27 208.45 L494.5 210 L495.73 211.58 L496.96 213.31 L498.19 215.38 L499.42 217.89 L500.65 220.55 L501.88 223.11 L503.11 225.33 L504.34 227.49 L505.58 229.6 L506.81 231.59 L508.04 233.41 L509.27 235.17 L510.5 236.9 L511.73 238.62 L512.96 240.33 L514.19 242.02 L515.42 243.71 L516.65 245.39 L517.88 247.07 L519.11 248.77 L520.34 250.49 L521.58 252.31 L522.81 254.23 L524.04 256.24 L525.27 258.31 L526.5 260.42 L527.73 262.53 L528.96 264.77 L530.19 267.29 L531.42 269.98 L532.65 272.68 L533.88 275.26 L535.11 277.58 L536.34 279.5 L537.57 281.17 L538.81 282.71 L540.04 284.17 L541.27 285.62 L542.5 287.09 L543.73 288.64 L544.96 290.32 L546.19 292.11 L547.42 293.97 L548.65 295.84 L549.88 297.68 L551.11 299.44 L552.34 301.08 L553.57 302.54 L554.8 303.81 L556.04 304.95 L557.27 305.99 L558.5 306.96 L559.73 307.88 L560.96 308.77 L562.19 309.66 L563.42 310.56 L564.65 311.51 L565.88 312.5 L567.11 313.53 L568.34 314.55 L569.57 315.55 L570.8 316.5 L572.03 317.38 L573.27 318.16 L574.5 318.81 L575.73 319.31 L576.96 319.56 L578.19 319.4 L579.42 318.93 L580.65 318.24 L581.88 317.43 L583.11 316.58 L584.34 315.8 L585.57 315.17 L586.8 314.72 L588.03 314.29 L589.27 313.88 L590.5 313.49 L591.73 313.13 L592.96 312.8 L594.19 312.52 L595.42 312.28 L596.65 312.11 L597.88 312.01 L599.11 312.43 L600.34 313.75 L601.57 315.46 L602.8 317.05 L604.03 318.01 L605.26 318.19 L606.5 317.99 L607.73 317.8 L608.96 317.98 L610.19 318.77 L611.42 319.99 L612.65 321.45 L613.88 322.98 L615.11 324.36 L616.34 325.42 L617.57 325.97 L618.8 325.96 L620.03 325.85 L621.26 325.69 L622.49 325.47 L623.73 325.2 L624.96 324.89 L626.19 324.55 L627.42 324.18 L628.65 323.8 L629.88 323.42 L631.11 323.04 L632.34 322.66 L633.57 322.27 L634.8 321.85 L636.03 321.4 L637.26 320.9 L638.49 320.36 L639.73 319.75 L640.96 319.03 L642.19 318.13 L643.42 317.11 L644.65 316.02 L645.88 314.9 L647.11 313.8 L648.34 312.78 L649.57 311.88 L650.8 311.11 L652.03 310.37 L653.26 309.66 L654.49 308.96 L655.72 308.28 L656.96 307.62 L658.19 306.96 L659.42 306.32 L660.65 305.69 L661.88 305.06 L663.11 304.44 L664.34 303.83 L665.57 303.15 L666.8 302.42 L668.03 301.68 L669.26 300.98 L670.49 300.36 L671.72 299.85 L672.95 299.5 L674.19 299.36 L675.42 299.46 L676.65 299.8 L677.88 300.23 L679.11 300.7 L680.34 301.19 L681.57 301.71 L682.8 302.24 L684.03 302.77 L685.26 303.29 L686.49 303.81 L687.72 304.34 L688.95 304.88 L690.19 305.43 L691.42 305.97 L692.65 306.48 L693.88 306.96 L695.11 307.04 L696.34 306.42 L697.57 305.35 L698.8 304.12 L700.03 302.97 L701.26 301.76 L702.49 300.29 L703.72 298.74 L704.95 297.29 L706.18 296.13 L707.42 295.42 L708.65 295.27 L709.88 295.59 L711.11 296.3 L712.34 297.28 L713.57 298.47 L714.8 299.75 L716.03 301.03 L717.26 302.51 L718.49 304.29 L719.72 306.23 L720.95 308.17 L722.18 309.96 L723.41 311.44 L724.65 312.42 L725.88 312.61 L727.11 312.31 L728.34 311.86 L729.57 311.6 L730.8 311.88 L732.03 313.02 L733.26 314.86 L734.49 316.9 L735.72 318.65 L736.95 319.59 L738.18 319.81 L739.41 319.85 L740.64 319.78 L741.88 319.64 L743.11 319.52 L744.34 319.46 L745.57 319.53 L746.8 319.82 L748.03 320.34 L749.26 320.93 L750.49 321.41 L751.72 321.61 L752.95 321.39 L754.18 320.81 L755.41 319.95 L756.64 318.93 L757.88 317.84 L759.11 316.78 L760.34 315.86 L761.57 315.17 L762.8 314.76 L764.03 314.49 L765.26 314.31 L766.49 314.17 L767.72 314.04 L768.95 313.87 L770.18 313.61 L771.41 313.23 L772.64 312.71 L773.87 312.07 L775.11 311.34 L776.34 310.56 L777.57 309.72 L778.8 308.86 L780.03 307.98 L781.26 307.08 L782.49 306.11 L783.72 305.01 L784.95 303.72 L786.18 302.18 L787.41 300.32 L788.64 297.84 L789.87 294.84 L791.1 291.51 L792.34 288.03 L793.57 284.29 L794.8 280.42 L796.03 276.68 L797.26 273.34 L798.49 270.33 L799.72 267.45 L800.95 264.57 L802.18 261.54 L803.41 258.39 L804.64 255.04 L805.87 251.27 L807.1 247.09 L808.34 242.82 L809.57 238.18 L810.8 233.67 L812.03 230.24 L813.26 228.04 L814.49 226.36 L815.72 224.97 L816.95 224.03 L818.18 223.62 L819.41 223.66 L820.64 224.04 L821.87 225.05 L823.1 227.2 L824.33 230.18 L825.57 233.61 L826.8 237.25 L828.03 241.09 L829.26 245.56 L830.49 250.26 L831.72 254.17 L832.95 257.21 L834.18 259.23 L835.41 260.66 L836.64 261.93 L837.87 263.2 L839.1 264.63 L840.33 266.14 L841.56 267.74 L842.8 269.64 L844.03 272.13 L845.26 275.2 L846.49 278.43 L847.72 281.4 L848.95 283.94 L850.18 286.4 L851.41 288.84 L852.64 291.27 L853.87 293.71 L855.1 296.18 L856.33 298.69 L857.56 301.35 L858.8 304.1 L860.03 306.85 L861.26 309.49 L862.49 311.91 L863.72 313.82 L864.95 315.32 L866.18 316.58 L867.41 317.8 L868.64 319.14 L869.87 320.8 L871.1 322.91 L872.33 325.37 L873.56 327.99 L874.79 330.6 L876.03 333 L877.26 335.03 L878.49 336.55 L879.72 337.91 L880.95 339.2 L882.18 340.44 L883.41 341.63 L884.64 342.78 L885.87 343.89 L887.1 344.98 L888.33 346.07 L889.56 347.15 L890.79 348.24 L892.02 349.31 L893.26 350.37 L894.49 351.41 L895.72 352.38 L896.95 353.3 L898.18 354.21 L899.41 355.11 L900.64 356.05 L901.87 357.05 L903.1 358.14 L904.33 359.33 L905.56 360.56 L906.79 361.79 L908.02 363.03 L909.25 364.26 L910.49 365.49 L911.72 366.72 L912.95 367.95 L914.18 369.18 L915.41 370.41 L916.64 371.64 L917.87 372.87 L919.1 374.1 L920.33 375.33 L921.56 376.56 L922.79 377.79 L924.02 379.02 L925.25 380.27 L926.49 381.96 L927.72 384.16 L928.95 386.65 L930.18 389.25 L931.41 391.76 L932.64 393.98 L933.87 395.88 L935.1 397.57 L936.33 399.12 L937.56 400.6 L938.79 402.11 L940.02 403.7 L941.25 405.47 L942.48 407.47 L943.72 410.14 L944.95 413.66 L946.18 417.76 L947.41 422.17 L948.64 427.3 L949.87 433.37 L951.1 439.4 L952.33 444.44 L953.56 448.14 L954.79 451.19 L956.02 453.73 L957.25 455.86 L958.48 457.63 L959.71 459.03 L960.95 460.23 L962.18 461.41 L963.41 462.75 L964.64 464.42 L965.87 466.52 L967.1 468.95 L968.33 471.73 L969.56 474.91 L970.79 478.53 L972.02 482.78 L973.25 487.9 L974.48 493.26 L975.71 498.18 L976.95 502.17 L978.18 505.84 L979.41 509.4 L980.64 512.94 L981.87 516.57 L983.1 520.38 L984.33 524.43 L985.56 528.54 L986.79 532.64 L988.02 536.74 L989.25 540.84 L990.48 544.95 L991.71 549.05 L992.94 553.15 L994.18 557.25 L995.41 561.36 L996.64 565.46 L997.87 569.56 L999.1 573.68 L1000.33 578.06 L1001.56 582.7 L1002.79 587.51 L1004.02 592.36 L1005.25 597.16 L1006.48 601.81 L1007.71 606.42 L1008.94 611 L1010.17 615.51 L1011.41 619.92 L1012.64 624.17 L1013.87 628.07 L1015.1 631.66 L1016.33 634.99 L1017.56 638.13 L1018.79 641.13 L1020.02 644.05 L1021.25 646.93 L1022.48 649.75 L1023.71 652.54 L1024.94 655.29 L1026.17 658.01 L1027.41 660.7 L1028.64 663.36 L1029.87 665.84 L1031.1 668.21 L1032.33 670.56 L1033.56 672.97 L1034.79 675.54 L1036.02 678.7 L1037.25 682.8 L1038.48 687.18 L1039.71 691.19 L1040.94 694.5 L1042.17 697.37 L1043.4 699.42 L1044.64 700.38 L1045.87 700.77 L1047.1 700.87 L1048.33 700.83 L1049.56 700.83 L1050.79 701.03 L1052.02 701.61 L1053.25 702.43 L1054.48 703.25 L1055.71 704.07 L1056.94 704.89 L1058.17 705.72 L1059.4 706.56 L1060.63 707.42 L1061.87 708.26 L1063.1 709.06 L1064.33 709.49 L1065.56 709.47 L1066.79 709.17 L1068.02 708.77 L1069.25 708.47 L1070.48 708.42 L1071.71 708.59 L1072.94 708.85 L1074.17 709.11 L1075.4 709.23 L1076.63 709.1 L1077.86 708.61 L1079.1 707.73 L1080.33 706.62 L1081.56 705.42 L1082.79 704.26 L1084.02 703.09 L1085.25 701.91 L1086.48 700.7 L1087.71 699.46 L1088.94 698.16 L1090.17 696.8 L1091.4 695.29 L1092.63 693.62 L1093.86 691.9 L1095.1 690.19 L1096.33 688.61 L1097.56 687.44 L1098.79 686.47 L1100.02 685.31 L1101.25 683.58 L1102.48 681.05 L1103.71 677.87 L1104.94 674.27 L1106.17 670.46 L1107.4 666.58 L1108.63 662.65 L1109.86 658.71 L1111.09 654.82 L1112.33 650.99 L1113.56 647.2 L1114.79 643.45 L1116.02 639.75 L1117.25 636.14 L1118.48 632.68 L1119.71 629.53 L1120.94 626.62 L1122.17 623.82 L1123.4 620.98 L1124.63 617.95 L1125.86 614.65 L1127.09 611.14 L1128.32 607.6 L1129.56 604.18 L1130.79 600.97 L1132.02 597.91 L1133.25 594.97 L1134.48 592.16" stroke="#2ca02c" stroke-width="2.08" stroke-linecap="square"/>
<path d="M124.05 357.54 L125.28 358.47 L126.51 359.24 L127.74 359.88 L128.97 360.39 L130.2 360.78 L131.43 361.05 L132.66 361.19 L133.9 361.2 L135.13 361.08 L136.36 360.84 L137.59 360.46 L138.82 359.94 L140.05 359.33 L141.28 358.63 L142.51 357.84 L143.74 356.96 L144.97 356 L146.2 354.95 L147.43 353.81 L148.66 352.59 L149.89 351.28 L151.13 349.9 L152.36 348.43 L153.59 346.88 L154.82 345.23 L156.05 343.51 L157.28 341.72 L158.51 339.86 L159.74 337.94 L160.97 335.96 L162.2 333.92 L163.43 331.84 L164.66 329.72 L165.89 327.55 L167.12 325.33 L168.36 323.05 L169.59 320.7 L170.82 318.28 L172.05 315.81 L173.28 313.3 L174.51 310.77 L175.74 308.23 L176.97 305.58 L178.2 302.83 L179.43 299.97 L180.66 297.04 L181.89 293.99 L183.12 290.44 L184.36 286.37 L185.59 281.87 L186.82 276.91 L188.05 271.38 L189.28 265.35 L190.51 259 L191.74 252.24 L192.97 244.88 L194.2 237.01 L195.43 228.92 L196.66 220.85 L197.89 212.7 L199.12 201.35 L200.35 188.32 L201.59 175.28 L202.82 163.35 L204.05 153.65 L205.28 145.41 L206.51 138.48 L207.74 132.4 L208.97 126.86 L210.2 122.63 L211.43 120.42 L212.66 118.9 L213.89 117.55 L215.12 116.36 L216.35 115.31 L217.58 114.33 L218.82 113.39 L220.05 112.46 L221.28 111.49 L222.51 110.44 L223.74 109.24 L224.97 107.74 L226.2 106.06 L227.43 104.38 L228.66 102.86 L229.89 101.68 L231.12 100.8 L232.35 100 L233.58 99.26 L234.81 98.58 L236.05 97.95 L237.28 97.34 L238.51 96.76 L239.74 96.2 L240.97 95.65 L242.2 95.11 L243.43 94.6 L244.66 94.11 L245.89 93.64 L247.12 93.24 L248.35 92.97 L249.58 92.8 L250.81 92.69 L252.05 92.63 L253.28 92.59 L254.51 92.67 L255.74 92.99 L256.97 93.62 L258.2 94.66 L259.43 96.19 L260.66 98.15 L261.89 100.45 L263.12 103.03 L264.35 105.81 L265.58 108.67 L266.81 111.57 L268.04 114.46 L269.28 117.33 L270.51 120.16 L271.74 122.93 L272.97 125.64 L274.2 128.3 L275.43 130.81 L276.66 132.35 L277.89 133.32 L279.12 134.54 L280.35 136.75 L281.58 139.64 L282.81 142.82 L284.04 146.12 L285.27 149.81 L286.51 153.62 L287.74 156.52 L288.97 157.59 L290.2 157.55 L291.43 156.7 L292.66 154.14 L293.89 149.44 L295.12 143.97 L296.35 138.56 L297.58 133.83 L298.81 129.25 L300.04 124.76 L301.27 120.43 L302.51 116.35 L303.74 112.48 L304.97 108.75 L306.2 105.15 L307.43 101.62 L308.66 98.15 L309.89 94.81 L311.12 91.77 L312.35 89.16 L313.58 87.11 L314.81 85.67 L316.04 84.66 L317.27 83.95 L318.5 83.4 L319.74 83.16 L320.97 83.07 L322.2 82.89 L323.43 82.4 L324.66 81.44 L325.89 80.31 L327.12 79.08 L328.35 77.79 L329.58 76.46 L330.81 75.06 L332.04 73.49 L333.27 71.91 L334.5 70.49 L335.73 69.43 L336.97 68.88 L338.2 68.67 L339.43 68.62 L340.66 68.54 L341.89 68.37 L343.12 68.21 L344.35 68.18 L345.58 68.4 L346.81 68.98 L348.04 70.05 L349.27 71.39 L350.5 72.77 L351.73 74.17 L352.97 75.57 L354.2 76.98 L355.43 78.36 L356.66 79.73 L357.89 81.09 L359.12 82.45 L360.35 83.81 L361.58 85.16 L362.81 86.51 L364.04 87.86 L365.27 89.21 L366.5 90.53 L367.73 91.73 L368.96 92.79 L370.2 93.73 L371.43 94.59 L372.66 95.39 L373.89 96.12 L375.12 96.74 L376.35 97.18 L377.58 97.41 L378.81 97.35 L380.04 96.98 L381.27 96.42 L382.5 95.81 L383.73 95.17 L384.96 94.52 L386.19 93.87 L387.43 93.23 L388.66 92.62 L389.89 92.05 L391.12 91.51 L392.35 90.97 L393.58 90.42 L394.81 89.88 L396.04 89.34 L397.27 88.8 L398.5 88.26 L399.73 87.72 L400.96 87.18 L402.19 86.64 L403.42 86.11 L404.66 85.58 L405.89 85.05 L407.12 85.2 L408.35 86.39 L409.58 87.67 L410.81 88.06 L412.04 86.75 L413.27 84.73 L414.5 82.57 L415.73 80.44 L416.96 78.35 L418.19 76.11 L419.42 73.93 L420.66 72.05 L421.89 70.69 L423.12 70.5 L424.35 71.54 L425.58 72.74 L426.81 73.37 L428.04 73.92 L429.27 74.42 L430.5 74.85 L431.73 75.01 L432.96 74.32 L434.19 73.06 L435.42 71.61 L436.65 70.38 L437.89 69.74 L439.12 70.08 L440.35 71.08 L441.58 72.28 L442.81 73.63 L444.04 75.05 L445.27 76.48 L446.5 77.95 L447.73 79.44 L448.96 80.98 L450.19 82.57 L451.42 84.21 L452.65 85.97 L453.88 88.14 L455.12 90.71 L456.35 93.62 L457.58 96.84 L458.81 100.32 L460.04 104.19 L461.27 108.6 L462.5 113.7 L463.73 119.49 L464.96 125.4 L466.19 131.32 L467.42 137.24 L468.65 143.14 L469.88 149.04 L471.12 154.88 L472.35 160.47 L473.58 164.11 L474.81 166.53 L476.04 169.35 L477.27 173.37 L478.5 177.47 L479.73 181.35 L480.96 185.1 L482.19 188.67 L483.42 191.96 L484.65 194.88 L485.88 197.39 L487.11 199.49 L488.35 201.41 L489.58 203.26 L490.81 205.05 L492.04 206.8 L493.27 208.45 L494.5 210 L495.73 211.58 L496.96 213.31 L498.19 215.38 L499.42 217.89 L500.65 220.55 L501.88 223.11 L503.11 225.33 L504.34 227.49 L505.58 229.6 L506.81 231.59 L508.04 233.41 L509.27 235.17 L510.5 236.9 L511.73 238.62 L512.96 240.33 L514.19 242.02 L515.42 243.71 L516.65 245.39 L517.88 247.07 L519.11 248.77 L520.34 250.49 L521.58 252.31 L522.81 254.23 L524.04 256.24 L525.27 258.31 L526.5 260.42 L527.73 262.53 L528.96 264.77 L530.19 267.29 L531.42 269.98 L532.65 272.68 L533.88 275.26 L535.11 277.58 L536.34 279.5 L537.57 281.17 L538.81 282.71 L540.04 284.17 L541.27 285.62 L542.5 287.09 L543.73 288.64 L544.96 290.32 L546.19 292.11 L547.42 293.97 L548.65 295.84 L549.88 297.68 L551.11 299.44 L552.34 301.08 L553.57 302.54 L554.8 303.81 L556.04 304.95 L557.27 305.99 L558.5 306.96 L559.73 307.88 L560.96 308.77 L562.19 309.66 L563.42 310.56 L564.65 311.51 L565.88 312.5 L567.11 313.53 L568.34 314.55 L569.57 315.55 L570.8 316.5 L572.03 317.38 L573.27 318.16 L574.5 318.81 L575.73 319.31 L576.96 319.56 L578.19 319.4 L579.42 318.93 L580.65 318.24 L581.88 317.43 L583.11 316.58 L584.34 315.8 L585.57 315.17 L586.8 314.72 L588.03 314.29 L589.27 313.88 L590.5 313.49 L591.73 313.13 L592.96 312.8 L594.19 312.52 L595.42 312.28 L596.65 312.11 L597.88 312.01 L599.11 312.43 L600.34 313.75 L601.57 315.46 L602.8 317.05 L604.03 318.01 L605.26 318.19 L606.5 317.99 L607.73 317.8 L608.96 317.98 L610.19 318.77 L611.42 319.99 L612.65 321.45 L613.88 322.98 L615.11 324.36 L616.34 325.42 L617.57 325.97 L618.8 325.96 L620.03 325.85 L621.26 325.69 L622.49 325.47 L623.73 325.2 L624.96 324.89 L626.19 324.55 L627.42 324.18 L628.65 323.8 L629.88 323.42 L631.11 323.04 L632.34 322.66 L633.57 322.27 L634.8 321.85 L636.03 321.4 L637.26 320.9 L638.49 320.36 L639.73 319.75 L640.96 319.03 L642.19 318.13 L643.42 317.11 L644.65 316.02 L645.88 314.9 L647.11 313.8 L648.34 312.78 L649.57 311.88 L650.8 311.11 L652.03 310.37 L653.26 309.66 L654.49 308.96 L655.72 308.28 L656.96 307.62 L658.19 306.96 L659.42 306.32 L660.65 305.69 L661.88 305.06 L663.11 304.44 L664.34 303.83 L665.57 303.15 L666.8 302.42 L668.03 301.68 L669.26 300.98 L670.49 300.36 L671.72 299.85 L672.95 299.5 L674.19 299.36 L675.42 299.46 L676.65 299.8 L677.88 300.23 L679.11 300.7 L680.34 301.19 L681.57 301.71 L682.8 302.24 L684.03 302.77 L685.26 303.29 L686.49 303.81 L687.72 304.34 L688.95 304.88 L690.19 305.43 L691.42 305.97 L692.65 306.48 L693.88 306.96 L695.11 307.04 L696.34 306.42 L697.57 305.35 L698.8 304.12 L700.03 302.97 L701.26 301.76 L702.49 300.29 L703.72 298.74 L704.95 297.29 L706.18 296.13 L707.42 295.42 L708.65 295.27 L709.88 295.59 L711.11 296.3 L712.34 297.28 L713.57 298.47 L714.8 299.75 L716.03 301.03 L717.26 302.51 L718.49 304.29 L719.72 306.23 L720.95 308.17 L722.18 309.96 L723.41 311.44 L724.65 312.42 L725.88 312.61 L727.11 312.31 L728.34 311.86 L729.57 311.6 L730.8 311.88 L732.03 313.02 L733.26 314.86 L734.49 316.9 L735.72 318.65 L736.95 319.59 L738.18 319.81 L739.41 319.85 L740.64 319.78 L741.88 319.64 L743.11 319.52 L744.34 319.46 L745.57 319.53 L746.8 319.82 L748.03 320.34 L749.26 320.93 L750.49 321.41 L751.72 321.61 L752.95 321.39 L754.18 320.81 L755.41 319.95 L756.64 318.93 L757.88 317.84 L759.11 316.78 L760.34 315.86 L761.57 315.17 L762.8 314.76 L764.03 314.49 L765.26 314.31 L766.49 314.17 L767.72 314.04 L768.95 313.87 L770.18 313.61 L771.41 313.23 L772.64 312.71 L773.87 312.07 L775.11 311.34 L776.34 310.56 L777.57 309.72 L778.8 308.86 L780.03 307.98 L781.26 307.08 L782.49 306.11 L783.72 305.01 L784.95 303.72 L786.18 302.18 L787.41 300.32 L788.64 297.84 L789.87 294.84 L791.1 291.51 L792.34 288.03 L793.57 284.29 L794.8 280.42 L796.03 276.68 L797.26 273.34 L798.49 270.33 L799.72 267.45 L800.95 264.57 L802.18 261.54 L803.41 258.39 L804.64 255.04 L805.87 251.27 L807.1 247.09 L808.34 242.82 L809.57 238.18 L810.8 233.67 L812.03 230.24 L813.26 228.04 L814.49 226.36 L815.72 224.97 L816.95 224.03 L818.18 223.62 L819.41 223.66 L820.64 224.04 L821.87 225.05 L823.1 227.2 L824.33 230.18 L825.57 233.61 L826.8 237.25 L828.03 241.09 L829.26 245.56 L830.49 250.26 L831.72 254.17 L832.95 257.21 L834.18 259.23 L835.41 260.66 L836.64 261.93 L837.87 263.2 L839.1 264.63 L840.33 266.14 L841.56 267.74 L842.8 269.64 L844.03 272.13 L845.26 275.2 L846.49 278.43 L847.72 281.4 L848.95 283.94 L850.18 286.4 L851.41 288.84 L852.64 291.27 L853.87 293.71 L855.1 296.18 L856.33 298.69 L857.56 301.35 L858.8 304.1 L860.03 306.85 L861.26 309.49 L862.49 311.91 L863.72 313.82 L864.95 315.32 L866.18 316.58 L867.41 317.8 L868.64 319.14 L869.87 320.8 L871.1 322.91 L872.33 325.37 L873.56 327.99 L874.79 330.6 L876.03 333 L877.26 335.03 L878.49 336.55 L879.72 337.91 L880.95 339.2 L882.18 340.44 L883.41 341.63 L884.64 342.78 L885.87 343.89 L887.1 344.98 L888.33 346.07 L889.56 347.15 L890.79 348.24 L892.02 349.31 L893.26 350.37 L894.49 351.41 L895.72 352.38 L896.95 353.3 L898.18 354.21 L899.41 355.11 L900.64 356.05 L901.87 357.05 L903.1 358.14 L904.33 359.33 L905.56 360.56 L906.79 361.79 L908.02 363.03 L909.25 364.26 L910.49 365.49 L911.72 366.72 L912.95 367.95 L914.18 369.18 L915.41 370.41 L916.64 371.64 L917.87 372.87 L919.1 374.1 L920.33 375.33 L921.56 376.56 L922.79 377.79 L924.02 379.02 L925.25 380.27 L926.49 381.96 L927.72 384.16 L928.95 386.65 L930.18 389.25 L931.41 391.76 L932.64 393.98 L933.87 395.88 L935.1 397.57 L936.33 399.12 L937.56 400.6 L938.79 402.11 L940.02 403.7 L941.25 405.47 L942.48 407.47 L943.72 410.14 L944.95 413.66 L946.18 417.76 L947.41 422.17 L948.64 427.3 L949.87 433.37 L951.1 439.4 L952.33 444.44 L953.56 448.14 L954.79 451.19 L956.02 453.73 L957.25 455.86 L958.48 457.63 L959.71 459.03 L960.95 460.23 L962.18 461.41 L963.41 462.75 L964.64 464.42 L965.87 466.52 L967.1 468.95 L968.33 471.73 L969.56 474.91 L970.79 478.53 L972.02 482.78 L973.25 487.9 L974.48 493.26 L975.71 498.18 L976.95 502.17 L978.18 505.84 L979.41 509.4 L980.64 512.94 L981.87 516.57 L983.1 520.38 L984.33 524.43 L985.56 528.54 L986.79 532.64 L988.02 536.74 L989.25 540.84 L990.48 544.95 L991.71 549.05 L992.94 553.15 L994.18 557.25 L995.41 561.36 L996.64 565.46 L997.87 569.56 L999.1 573.68 L1000.33 578.06 L1001.56 582.7 L1002.79 587.51 L1004.02 592.36 L1005.25 597.16 L1006.48 601.81 L1007.71 606.42 L1008.94 611 L1010.17 615.51 L1011.41 619.92 L1012.64 624.17 L1013.87 628.07 L1015.1 631.66 L1016.33 634.99 L1017.56 638.13 L1018.79 641.13 L1020.02 644.05 L1021.25 646.93 L1022.48 649.75 L1023.71 652.54 L1024.94 655.29 L1026.17 658.01 L1027.41 660.7 L1028.64 663.36 L1029.87 665.84 L1031.1 668.21 L1032.33 670.56 L1033.56 672.97 L1034.79 675.54 L1036.02 678.7 L1037.25 682.8 L1038.48 687.18 L1039.71 691.19 L1040.94 694.5 L1042.17 697.37 L1043.4 699.42 L1044.64 700.38 L1045.87 700.77 L1047.1 700.87 L1048.33 700.83 L1049.56 700.83 L1050.79 701.03 L1052.02 701.61 L1053.25 702.43 L1054.48 703.25 L1055.71 704.07 L1056.94 704.89 L1058.17 705.72 L1059.4 706.56 L1060.63 707.42 L1061.87 708.26 L1063.1 709.06 L1064.33 709.49 L1065.56 709.47 L1066.79 709.17 L1068.02 708.77 L1069.25 708.47 L1070.48 708.42 L1071.71 708.59 L1072.94 708.85 L1074.17 709.11 L1075.4 709.23 L1076.63 709.1 L1077.86 708.61 L1079.1 707.73 L1080.33 706.62 L1081.56 705.42 L1082.79 704.26 L1084.02 703.09 L1085.25 701.91 L1086.48 700.7 L1087.71 699.46 L1088.94 698.16 L1090.17 696.8 L1091.4 695.29 L1092.63 693.62 L1093.86 691.9 L1095.1 690.19 L1096.33 688.61 L1097.56 687.44 L1098.79 686.47 L1100.02 685.31 L1101.25 683.58 L1102.48 681.05 L1103.71 677.87 L1104.94 674.27 L1106.17 670.46 L1107.4 666.58 L1108.63 662.65 L1109.86 658.71 L1111.09 654.82 L1112.33 650.99 L1113.56 647.2 L1114.79 643.45 L1116.02 639.75 L1117.25 636.14 L1118.48 632.68 L1119.71 629.53 L1120.94 626.62 L1122.17 623.82 L1123.4 620.98 L1124.63 617.95 L1125.86 614.65 L1127.09 611.14 L1128.32 607.6 L1129.56 604.18 L1130.79 600.97 L1132.02 597.91 L1133.25 594.97 L1134.48 592.16" stroke="#d62728" stroke-width="2.78" stroke-dasharray="10.28 4.44"/>
<path d="M124.05 448.73 L125.28 448.27 L126.51 448.02 L127.74 448.1 L128.97 448.61 L130.2 449.65 L131.43 451.35 L132.66 453.8 L133.9 456.8 L135.13 459.98 L136.36 463.31 L137.59 466.8 L138.82 470.43 L140.05 474.15 L141.28 477.89 L142.51 481.58 L143.74 485.18 L144.97 488.74 L146.2 492.18 L147.43 495.4 L148.66 498.26 L149.89 500.66 L151.13 502.57 L152.36 504.22 L153.59 505.67 L154.82 506.99 L156.05 508.24 L157.28 509.49 L158.51 510.79 L159.74 512.21 L160.97 513.8 L162.2 515.45 L163.43 517.1 L164.66 518.76 L165.89 520.45 L167.12 522.19 L168.36 524 L169.59 525.89 L170.82 527.85 L172.05 529.88 L173.28 531.98 L174.51 534.19 L175.74 536.51 L176.97 538.94 L178.2 541.4 L179.43 543.87 L180.66 546.33 L181.89 548.79 L183.12 551.25 L184.36 553.71 L185.59 556.17 L186.82 558.63 L188.05 561.1 L189.28 563.46 L190.51 565.06 L191.74 565.94 L192.97 566.31 L194.2 566.39 L195.43 566.41 L196.66 566.36 L197.89 565.91 L199.12 564.73 L200.35 562.47 L201.59 558.99 L202.82 555.3 L204.05 551.61 L205.28 547.92 L206.51 544.22 L207.74 540.53 L208.97 536.84 L210.2 533.15 L211.43 529.45 L212.66 526.49 L213.89 524.84 L215.12 524.04 L216.35 523.59 L217.58 523.03 L218.82 521.9 L220.05 520.54 L221.28 519.18 L222.51 517.81 L223.74 516.43 L224.97 515.02 L226.2 513.53 L227.43 511.84 L228.66 510.03 L229.89 508.2 L231.12 506.45 L232.35 504.91 L233.58 503.6 L234.81 502.4 L236.05 501.3 L237.28 500.26 L238.51 499.27 L239.74 498.28 L240.97 497.31 L242.2 496.45 L243.43 495.68 L244.66 494.91 L245.89 494.08 L247.12 492.93 L248.35 491.23 L249.58 489.04 L250.81 486.42 L252.05 483 L253.28 477.96 L254.51 471.21 L255.74 462.88 L256.97 453.92 L258.2 444.43 L259.43 434.67 L260.66 424.75 L261.89 414.1 L263.12 402.96 L264.35 394.72 L265.58 388.25 L266.81 380.23 L268.04 371.96 L269.28 365.03 L270.51 360.02 L271.74 356.26 L272.97 353.48 L274.2 351.82 L275.43 351.44 L276.66 352.16 L277.89 353.6 L279.12 356.02 L280.35 359.41 L281.58 363.01 L282.81 366.63 L284.04 370.12 L285.27 373.48 L286.51 376.76 L287.74 379.92 L288.97 382.92 L290.2 385.45 L291.43 387.26 L292.66 388.47 L293.89 389.18 L295.12 389.52 L296.35 389.59 L297.58 389.32 L298.81 388.64 L300.04 387.56 L301.27 386.07 L302.51 384.12 L303.74 381.41 L304.97 378.35 L306.2 375.5 L307.43 373.34 L308.66 371.77 L309.89 370.63 L311.12 369.9 L312.35 369.54 L313.58 369.78 L314.81 370.71 L316.04 372.3 L317.27 374.6 L318.5 378.24 L319.74 382.75 L320.97 387.13 L322.2 390.43 L323.43 393 L324.66 395.19 L325.89 396.79 L327.12 397.61 L328.35 397.47 L329.58 396.79 L330.81 395.79 L332.04 394.51 L333.27 392.99 L334.5 391.22 L335.73 388.91 L336.97 386.38 L338.2 384.07 L339.43 382.42 L340.66 381.67 L341.89 381.06 L343.12 380.44 L344.35 379.82 L345.58 379.21 L346.81 378.59 L348.04 377.98 L349.27 377.41 L350.5 376.88 L351.73 376.36 L352.97 375.81 L354.2 375.17 L355.43 374.41 L356.66 373.47 L357.89 372.33 L359.12 371.06 L360.35 369.73 L361.58 368.43 L362.81 367.19 L364.04 365.96 L365.27 364.73 L366.5 363.5 L367.73 362.27 L368.96 361.03 L370.2 359.8 L371.43 358.43 L372.66 356.9 L373.89 355.27 L375.12 353.62 L376.35 352 L377.58 350.48 L378.81 349.11 L380.04 347.85 L381.27 346.74 L382.5 345.86 L383.73 345.24 L384.96 344.95 L386.19 345.05 L387.43 345.58 L388.66 346.57 L389.89 347.75 L391.12 349.03 L392.35 350.33 L393.58 351.59 L394.81 352.79 L396.04 354.03 L397.27 355.27 L398.5 356.46 L399.73 357.53 L400.96 358.42 L402.19 359.07 L403.42 358.79 L404.66 357.51 L405.89 355.6 L407.12 353.46 L408.35 351.45 L409.58 349.42 L410.81 347.31 L412.04 345.2 L413.27 343.15 L414.5 341.27 L415.73 339.76 L416.96 338.55 L418.19 337.45 L419.42 336.3 L420.66 334.94 L421.89 333.19 L423.12 330.82 L424.35 327.77 L425.58 324.17 L426.81 320.16 L428.04 315.86 L429.27 311.07 L430.5 305.93 L431.73 300.99 L432.96 296.41 L434.19 292.05 L435.42 288.84 L436.65 287.34 L437.89 286.11 L439.12 284.88 L440.35 283.65 L441.58 282.42 L442.81 281.19 L444.04 279.96 L445.27 278.73 L446.5 277.5 L447.73 276.27 L448.96 275.04 L450.19 273.81 L451.42 272.58 L452.65 271.35 L453.88 270.11 L455.12 268.88 L456.35 267.65 L457.58 266.42 L458.81 265.16 L460.04 263.87 L461.27 262.71 L462.5 261.88 L463.73 261.58 L464.96 261.82 L466.19 262.3 L467.42 262.91 L468.65 263.57 L469.88 264.2 L471.12 264.99 L472.35 265.85 L473.58 266.59 L474.81 267.04 L476.04 267.04 L477.27 266.69 L478.5 266.12 L479.73 265.44 L480.96 264.76 L482.19 264.17 L483.42 263.55 L484.65 262.91 L485.88 262.3 L487.11 261.76 L488.35 261.66 L489.58 262.11 L490.81 263.07 L492.04 264.55 L493.27 266.47 L494.5 268.61 L495.73 270.8 L496.96 272.82 L498.19 274.52 L499.42 276.14 L500.65 278.08 L501.88 280.29 L503.11 282.64 L504.34 285.01 L505.58 287.27 L506.81 289.3 L508.04 291.11 L509.27 292.83 L510.5 294.59 L511.73 296.53 L512.96 298.85 L514.19 301.56 L515.42 304.44 L516.65 307.27 L517.88 309.79 L519.11 311.96 L520.34 313.98 L521.58 315.92 L522.81 317.82 L524.04 319.74 L525.27 321.75 L526.5 323.91 L527.73 326.42 L528.96 329.13 L530.19 331.85 L531.42 334.38 L532.65 336.5 L533.88 338.11 L535.11 339.39 L536.34 340.44 L537.57 341.36 L538.81 342.24 L540.04 343.17 L541.27 344.25 L542.5 345.54 L543.73 346.87 L544.96 348.23 L546.19 349.66 L547.42 351.22 L548.65 352.92 L549.88 354.74 L551.11 356.65 L552.34 358.62 L553.57 360.63 L554.8 362.68 L556.04 364.75 L557.27 366.9 L558.5 369.13 L559.73 371.47 L560.96 374 L562.19 376.84 L563.42 379.91 L564.65 383.09 L565.88 386.44 L567.11 390.17 L568.34 394.08 L569.57 397.93 L570.8 401.48 L572.03 404.65 L573.27 407.58 L574.5 410.25 L575.73 412.6 L576.96 414.59 L578.19 416.19 L579.42 417.36 L580.65 418.37 L581.88 419.3 L583.11 420.15 L584.34 420.94 L585.57 421.68 L586.8 422.37 L588.03 423.02 L589.27 423.65 L590.5 424.27 L591.73 424.88 L592.96 425.47 L594.19 426.04 L595.42 426.59 L596.65 427.12 L597.88 427.61 L599.11 428.07 L600.34 428.5 L601.57 428.88 L602.8 429.13 L604.03 429.01 L605.26 428.58 L606.5 427.97 L607.73 427.26 L608.96 426.56 L610.19 425.98 L611.42 425.61 L612.65 425.56 L613.88 425.94 L615.11 426.62 L616.34 427.34 L617.57 428.09 L618.8 428.84 L620.03 429.6 L621.26 430.36 L622.49 431.11 L623.73 431.84 L624.96 432.53 L626.19 433.16 L627.42 433.77 L628.65 434.38 L629.88 435.02 L631.11 435.73 L632.34 436.53 L633.57 437.49 L634.8 438.92 L636.03 440.67 L637.26 442.55 L638.49 444.34 L639.73 445.91 L640.96 447.44 L642.19 448.93 L643.42 450.36 L644.65 451.63 L645.88 452.49 L647.11 453.12 L648.34 453.74 L649.57 454.6 L650.8 455.85 L652.03 457.27 L653.26 458.78 L654.49 460.29 L655.72 461.71 L656.96 463 L658.19 464.25 L659.42 465.42 L660.65 466.46 L661.88 467.33 L663.11 467.95 L664.34 468.33 L665.57 468.52 L666.8 468.61 L668.03 468.65 L669.26 468.73 L670.49 468.92 L671.72 469.29 L672.95 469.86 L674.19 470.57 L675.42 471.34 L676.65 472.14 L677.88 472.9 L679.11 473.58 L680.34 474.14 L681.57 474.64 L682.8 475.04 L684.03 475.26 L685.26 475.2 L686.49 474.81 L687.72 474.32 L688.95 473.8 L690.19 473.25 L691.42 472.68 L692.65 472.1 L693.88 471.52 L695.11 470.95 L696.34 470.35 L697.57 469.7 L698.8 469.04 L700.03 468.39 L701.26 467.77 L702.49 467.21 L703.72 466.93 L704.95 467.6 L706.18 468.94 L707.42 470.55 L708.65 472.02 L709.88 472.95 L711.11 473.33 L712.34 473.58 L713.57 473.75 L714.8 473.9 L716.03 474.09 L717.26 474.37 L718.49 474.77 L719.72 475.16 L720.95 475.61 L722.18 476.24 L723.41 477.17 L724.65 478.52 L725.88 480.33 L727.11 482.44 L728.34 484.74 L729.57 487.15 L730.8 489.57 L732.03 491.97 L733.26 494.39 L734.49 496.86 L735.72 499.41 L736.95 502.06 L738.18 504.75 L739.41 507.46 L740.64 510.19 L741.88 513.01 L743.11 515.84 L744.34 518.59 L745.57 521.05 L746.8 522.55 L748.03 523.25 L749.26 523.49 L750.49 523.61 L751.72 523.85 L752.95 523.89 L754.18 523.74 L755.41 523.57 L756.64 523.53 L757.88 523.79 L759.11 524.51 L760.34 525.57 L761.57 526.88 L762.8 528.36 L764.03 529.95 L765.26 531.61 L766.49 533.48 L767.72 535.54 L768.95 537.63 L770.18 539.61 L771.41 541.33 L772.64 542.63 L773.87 543.69 L775.11 544.68 L776.34 545.62 L777.57 546.53 L778.8 547.4 L780.03 548.26 L781.26 549.12 L782.49 549.99 L783.72 550.87 L784.95 551.74 L786.18 552.58 L787.41 553.41 L788.64 554.2 L789.87 554.96 L791.1 555.67 L792.34 556.16 L793.57 556.17 L794.8 555.7 L796.03 554.79 L797.26 553.44 L798.49 551.67 L799.72 549.63 L800.95 547.58 L802.18 545.53 L803.41 543.48 L804.64 541.43 L805.87 539.38 L807.1 537.32 L808.34 535.27 L809.57 533.22 L810.8 531.17 L812.03 529.12 L813.26 527.07 L814.49 525.14 L815.72 523.76 L816.95 522.83 L818.18 522.2 L819.41 521.7 L820.64 521.18 L821.87 520.48 L823.1 519.48 L824.33 518.38 L825.57 517.26 L826.8 516.18 L828.03 515.2 L829.26 514.4 L830.49 513.74 L831.72 513.22 L832.95 512.96 L834.18 512.91 L835.41 513.12 L836.64 513.57 L837.87 514.33 L839.1 515.52 L840.33 517.21 L841.56 519.32 L842.8 521.73 L844.03 524.31 L845.26 526.91 L846.49 529.4 L847.72 531.62 L848.95 533.62 L850.18 535.46 L851.41 537.14 L852.64 538.7 L853.87 540.14 L855.1 541.34 L856.33 542.31 L857.56 543.16 L858.8 544.03 L860.03 545.02 L861.26 546.26 L862.49 547.9 L863.72 549.89 L864.95 552.03 L866.18 554.12 L867.41 555.98 L868.64 557.4 L869.87 558.48 L871.1 559.54 L872.33 560.58 L873.56 561.6 L874.79 562.6 L876.03 563.57 L877.26 564.54 L878.49 565.5 L879.72 566.47 L880.95 567.43 L882.18 568.39 L883.41 569.34 L884.64 570.3 L885.87 571.25 L887.1 572.2 L888.33 573.13 L889.56 574.02 L890.79 574.88 L892.02 575.72 L893.26 576.55 L894.49 577.37 L895.72 578.2 L896.95 579.04 L898.18 579.91 L899.41 580.8 L900.64 581.76 L901.87 582.81 L903.1 583.95 L904.33 585.16 L905.56 586.44 L906.79 587.75 L908.02 589.09 L909.25 590.44 L910.49 591.78 L911.72 593.18 L912.95 594.65 L914.18 596.18 L915.41 597.79 L916.64 599.46 L917.87 601.21 L919.1 603.05 L920.33 605.37 L921.56 608.05 L922.79 610.8 L924.02 613.34 L925.25 615.38 L926.49 617.14 L927.72 618.83 L928.95 620.43 L930.18 621.98 L931.41 623.48 L932.64 624.95 L933.87 626.39 L935.1 627.71 L936.33 628.9 L937.56 629.99 L938.79 631.06 L940.02 632.16 L941.25 633.34 L942.48 634.67 L943.72 636.2 L944.95 638.24 L946.18 640.81 L947.41 643.55 L948.64 646.05 L949.87 648.27 L951.1 650.28 L952.33 651.64 L953.56 652.3 L954.79 652.73 L956.02 652.95 L957.25 653 L958.48 652.9 L959.71 652.66 L960.95 652.32 L962.18 651.9 L963.41 651.42 L964.64 650.9 L965.87 650.38 L967.1 649.84 L968.33 649.29 L969.56 648.72 L970.79 648.13 L972.02 647.52 L973.25 646.89 L974.48 646.23 L975.71 645.55 L976.95 644.83 L978.18 644.08 L979.41 643.27 L980.64 642.41 L981.87 641.47 L983.1 640.47 L984.33 639.4 L985.56 638.24 L986.79 637 L988.02 635.66 L989.25 634.11 L990.48 632.3 L991.71 630.23 L992.94 627.88 L994.18 625.24 L995.41 622.37 L996.64 619.45 L997.87 616.48 L999.1 613.47 L1000.33 610.42 L1001.56 607.35 L1002.79 604.25 L1004.02 601.14 L1005.25 598 L1006.48 594.82 L1007.71 591.59 L1008.94 588.16 L1010.17 584.43 L1011.41 580.54 L1012.64 576.63 L1013.87 572.85 L1015.1 569.42 L1016.33 566.72 L1017.56 564.08 L1018.79 560.71 L1020.02 556.41 L1021.25 552 L1022.48 547.54 L1023.71 543.05 L1024.94 538.54 L1026.17 534.03 L1027.41 529.51 L1028.64 524.99 L1029.87 520.48 L1031.1 516.1 L1032.33 511.93 L1033.56 507.85 L1034.79 503.76 L1036.02 499.53 L1037.25 495.05 L1038.48 490.08 L1039.71 484.66 L1040.94 478.96 L1042.17 473.17 L1043.4 466.98 L1044.64 460.59 L1045.87 454.6 L1047.1 449.36 L1048.33 444.54 L1049.56 439.83 L1050.79 434.89 L1052.02 429.57 L1053.25 424.07 L1054.48 418.42 L1055.71 412.56 L1056.94 406.13 L1058.17 398.91 L1059.4 390.13 L1060.63 381.9 L1061.87 374.18 L1063.1 366.92 L1064.33 360.31 L1065.56 354.32 L1066.79 348.84 L1068.02 343.78 L1069.25 339.07 L1070.48 334.87 L1071.71 331.02 L1072.94 327.2 L1074.17 323.09 L1075.4 318.37 L1076.63 313.05 L1077.86 307.45 L1079.1 301.89 L1080.33 296.64 L1081.56 291.53 L1082.79 286.72 L1084.02 282.58 L1085.25 279.46 L1086.48 277.38 L1087.71 276.01 L1088.94 275.04 L1090.17 274.17 L1091.4 273.32 L1092.63 272.52 L1093.86 271.79 L1095.1 271.08 L1096.33 270.44 L1097.56 269.92 L1098.79 269.47 L1100.02 269.11 L1101.25 269 L1102.48 269.25 L1103.71 269.95 L1104.94 270.84 L1106.17 271.72 L1107.4 272.6 L1108.63 273.48 L1109.86 274.15 L1111.09 274.41 L1112.33 274.29 L1113.56 273.51 L1114.79 272.43 L1116.02 271.28 L1117.25 270.18 L1118.48 268.62 L1119.71 266.78 L1120.94 264.84 L1122.17 262.84 L1123.4 260.81 L1124.63 258.78 L1125.86 256.77 L1127.09 254.75 L1128.32 252.73 L1129.56 250.72 L1130.79 248.72 L1132.02 246.72 L1133.25 244.73 L1134.48 242.74" stroke="#9467bd" stroke-width="2.08" stroke-linecap="square"/>
<path d="M124.05 448.73 L125.28 448.27 L126.51 448.02 L127.74 448.1 L128.97 448.61 L130.2 449.65 L131.43 451.35 L132.66 453.8 L133.9 456.8 L135.13 459.98 L136.36 463.31 L137.59 466.8 L138.82 470.43 L140.05 474.15 L141.28 477.89 L142.51 481.58 L143.74 485.18 L144.97 488.74 L146.2 492.18 L147.43 495.4 L148.66 498.26 L149.89 500.66 L151.13 502.57 L152.36 504.22 L153.59 505.67 L154.82 506.99 L156.05 508.24 L157.28 509.49 L158.51 510.79 L159.74 512.21 L160.97 513.8 L162.2 515.45 L163.43 517.1 L164.66 518.76 L165.89 520.45 L167.12 522.19 L168.36 524 L169.59 525.89 L170.82 527.85 L172.05 529.88 L173.28 531.98 L174.51 534.19 L175.74 536.51 L176.97 538.94 L178.2 541.4 L179.43 543.87 L180.66 546.33 L181.89 548.79 L183.12 551.25 L184.36 553.71 L185.59 556.17 L186.82 558.63 L188.05 561.1 L189.28 563.46 L190.51 565.06 L191.74 565.94 L192.97 566.31 L194.2 566.39 L195.43 566.41 L196.66 566.36 L197.89 565.91 L199.12 564.73 L200.35 562.47 L201.59 558.99 L202.82 555.3 L204.05 551.61 L205.28 547.92 L206.51 544.22 L207.74 540.53 L208.97 536.84 L210.2 533.15 L211.43 529.45 L212.66 526.49 L213.89 524.84 L215.12 524.04 L216.35 523.59 L217.58 523.03 L218.82 521.9 L220.05 520.54 L221.28 519.18 L222.51 517.81 L223.74 516.43 L224.97 515.02 L226.2 513.53 L227.43 511.84 L228.66 510.03 L229.89 508.2 L231.12 506.45 L232.35 504.91 L233.58 503.6 L234.81 502.4 L236.05 501.3 L237.28 500.26 L238.51 499.27 L239.74 498.28 L240.97 497.31 L242.2 496.45 L243.43 495.68 L244.66 494.91 L245.89 494.08 L247.12 492.93 L248.35 491.23 L249.58 489.04 L250.81 486.42 L252.05 483 L253.28 477.96 L254.51 471.21 L255.74 462.88 L256.97 453.92 L258.2 444.43 L259.43 434.67 L260.66 424.75 L261.89 414.1 L263.12 402.96 L264.35 394.72 L265.58 388.25 L266.81 380.23 L268.04 371.96 L269.28 365.03 L270.51 360.02 L271.74 356.26 L272.97 353.48 L274.2 351.82 L275.43 351.44 L276.66 352.16 L277.89 353.6 L279.12 356.02 L280.35 359.41 L281.58 363.01 L282.81 366.63 L284.04 370.12 L285.27 373.48 L286.51 376.76 L287.74 379.92 L288.97 382.92 L290.2 385.45 L291.43 387.26 L292.66 388.47 L293.89 389.18 L295.12 389.52 L296.35 389.59 L297.58 389.32 L298.81 388.64 L300.04 387.56 L301.27 386.07 L302.51 384.12 L303.74 381.41 L304.97 378.35 L306.2 375.5 L307.43 373.34 L308.66 371.77 L309.89 370.63 L311.12 369.9 L312.35 369.54 L313.58 369.78 L314.81 370.71 L316.04 372.3 L317.27 374.6 L318.5 378.24 L319.74 382.75 L320.97 387.13 L322.2 390.43 L323.43 393 L324.66 395.19 L325.89 396.79 L327.12 397.61 L328.35 397.47 L329.58 396.79 L330.81 395.79 L332.04 394.51 L333.27 392.99 L334.5 391.22 L335.73 388.91 L336.97 386.38 L338.2 384.07 L339.43 382.42 L340.66 381.67 L341.89 381.06 L343.12 380.44 L344.35 379.82 L345.58 379.21 L346.81 378.59 L348.04 377.98 L349.27 377.41 L350.5 376.88 L351.73 376.36 L352.97 375.81 L354.2 375.17 L355.43 374.41 L356.66 373.47 L357.89 372.33 L359.12 371.06 L360.35 369.73 L361.58 368.43 L362.81 367.19 L364.04 365.96 L365.27 364.73 L366.5 363.5 L367.73 362.27 L368.96 361.03 L370.2 359.8 L371.43 358.43 L372.66 356.9 L373.89 355.27 L375.12 353.62 L376.35 352 L377.58 350.48 L378.81 349.11 L380.04 347.85 L381.27 346.74 L382.5 345.86 L383.73 345.24 L384.96 344.95 L386.19 345.05 L387.43 345.58 L388.66 346.57 L389.89 347.75 L391.12 349.03 L392.35 350.33 L393.58 351.59 L394.81 352.79 L396.04 354.03 L397.27 355.27 L398.5 356.46 L399.73 357.53 L400.96 358.42 L402.19 359.07 L403.42 358.79 L404.66 357.51 L405.89 355.6 L407.12 353.46 L408.35 351.45 L409.58 349.42 L410.81 347.31 L412.04 345.2 L413.27 343.15 L414.5 341.27 L415.73 339.76 L416.96 338.55 L418.19 337.45 L419.42 336.3 L420.66 334.94 L421.89 333.19 L423.12 330.82 L424.35 327.77 L425.58 324.17 L426.81 320.16 L428.04 315.86 L429.27 311.07 L430.5 305.93 L431.73 300.99 L432.96 296.41 L434.19 292.05 L435.42 288.84 L436.65 287.34 L437.89 286.11 L439.12 284.88 L440.35 283.65 L441.58 282.42 L442.81 281.19 L444.04 279.96 L445.27 278.73 L446.5 277.5 L447.73 276.27 L448.96 275.04 L450.19 273.81 L451.42 272.58 L452.65 271.35 L453.88 270.11 L455.12 268.88 L456.35 267.65 L457.58 266.42 L458.81 265.16 L460.04 263.87 L461.27 262.71 L462.5 261.88 L463.73 261.58 L464.96 261.82 L466.19 262.3 L467.42 262.91 L468.65 263.57 L469.88 264.2 L471.12 264.99 L472.35 265.85 L473.58 266.59 L474.81 267.04 L476.04 267.04 L477.27 266.69 L478.5 266.12 L479.73 265.44 L480.96 264.76 L482.19 264.17 L483.42 263.55 L484.65 262.91 L485.88 262.3 L487.11 261.76 L488.35 261.66 L489.58 262.11 L490.81 263.07 L492.04 264.55 L493.27 266.47 L494.5 268.61 L495.73 270.8 L496.96 272.82 L498.19 274.52 L499.42 276.14 L500.65 278.08 L501.88 280.29 L503.11 282.64 L504.34 285.01 L505.58 287.27 L506.81 289.3 L508.04 291.11 L509.27 292.83 L510.5 294.59 L511.73 296.53 L512.96 298.85 L514.19 301.56 L515.42 304.44 L516.65 307.27 L517.88 309.79 L519.11 311.96 L520.34 313.98 L521.58 315.92 L522.81 317.82 L524.04 319.74 L525.27 321.75 L526.5 323.91 L527.73 326.42 L528.96 329.13 L530.19 331.85 L531.42 334.38 L532.65 336.5 L533.88 338.11 L535.11 339.39 L536.34 340.44 L537.57 341.36 L538.81 342.24 L540.04 343.17 L541.27 344.25 L542.5 345.54 L543.73 346.87 L544.96 348.23 L546.19 349.66 L547.42 351.22 L548.65 352.92 L549.88 354.74 L551.11 356.65 L552.34 358.62 L553.57 360.63 L554.8 362.68 L556.04 364.75 L557.27 366.9 L558.5 369.13 L559.73 371.47 L560.96 374 L562.19 376.84 L563.42 379.91 L564.65 383.09 L565.88 386.44 L567.11 390.17 L568.34 394.08 L569.57 397.93 L570.8 401.48 L572.03 404.65 L573.27 407.58 L574.5 410.25 L575.73 412.6 L576.96 414.59 L578.19 416.19 L579.42 417.36 L580.65 418.37 L581.88 419.3 L583.11 420.15 L584.34 420.94 L585.57 421.68 L586.8 422.37 L588.03 423.02 L589.27 423.65 L590.5 424.27 L591.73 424.88 L592.96 425.47 L594.19 426.04 L595.42 426.59 L596.65 427.12 L597.88 427.61 L599.11 428.07 L600.34 428.5 L601.57 428.88 L602.8 429.13 L604.03 429.01 L605.26 428.58 L606.5 427.97 L607.73 427.26 L608.96 426.56 L610.19 425.98 L611.42 425.61 L612.65 425.56 L613.88 425.94 L615.11 426.62 L616.34 427.34 L617.57 428.09 L618.8 428.84 L620.03 429.6 L621.26 430.36 L622.49 431.11 L623.73 431.84 L624.96 432.53 L626.19 433.16 L627.42 433.77 L628.65 434.38 L629.88 435.02 L631.11 435.73 L632.34 436.53 L633.57 437.49 L634.8 438.92 L636.03 440.67 L637.26 442.55 L638.49 444.34 L639.73 445.91 L640.96 447.44 L642.19 448.93 L643.42 450.36 L644.65 451.63 L645.88 452.49 L647.11 453.12 L648.34 453.74 L649.57 454.6 L650.8 455.85 L652.03 457.27 L653.26 458.78 L654.49 460.29 L655.72 461.71 L656.96 463 L658.19 464.25 L659.42 465.42 L660.65 466.46 L661.88 467.33 L663.11 467.95 L664.34 468.33 L665.57 468.52 L666.8 468.61 L668.03 468.65 L669.26 468.73 L670.49 468.92 L671.72 469.29 L672.95 469.86 L674.19 470.57 L675.42 471.34 L676.65 472.14 L677.88 472.9 L679.11 473.58 L680.34 474.14 L681.57 474.64 L682.8 475.04 L684.03 475.26 L685.26 475.2 L686.49 474.81 L687.72 474.32 L688.95 473.8 L690.19 473.25 L691.42 472.68 L692.65 472.1 L693.88 471.52 L695.11 470.95 L696.34 470.35 L697.57 469.7 L698.8 469.04 L700.03 468.39 L701.26 467.77 L702.49 467.21 L703.72 466.93 L704.95 467.6 L706.18 468.94 L707.42 470.55 L708.65 472.02 L709.88 472.95 L711.11 473.33 L712.34 473.58 L713.57 473.75 L714.8 473.9 L716.03 474.09 L717.26 474.37 L718.49 474.77 L719.72 475.16 L720.95 475.61 L722.18 476.24 L723.41 477.17 L724.65 478.52 L725.88 480.33 L727.11 482.44 L728.34 484.74 L729.57 487.15 L730.8 489.57 L732.03 491.97 L733.26 494.39 L734.49 496.86 L735.72 499.41 L736.95 502.06 L738.18 504.75 L739.41 507.46 L740.64 510.19 L741.88 513.01 L743.11 515.84 L744.34 518.59 L745.57 521.05 L746.8 522.55 L748.03 523.25 L749.26 523.49 L750.49 523.61 L751.72 523.85 L752.95 523.89 L754.18 523.74 L755.41 523.57 L756.64 523.53 L757.88 523.79 L759.11 524.51 L760.34 525.57 L761.57 526.88 L762.8 528.36 L764.03 529.95 L765.26 531.61 L766.49 533.48 L767.72 535.54 L768.95 537.63 L770.18 539.61 L771.41 541.33 L772.64 542.63 L773.87 543.69 L775.11 544.68 L776.34 545.62 L777.57 546.53 L778.8 547.4 L780.03 548.26 L781.26 549.12 L782.49 549.99 L783.72 550.87 L784.95 551.74 L786.18 552.58 L787.41 553.41 L788.64 554.2 L789.87 554.96 L791.1 555.67 L792.34 556.16 L793.57 556.17 L794.8 555.7 L796.03 554.79 L797.26 553.44 L798.49 551.67 L799.72 549.63 L800.95 547.58 L802.18 545.53 L803.41 543.48 L804.64 541.43 L805.87 539.38 L807.1 537.32 L808.34 535.27 L809.57 533.22 L810.8 531.17 L812.03 529.12 L813.26 527.07 L814.49 525.14 L815.72 523.76 L816.95 522.83 L818.18 522.2 L819.41 521.7 L820.64 521.18 L821.87 520.48 L823.1 519.48 L824.33 518.38 L825.57 517.26 L826.8 516.18 L828.03 515.2 L829.26 514.4 L830.49 513.74 L831.72 513.22 L832.95 512.96 L834.18 512.91 L835.41 513.12 L836.64 513.57 L837.87 514.33 L839.1 515.52 L840.33 517.21 L841.56 519.32 L842.8 521.73 L844.03 524.31 L845.26 526.91 L846.49 529.4 L847.72 531.62 L848.95 533.62 L850.18 535.46 L851.41 537.14 L852.64 538.7 L853.87 540.14 L855.1 541.34 L856.33 542.31 L857.56 543.16 L858.8 544.03 L860.03 545.02 L861.26 546.26 L862.49 547.9 L863.72 549.89 L864.95 552.03 L866.18 554.12 L867.41 555.98 L868.64 557.4 L869.87 558.48 L871.1 559.54 L872.33 560.58 L873.56 561.6 L874.79 562.6 L876.03 563.57 L877.26 564.54 L878.49 565.5 L879.72 566.47 L880.95 567.43 L882.18 568.39 L883.41 569.34 L884.64 570.3 L885.87 571.25 L887.1 572.2 L888.33 573.13 L889.56 574.02 L890.79 574.88 L892.02 575.72 L893.26 576.55 L894.49 577.37 L895.72 578.2 L896.95 579.04 L898.18 579.91 L899.41 580.8 L900.64 581.76 L901.87 582.81 L903.1 583.95 L904.33 585.16 L905.56 586.44 L906.79 587.75 L908.02 589.09 L909.25 590.44 L910.49 591.78 L911.72 593.18 L912.95 594.65 L914.18 596.18 L915.41 597.79 L916.64 599.46 L917.87 601.21 L919.1 603.05 L920.33 605.37 L921.56 608.05 L922.79 610.8 L924.02 613.34 L925.25 615.38 L926.49 617.14 L927.72 618.83 L928.95 620.43 L930.18 621.98 L931.41 623.48 L932.64 624.95 L933.87 626.39 L935.1 627.71 L936.33 628.9 L937.56 629.99 L938.79 631.06 L940.02 632.16 L941.25 633.34 L942.48 634.67 L943.72 636.2 L944.95 638.24 L946.18 640.81 L947.41 643.55 L948.64 646.05 L949.87 648.27 L951.1 650.28 L952.33 651.64 L953.56 652.3 L954.79 652.73 L956.02 652.95 L957.25 653 L958.48 652.9 L959.71 652.66 L960.95 652.32 L962.18 651.9 L963.41 651.42 L964.64 650.9 L965.87 650.38 L967.1 649.84 L968.33 649.29 L969.56 648.72 L970.79 648.13 L972.02 647.52 L973.25 646.89 L974.48 646.23 L975.71 645.55 L976.95 644.83 L978.18 644.08 L979.41 643.27 L980.64 642.41 L981.87 641.47 L983.1 640.47 L984.33 639.4 L985.56 638.24 L986.79 637 L988.02 635.66 L989.25 634.11 L990.48 632.3 L991.71 630.23 L992.94 627.88 L994.18 625.24 L995.41 622.37 L996.64 619.45 L997.87 616.48 L999.1 613.47 L1000.33 610.42 L1001.56 607.35 L1002.79 604.25 L1004.02 601.14 L1005.25 598 L1006.48 594.82 L1007.71 591.59 L1008.94 588.16 L1010.17 584.43 L1011.41 580.54 L1012.64 576.63 L1013.87 572.85 L1015.1 569.42 L1016.33 566.72 L1017.56 564.08 L1018.79 560.71 L1020.02 556.41 L1021.25 552 L1022.48 547.54 L1023.71 543.05 L1024.94 538.54 L1026.17 534.03 L1027.41 529.51 L1028.64 524.99 L1029.87 520.48 L1031.1 516.1 L1032.33 511.93 L1033.56 507.85 L1034.79 503.76 L1036.02 499.53 L1037.25 495.05 L1038.48 490.08 L1039.71 484.66 L1040.94 478.96 L1042.17 473.17 L1043.4 466.98 L1044.64 460.59 L1045.87 454.6 L1047.1 449.36 L1048.33 444.54 L1049.56 439.83 L1050.79 434.89 L1052.02 429.57 L1053.25 424.07 L1054.48 418.42 L1055.71 412.56 L1056.94 406.13 L1058.17 398.91 L1059.4 390.13 L1060.63 381.9 L1061.87 374.18 L1063.1 366.92 L1064.33 360.31 L1065.56 354.32 L1066.79 348.84 L1068.02 343.78 L1069.25 339.07 L1070.48 334.87 L1071.71 331.02 L1072.94 327.2 L1074.17 323.09 L1075.4 318.37 L1076.63 313.05 L1077.86 307.45 L1079.1 301.89 L1080.33 296.64 L1081.56 291.53 L1082.79 286.72 L1084.02 282.58 L1085.25 279.46 L1086.48 277.38 L1087.71 276.01 L1088.94 275.04 L1090.17 274.17 L1091.4 273.32 L1092.63 272.52 L1093.86 271.79 L1095.1 271.08 L1096.33 270.44 L1097.56 269.92 L1098.79 269.47 L1100.02 269.11 L1101.25 269 L1102.48 269.25 L1103.71 269.95 L1104.94 270.84 L1106.17 271.72 L1107.4 272.6 L1108.63 273.48 L1109.86 274.15 L1111.09 274.41 L1112.33 274.29 L1113.56 273.51 L1114.79 272.43 L1116.02 271.28 L1117.25 270.18 L1118.48 268.62 L1119.71 266.78 L1120.94 264.84 L1122.17 262.84 L1123.4 260.81 L1124.63 258.78 L1125.86 256.77 L1127.09 254.75 L1128.32 252.73 L1129.56 250.72 L1130.79 248.72 L1132.02 246.72 L1133.25 244.73 L1134.48 242.74" stroke="#8c564b" stroke-width="2.78" stroke-dasharray="10.28 4.44"/>
<path d="M124.05 497.51 L125.28 497.61 L126.51 497.45 L127.74 497.09 L128.97 496.58 L130.2 495.84 L131.43 494.82 L132.66 493.44 L133.9 491.64 L135.13 489.41 L136.36 486.82 L137.59 483.99 L138.82 480.86 L140.05 477.3 L141.28 473.81 L142.51 470.84 L143.74 468.26 L144.97 466 L146.2 464.07 L147.43 462.47 L148.66 461.08 L149.89 459.9 L151.13 458.97 L152.36 458.35 L153.59 457.9 L154.82 457.54 L156.05 457.22 L157.28 456.9 L158.51 456.55 L159.74 456.11 L160.97 455.58 L162.2 455.02 L163.43 454.4 L164.66 453.69 L165.89 452.87 L167.12 451.89 L168.36 450.63 L169.59 449.08 L170.82 447.32 L172.05 445.45 L173.28 443.59 L174.51 441.87 L175.74 440.04 L176.97 437.68 L178.2 434.39 L179.43 430.7 L180.66 427.01 L181.89 423.32 L183.12 419.62 L184.36 415.93 L185.59 412.24 L186.82 408.79 L188.05 406.21 L189.28 404.14 L190.51 402.21 L191.74 400.52 L192.97 399.25 L194.2 398.52 L195.43 398.24 L196.66 398.37 L197.89 398.93 L199.12 399.77 L200.35 400.67 L201.59 401.66 L202.82 402.81 L204.05 404.09 L205.28 405.4 L206.51 406.7 L207.74 407.98 L208.97 409.24 L210.2 410.49 L211.43 411.74 L212.66 412.97 L213.89 414.18 L215.12 415.37 L216.35 416.5 L217.58 417.57 L218.82 418.57 L220.05 419.53 L221.28 420.45 L222.51 421.35 L223.74 422.24 L224.97 423.12 L226.2 423.96 L227.43 424.76 L228.66 425.51 L229.89 426.21 L231.12 426.86 L232.35 427.44 L233.58 427.94 L234.81 428.37 L236.05 428.73 L237.28 429.07 L238.51 429.37 L239.74 429.68 L240.97 429.99 L242.2 430.26 L243.43 430.44 L244.66 430.55 L245.89 430.64 L247.12 430.74 L248.35 430.89 L249.58 431.19 L250.81 432.28 L252.05 434.77 L253.28 439.2 L254.51 445.98 L255.74 454.19 L256.97 463.14 L258.2 472.5 L259.43 480.67 L260.66 487.78 L261.89 494.34 L263.12 500.62 L264.35 506.65 L265.58 512.31 L266.81 517.51 L268.04 522.16 L269.28 526.02 L270.51 528.94 L271.74 530.89 L272.97 531.9 L274.2 531.95 L275.43 531.57 L276.66 531.03 L277.89 530.31 L279.12 529.39 L280.35 528.25 L281.58 526.88 L282.81 525.27 L284.04 523.48 L285.27 521.69 L286.51 519.84 L287.74 517.9 L288.97 515.85 L290.2 513.63 L291.43 511.24 L292.66 508.73 L293.89 506.18 L295.12 503.65 L296.35 501.22 L297.58 498.94 L298.81 496.8 L300.04 494.77 L301.27 492.86 L302.51 491.05 L303.74 489.35 L304.97 487.87 L306.2 486.77 L307.43 485.89 L308.66 485.06 L309.89 484.1 L311.12 482.86 L312.35 481.37 L313.58 479.66 L314.81 477.64 L316.04 475.22 L317.27 472.3 L318.5 468.78 L319.74 464.92 L320.97 461.03 L322.2 457.45 L323.43 454.1 L324.66 450.86 L325.89 447.78 L327.12 444.9 L328.35 442.3 L329.58 440.3 L330.81 438.96 L332.04 438.21 L333.27 437.99 L334.5 438.18 L335.73 438.62 L336.97 439.16 L338.2 439.65 L339.43 439.96 L340.66 439.94 L341.89 439.6 L343.12 439.04 L344.35 438.41 L345.58 437.84 L346.81 437.44 L348.04 437.36 L349.27 437.73 L350.5 438.6 L351.73 439.84 L352.97 441.22 L354.2 442.56 L355.43 443.64 L356.66 444.35 L357.89 444.97 L359.12 445.57 L360.35 446.16 L361.58 446.75 L362.81 447.35 L364.04 447.96 L365.27 448.6 L366.5 449.28 L367.73 449.99 L368.96 450.73 L370.2 451.49 L371.43 452.25 L372.66 453.01 L373.89 453.76 L375.12 454.49 L376.35 455.19 L377.58 455.72 L378.81 456.07 L380.04 456.28 L381.27 456.38 L382.5 456.38 L383.73 456.07 L384.96 455.38 L386.19 454.31 L387.43 452.83 L388.66 450.93 L389.89 448.61 L391.12 446.02 L392.35 443.34 L393.58 440.72 L394.81 438.34 L396.04 436.14 L397.27 433.94 L398.5 431.88 L399.73 430.09 L400.96 428.72 L402.19 427.92 L403.42 427.73 L404.66 428 L405.89 428.5 L407.12 429.05 L408.35 429.81 L409.58 430.77 L410.81 431.6 L412.04 432 L413.27 431.66 L414.5 430.68 L415.73 429.37 L416.96 428.04 L418.19 426.19 L419.42 423.68 L420.66 421.49 L421.89 420.58 L423.12 421.58 L424.35 423.85 L425.58 426.52 L426.81 428.75 L428.04 430.35 L429.27 432 L430.5 433.55 L431.73 434.8 L432.96 435.59 L434.19 435.98 L435.42 436.23 L436.65 436.39 L437.89 436.5 L439.12 436.6 L440.35 436.72 L441.58 436.91 L442.81 437.17 L444.04 437.38 L445.27 437.6 L446.5 437.86 L447.73 438.22 L448.96 438.72 L450.19 439.42 L451.42 440.4 L452.65 442.23 L453.88 444.71 L455.12 447.4 L456.35 449.9 L457.58 451.88 L458.81 453.75 L460.04 455.6 L461.27 457.39 L462.5 459.09 L463.73 460.67 L464.96 462.13 L466.19 463.52 L467.42 464.83 L468.65 466.06 L469.88 467.21 L471.12 468.28 L472.35 469.27 L473.58 470.17 L474.81 471 L476.04 471.77 L477.27 472.51 L478.5 473.22 L479.73 473.9 L480.96 474.52 L482.19 475.04 L483.42 475.47 L484.65 475.79 L485.88 475.99 L487.11 475.83 L488.35 475.13 L489.58 474.09 L490.81 472.94 L492.04 471.9 L493.27 471.18 L494.5 470.98 L495.73 471.14 L496.96 471.49 L498.19 471.92 L499.42 472.3 L500.65 472.51 L501.88 472.43 L503.11 472.11 L504.34 471.78 L505.58 471.42 L506.81 471.04 L508.04 470.63 L509.27 470.17 L510.5 469.68 L511.73 469.13 L512.96 468.53 L514.19 467.92 L515.42 467.3 L516.65 466.67 L517.88 466.04 L519.11 465.42 L520.34 464.8 L521.58 464.2 L522.81 463.62 L524.04 463.06 L525.27 462.51 L526.5 461.98 L527.73 461.46 L528.96 460.95 L530.19 460.45 L531.42 459.97 L532.65 459.5 L533.88 459.04 L535.11 458.68 L536.34 458.51 L537.57 458.46 L538.81 458.49 L540.04 458.52 L541.27 458.51 L542.5 458.38 L543.73 458.09 L544.96 457.6 L546.19 456.98 L547.42 456.27 L548.65 455.52 L549.88 454.76 L551.11 454.06 L552.34 453.45 L553.57 453.18 L554.8 453.15 L556.04 453.15 L557.27 452.99 L558.5 452.45 L559.73 451.34 L560.96 449.72 L562.19 448.08 L563.42 446.44 L564.65 444.8 L565.88 443.16 L567.11 441.52 L568.34 439.88 L569.57 438.23 L570.8 436.59 L572.03 434.95 L573.27 433.43 L574.5 432.16 L575.73 431.15 L576.96 430.42 L578.19 430.01 L579.42 429.92 L580.65 430.16 L581.88 430.56 L583.11 431.09 L584.34 431.72 L585.57 432.43 L586.8 433.21 L588.03 434.02 L589.27 434.91 L590.5 435.87 L591.73 436.87 L592.96 437.86 L594.19 438.8 L595.42 439.64 L596.65 440.33 L597.88 440.72 L599.11 440.9 L600.34 441 L601.57 441.14 L602.8 441.44 L604.03 442.02 L605.26 442.84 L606.5 443.77 L607.73 444.77 L608.96 445.77 L610.19 446.74 L611.42 447.63 L612.65 448.4 L613.88 449.14 L615.11 449.87 L616.34 450.59 L617.57 451.28 L618.8 451.96 L620.03 452.62 L621.26 453.26 L622.49 453.88 L623.73 454.47 L624.96 455.03 L626.19 455.54 L627.42 456 L628.65 456.41 L629.88 456.77 L631.11 457.08 L632.34 457.33 L633.57 457.54 L634.8 457.66 L636.03 457.58 L637.26 457.37 L638.49 457.07 L639.73 456.76 L640.96 456.48 L642.19 456.32 L643.42 456.32 L644.65 456.53 L645.88 456.83 L647.11 457.17 L648.34 457.53 L649.57 457.89 L650.8 458.23 L652.03 458.51 L653.26 458.73 L654.49 458.91 L655.72 459.07 L656.96 459.21 L658.19 459.36 L659.42 459.53 L660.65 459.73 L661.88 459.97 L663.11 460.33 L664.34 460.83 L665.57 461.45 L666.8 462.13 L668.03 462.82 L669.26 463.48 L670.49 464.06 L671.72 464.52 L672.95 464.83 L674.19 465.04 L675.42 465.18 L676.65 465.28 L677.88 465.36 L679.11 465.44 L680.34 465.55 L681.57 465.72 L682.8 465.93 L684.03 466.08 L685.26 466.29 L686.49 466.67 L687.72 467.35 L688.95 468.45 L690.19 469.88 L691.42 471.42 L692.65 473 L693.88 474.59 L695.11 476.13 L696.34 477.64 L697.57 479.15 L698.8 480.62 L700.03 482.04 L701.26 483.15 L702.49 483.83 L703.72 484.19 L704.95 484.34 L706.18 484.41 L707.42 484.45 L708.65 484.44 L709.88 484.4 L711.11 484.32 L712.34 484.2 L713.57 484.04 L714.8 483.84 L716.03 483.59 L717.26 483.29 L718.49 482.91 L719.72 482.47 L720.95 481.98 L722.18 481.45 L723.41 480.88 L724.65 480.27 L725.88 479.5 L727.11 478.5 L728.34 477.23 L729.57 475.64 L730.8 473.57 L732.03 470.8 L733.26 467.77 L734.49 464.98 L735.72 462.73 L736.95 460.65 L738.18 458.68 L739.41 456.83 L740.64 455.12 L741.88 453.55 L743.11 452.13 L744.34 450.89 L745.57 449.85 L746.8 449.03 L748.03 448.61 L749.26 448.62 L750.49 449 L751.72 449.75 L752.95 450.74 L754.18 451.7 L755.41 452.42 L756.64 453.12 L757.88 453.73 L759.11 454 L760.34 453.69 L761.57 452.66 L762.8 451.42 L764.03 450.12 L765.26 448.81 L766.49 447.52 L767.72 446.26 L768.95 444.98 L770.18 443.71 L771.41 442.47 L772.64 441.32 L773.87 440.33 L775.11 439.77 L776.34 439.63 L777.57 439.74 L778.8 439.93 L780.03 440.06 L781.26 439.96 L782.49 439.68 L783.72 439.32 L784.95 438.92 L786.18 438.51 L787.41 438.11 L788.64 437.77 L789.87 437.52 L791.1 437.56 L792.34 438.23 L793.57 439.67 L794.8 442.02 L796.03 445.16 L797.26 448.61 L798.49 452.21 L799.72 455.79 L800.95 459.21 L802.18 462.45 L803.41 465.73 L804.64 468.99 L805.87 472.15 L807.1 475.14 L808.34 477.89 L809.57 480.35 L810.8 482.58 L812.03 484.63 L813.26 486.53 L814.49 488.33 L815.72 490.05 L816.95 491.74 L818.18 493.43 L819.41 495.09 L820.64 496.72 L821.87 498.31 L823.1 499.87 L824.33 501.41 L825.57 502.92 L826.8 504.4 L828.03 505.8 L829.26 507.07 L830.49 508.17 L831.72 509.07 L832.95 509.72 L834.18 510.09 L835.41 510.12 L836.64 509.81 L837.87 509.21 L839.1 508.35 L840.33 507.28 L841.56 506.04 L842.8 504.66 L844.03 503.16 L845.26 501.58 L846.49 499.96 L847.72 498.32 L848.95 496.71 L850.18 495.15 L851.41 493.69 L852.64 492.35 L853.87 491.08 L855.1 489.82 L856.33 488.57 L857.56 487.33 L858.8 486.11 L860.03 484.9 L861.26 483.7 L862.49 482.51 L863.72 481.32 L864.95 480.13 L866.18 478.94 L867.41 477.79 L868.64 476.69 L869.87 475.65 L871.1 474.7 L872.33 473.86 L873.56 473.13 L874.79 472.51 L876.03 471.99 L877.26 471.53 L878.49 471.13 L879.72 470.77 L880.95 470.43 L882.18 470.09 L883.41 469.74 L884.64 469.4 L885.87 469.07 L887.1 468.74 L888.33 468.43 L889.56 468.13 L890.79 467.86 L892.02 467.59 L893.26 467.37 L894.49 467.21 L895.72 467.11 L896.95 467.06 L898.18 467.04 L899.41 467.03 L900.64 467.02 L901.87 467 L903.1 466.94 L904.33 466.83 L905.56 466.67 L906.79 466.46 L908.02 466.21 L909.25 465.9 L910.49 465.54 L911.72 465.11 L912.95 464.61 L914.18 464.03 L915.41 463.36 L916.64 462.59 L917.87 461.72 L919.1 460.71 L920.33 459.56 L921.56 458.33 L922.79 457.05 L924.02 455.77 L925.25 454.53 L926.49 453.37 L927.72 452.33 L928.95 451.36 L930.18 450.43 L931.41 449.53 L932.64 448.65 L933.87 447.79 L935.1 446.93 L936.33 446.21 L937.56 445.67 L938.79 445.22 L940.02 444.81 L941.25 444.35 L942.48 443.76 L943.72 442.37 L944.95 439.81 L946.18 436.46 L947.41 430.47 L948.64 421.94 L949.87 415.39 L951.1 412.51 L952.33 410.95 L953.56 410.68 L954.79 411.27 L956.02 412.04 L957.25 413.11 L958.48 414.61 L959.71 416.65 L960.95 419.11 L962.18 421.74 L963.41 424.27 L964.64 426.46 L965.87 428.16 L967.1 429.54 L968.33 430.64 L969.56 431.42 L970.79 431.88 L972.02 431.96 L973.25 431.31 L974.48 430.19 L975.71 429 L976.95 428.11 L978.18 427.93 L979.41 428.42 L980.64 428.99 L981.87 429.61 L983.1 430.29 L984.33 431.03 L985.56 431.84 L986.79 432.71 L988.02 433.61 L989.25 434.52 L990.48 435.44 L991.71 436.37 L992.94 437.33 L994.18 438.32 L995.41 439.35 L996.64 440.52 L997.87 441.8 L999.1 443.12 L1000.33 444.41 L1001.56 445.61 L1002.79 446.61 L1004.02 447.32 L1005.25 447.81 L1006.48 448.18 L1007.71 448.54 L1008.94 448.97 L1010.17 449.58 L1011.41 450.45 L1012.64 451.65 L1013.87 453 L1015.1 454.41 L1016.33 455.86 L1017.56 457.31 L1018.79 458.71 L1020.02 460.02 L1021.25 461.28 L1022.48 462.53 L1023.71 463.77 L1024.94 464.99 L1026.17 466.21 L1027.41 467.42 L1028.64 468.61 L1029.87 469.71 L1031.1 470.74 L1032.33 471.72 L1033.56 472.66 L1034.79 473.49 L1036.02 473.89 L1037.25 473.98 L1038.48 473.92 L1039.71 473.88 L1040.94 474.02 L1042.17 474.49 L1043.4 475.39 L1044.64 476.86 L1045.87 479.1 L1047.1 482.29 L1048.33 486.41 L1049.56 490.94 L1050.79 495.31 L1052.02 499.38 L1053.25 503.48 L1054.48 507.27 L1055.71 510.4 L1056.94 512.72 L1058.17 514.6 L1059.4 516.21 L1060.63 517.66 L1061.87 519.11 L1063.1 520.69 L1064.33 522.52 L1065.56 524.64 L1066.79 526.87 L1068.02 529.06 L1069.25 531 L1070.48 532.54 L1071.71 533.58 L1072.94 534.27 L1074.17 534.78 L1075.4 535.27 L1076.63 535.91 L1077.86 536.87 L1079.1 538.1 L1080.33 539.33 L1081.56 540.56 L1082.79 541.79 L1084.02 543.02 L1085.25 544.25 L1086.48 545.48 L1087.71 546.71 L1088.94 547.94 L1090.17 549.17 L1091.4 550.4 L1092.63 551.63 L1093.86 552.87 L1095.1 553.84 L1096.33 554.31 L1097.56 554.5 L1098.79 554.66 L1100.02 555.02 L1101.25 555.8 L1102.48 556.96 L1103.71 558.35 L1104.94 559.92 L1106.17 561.62 L1107.4 563.46 L1108.63 565.48 L1109.86 567.74 L1111.09 570.39 L1112.33 573.45 L1113.56 576.61 L1114.79 579.54 L1116.02 582.11 L1117.25 584.51 L1118.48 586.68 L1119.71 588.59 L1120.94 590.15 L1122.17 591.3 L1123.4 592.21 L1124.63 593.01 L1125.86 593.88 L1127.09 594.97 L1128.32 596.42 L1129.56 598.07 L1130.79 599.85 L1132.02 601.75 L1133.25 603.81 L1134.48 606.02" stroke="#e377c2" stroke-width="2.08" stroke-linecap="square"/>
<path d="M124.05 497.51 L125.28 497.61 L126.51 497.45 L127.74 497.09 L128.97 496.58 L130.2 495.84 L131.43 494.82 L132.66 493.44 L133.9 491.64 L135.13 489.41 L136.36 486.82 L137.59 483.99 L138.82 480.86 L140.05 477.3 L141.28 473.81 L142.51 470.84 L143.74 468.26 L144.97 466 L146.2 464.07 L147.43 462.47 L148.66 461.08 L149.89 459.9 L151.13 458.97 L152.36 458.35 L153.59 457.9 L154.82 457.54 L156.05 457.22 L157.28 456.9 L158.51 456.55 L159.74 456.11 L160.97 455.58 L162.2 455.02 L163.43 454.4 L164.66 453.69 L165.89 452.87 L167.12 451.89 L168.36 450.63 L169.59 449.08 L170.82 447.32 L172.05 445.45 L173.28 443.59 L174.51 441.87 L175.74 440.04 L176.97 437.68 L178.2 434.39 L179.43 430.7 L180.66 427.01 L181.89 423.32 L183.12 419.62 L184.36 415.93 L185.59 412.24 L186.82 408.79 L188.05 406.21 L189.28 404.14 L190.51 402.21 L191.74 400.52 L192.97 399.25 L194.2 398.52 L195.43 398.24 L196.66 398.37 L197.89 398.93 L199.12 399.77 L200.35 400.67 L201.59 401.66 L202.82 402.81 L204.05 404.09 L205.28 405.4 L206.51 406.7 L207.74 407.98 L208.97 409.24 L210.2 410.49 L211.43 411.74 L212.66 412.97 L213.89 414.18 L215.12 415.37 L216.35 416.5 L217.58 417.57 L218.82 418.57 L220.05 419.53 L221.28 420.45 L222.51 421.35 L223.74 422.24 L224.97 423.12 L226.2 423.96 L227.43 424.76 L228.66 425.51 L229.89 426.21 L231.12 426.86 L232.35 427.44 L233.58 427.94 L234.81 428.37 L236.05 428.73 L237.28 429.07 L238.51 429.37 L239.74 429.68 L240.97 429.99 L242.2 430.26 L243.43 430.44 L244.66 430.55 L245.89 430.64 L247.12 430.74 L248.35 430.89 L249.58 431.19 L250.81 432.28 L252.05 434.77 L253.28 439.2 L254.51 445.98 L255.74 454.19 L256.97 463.14 L258.2 472.5 L259.43 480.67 L260.66 487.78 L261.89 494.34 L263.12 500.62 L264.35 506.65 L265.58 512.31 L266.81 517.51 L268.04 522.16 L269.28 526.02 L270.51 528.94 L271.74 530.89 L272.97 531.9 L274.2 531.95 L275.43 531.57 L276.66 531.03 L277.89 530.31 L279.12 529.39 L280.35 528.25 L281.58 526.88 L282.81 525.27 L284.04 523.48 L285.27 521.69 L286.51 519.84 L287.74 517.9 L288.97 515.85 L290.2 513.63 L291.43 511.24 L292.66 508.73 L293.89 506.18 L295.12 503.65 L296.35 501.22 L297.58 498.94 L298.81 496.8 L300.04 494.77 L301.27 492.86 L302.51 491.05 L303.74 489.35 L304.97 487.87 L306.2 486.77 L307.43 485.89 L308.66 485.06 L309.89 484.1 L311.12 482.86 L312.35 481.37 L313.58 479.66 L314.81 477.64 L316.04 475.22 L317.27 472.3 L318.5 468.78 L319.74 464.92 L320.97 461.03 L322.2 457.45 L323.43 454.1 L324.66 450.86 L325.89 447.78 L327.12 444.9 L328.35 442.3 L329.58 440.3 L330.81 438.96 L332.04 438.21 L333.27 437.99 L334.5 438.18 L335.73 438.62 L336.97 439.16 L338.2 439.65 L339.43 439.96 L340.66 439.94 L341.89 439.6 L343.12 439.04 L344.35 438.41 L345.58 437.84 L346.81 437.44 L348.04 437.36 L349.27 437.73 L350.5 438.6 L351.73 439.84 L352.97 441.22 L354.2 442.56 L355.43 443.64 L356.66 444.35 L357.89 444.97 L359.12 445.57 L360.35 446.16 L361.58 446.75 L362.81 447.35 L364.04 447.96 L365.27 448.6 L366.5 449.28 L367.73 449.99 L368.96 450.73 L370.2 451.49 L371.43 452.25 L372.66 453.01 L373.89 453.76 L375.12 454.49 L376.35 455.19 L377.58 455.72 L378.81 456.07 L380.04 456.28 L381.27 456.38 L382.5 456.38 L383.73 456.07 L384.96 455.38 L386.19 454.31 L387.43 452.83 L388.66 450.93 L389.89 448.61 L391.12 446.02 L392.35 443.34 L393.58 440.72 L394.81 438.34 L396.04 436.14 L397.27 433.94 L398.5 431.88 L399.73 430.09 L400.96 428.72 L402.19 427.92 L403.42 427.73 L404.66 428 L405.89 428.5 L407.12 429.05 L408.35 429.81 L409.58 430.77 L410.81 431.6 L412.04 432 L413.27 431.66 L414.5 430.68 L415.73 429.37 L416.96 428.04 L418.19 426.19 L419.42 423.68 L420.66 421.49 L421.89 420.58 L423.12 421.58 L424.35 423.85 L425.58 426.52 L426.81 428.75 L428.04 430.35 L429.27 432 L430.5 433.55 L431.73 434.8 L432.96 435.59 L434.19 435.98 L435.42 436.23 L436.65 436.39 L437.89 436.5 L439.12 436.6 L440.35 436.72 L441.58 436.91 L442.81 437.17 L444.04 437.38 L445.27 437.6 L446.5 437.86 L447.73 438.22 L448.96 438.72 L450.19 439.42 L451.42 440.4 L452.65 442.23 L453.88 444.71 L455.12 447.4 L456.35 449.9 L457.58 451.88 L458.81 453.75 L460.04 455.6 L461.27 457.39 L462.5 459.09 L463.73 460.67 L464.96 462.13 L466.19 463.52 L467.42 464.83 L468.65 466.06 L469.88 467.21 L471.12 468.28 L472.35 469.27 L473.58 470.17 L474.81 471 L476.04 471.77 L477.27 472.51 L478.5 473.22 L479.73 473.9 L480.96 474.52 L482.19 475.04 L483.42 475.47 L484.65 475.79 L485.88 475.99 L487.11 475.83 L488.35 475.13 L489.58 474.09 L490.81 472.94 L492.04 471.9 L493.27 471.18 L494.5 470.98 L495.73 471.14 L496.96 471.49 L498.19 471.92 L499.42 472.3 L500.65 472.51 L501.88 472.43 L503.11 472.11 L504.34 471.78 L505.58 471.42 L506.81 471.04 L508.04 470.63 L509.27 470.17 L510.5 469.68 L511.73 469.13 L512.96 468.53 L514.19 467.92 L515.42 467.3 L516.65 466.67 L517.88 466.04 L519.11 465.42 L520.34 464.8 L521.58 464.2 L522.81 463.62 L524.04 463.06 L525.27 462.51 L526.5 461.98 L527.73 461.46 L528.96 460.95 L530.19 460.45 L531.42 459.97 L532.65 459.5 L533.88 459.04 L535.11 458.68 L536.34 458.51 L537.57 458.46 L538.81 458.49 L540.04 458.52 L541.27 458.51 L542.5 458.38 L543.73 458.09 L544.96 457.6 L546.19 456.98 L547.42 456.27 L548.65 455.52 L549.88 454.76 L551.11 454.06 L552.34 453.45 L553.57 453.18 L554.8 453.15 L556.04 453.15 L557.27 452.99 L558.5 452.45 L559.73 451.34 L560.96 449.72 L562.19 448.08 L563.42 446.44 L564.65 444.8 L565.88 443.16 L567.11 441.52 L568.34 439.88 L569.57 438.23 L570.8 436.59 L572.03 434.95 L573.27 433.43 L574.5 432.16 L575.73 431.15 L576.96 430.42 L578.19 430.01 L579.42 429.92 L580.65 430.16 L581.88 430.56 L583.11 431.09 L584.34 431.72 L585.57 432.43 L586.8 433.21 L588.03 434.02 L589.27 434.91 L590.5 435.87 L591.73 436.87 L592.96 437.86 L594.19 438.8 L595.42 439.64 L596.65 440.33 L597.88 440.72 L599.11 440.9 L600.34 441 L601.57 441.14 L602.8 441.44 L604.03 442.02 L605.26 442.84 L606.5 443.77 L607.73 444.77 L608.96 445.77 L610.19 446.74 L611.42 447.63 L612.65 448.4 L613.88 449.14 L615.11 449.87 L616.34 450.59 L617.57 451.28 L618.8 451.96 L620.03 452.62 L621.26 453.26 L622.49 453.88 L623.73 454.47 L624.96 455.03 L626.19 455.54 L627.42 456 L628.65 456.41 L629.88 456.77 L631.11 457.08 L632.34 457.33 L633.57 457.54 L634.8 457.66 L636.03 457.58 L637.26 457.37 L638.49 457.07 L639.73 456.76 L640.96 456.48 L642.19 456.32 L643.42 456.32 L644.65 456.53 L645.88 456.83 L647.11 457.17 L648.34 457.53 L649.57 457.89 L650.8 458.23 L652.03 458.51 L653.26 458.73 L654.49 458.91 L655.72 459.07 L656.96 459.21 L658.19 459.36 L659.42 459.53 L660.65 459.73 L661.88 459.97 L663.11 460.33 L664.34 460.83 L665.57 461.45 L666.8 462.13 L668.03 462.82 L669.26 463.48 L670.49 464.06 L671.72 464.52 L672.95 464.83 L674.19 465.04 L675.42 465.18 L676.65 465.28 L677.88 465.36 L679.11 465.44 L680.34 465.55 L681.57 465.72 L682.8 465.93 L684.03 466.08 L685.26 466.29 L686.49 466.67 L687.72 467.35 L688.95 468.45 L690.19 469.88 L691.42 471.42 L692.65 473 L693.88 474.59 L695.11 476.13 L696.34 477.64 L697.57 479.15 L698.8 480.62 L700.03 482.04 L701.26 483.15 L702.49 483.83 L703.72 484.19 L704.95 484.34 L706.18 484.41 L707.42 484.45 L708.65 484.44 L709.88 484.4 L711.11 484.32 L712.34 484.2 L713.57 484.04 L714.8 483.84 L716.03 483.59 L717.26 483.29 L718.49 482.91 L719.72 482.47 L720.95 481.98 L722.18 481.45 L723.41 480.88 L724.65 480.27 L725.88 479.5 L727.11 478.5 L728.34 477.23 L729.57 475.64 L730.8 473.57 L732.03 470.8 L733.26 467.77 L734.49 464.98 L735.72 462.73 L736.95 460.65 L738.18 458.68 L739.41 456.83 L740.64 455.12 L741.88 453.55 L743.11 452.13 L744.34 450.89 L745.57 449.85 L746.8 449.03 L748.03 448.61 L749.26 448.62 L750.49 449 L751.72 449.75 L752.95 450.74 L754.18 451.7 L755.41 452.42 L756.64 453.12 L757.88 453.73 L759.11 454 L760.34 453.69 L761.57 452.66 L762.8 451.42 L764.03 450.12 L765.26 448.81 L766.49 447.52 L767.72 446.26 L768.95 444.98 L770.18 443.71 L771.41 442.47 L772.64 441.32 L773.87 440.33 L775.11 439.77 L776.34 439.63 L777.57 439.74 L778.8 439.93 L780.03 440.06 L781.26 439.96 L782.49 439.68 L783.72 439.32 L784.95 438.92 L786.18 438.51 L787.41 438.11 L788.64 437.77 L789.87 437.52 L791.1 437.56 L792.34 438.23 L793.57 439.67 L794.8 442.02 L796.03 445.16 L797.26 448.61 L798.49 452.21 L799.72 455.79 L800.95 459.21 L802.18 462.45 L803.41 465.73 L804.64 468.99 L805.87 472.15 L807.1 475.14 L808.34 477.89 L809.57 480.35 L810.8 482.58 L812.03 484.63 L813.26 486.53 L814.49 488.33 L815.72 490.05 L816.95 491.74 L818.18 493.43 L819.41 495.09 L820.64 496.72 L821.87 498.31 L823.1 499.87 L824.33 501.41 L825.57 502.92 L826.8 504.4 L828.03 505.8 L829.26 507.07 L830.49 508.17 L831.72 509.07 L832.95 509.72 L834.18 510.09 L835.41 510.12 L836.64 509.81 L837.87 509.21 L839.1 508.35 L840.33 507.28 L841.56 506.04 L842.8 504.66 L844.03 503.16 L845.26 501.58 L846.49 499.96 L847.72 498.32 L848.95 496.71 L850.18 495.15 L851.41 493.69 L852.64 492.35 L853.87 491.08 L855.1 489.82 L856.33 488.57 L857.56 487.33 L858.8 486.11 L860.03 484.9 L861.26 483.7 L862.49 482.51 L863.72 481.32 L864.95 480.13 L866.18 478.94 L867.41 477.79 L868.64 476.69 L869.87 475.65 L871.1 474.7 L872.33 473.86 L873.56 473.13 L874.79 472.51 L876.03 471.99 L877.26 471.53 L878.49 471.13 L879.72 470.77 L880.95 470.43 L882.18 470.09 L883.41 469.74 L884.64 469.4 L885.87 469.07 L887.1 468.74 L888.33 468.43 L889.56 468.13 L890.79 467.86 L892.02 467.59 L893.26 467.37 L894.49 467.21 L895.72 467.11 L896.95 467.06 L898.18 467.04 L899.41 467.03 L900.64 467.02 L901.87 467 L903.1 466.94 L904.33 466.83 L905.56 466.67 L906.79 466.46 L908.02 466.21 L909.25 465.9 L910.49 465.54 L911.72 465.11 L912.95 464.61 L914.18 464.03 L915.41 463.36 L916.64 462.59 L917.87 461.72 L919.1 460.71 L920.33 459.56 L921.56 458.33 L922.79 457.05 L924.02 455.77 L925.25 454.53 L926.49 453.37 L927.72 452.33 L928.95 451.36 L930.18 450.43 L931.41 449.53 L932.64 448.65 L933.87 447.79 L935.1 446.93 L936.33 446.21 L937.56 445.67 L938.79 445.22 L940.02 444.81 L941.25 444.35 L942.48 443.76 L943.72 442.37 L944.95 439.81 L946.18 436.46 L947.41 430.47 L948.64 421.94 L949.87 415.39 L951.1 412.51 L952.33 410.95 L953.56 410.68 L954.79 411.27 L956.02 412.04 L957.25 413.11 L958.48 414.61 L959.71 416.65 L960.95 419.11 L962.18 421.74 L963.41 424.27 L964.64 426.46 L965.87 428.16 L967.1 429.54 L968.33 430.64 L969.56 431.42 L970.79 431.88 L972.02 431.96 L973.25 431.31 L974.48 430.19 L975.71 429 L976.95 428.11 L978.18 427.93 L979.41 428.42 L980.64 428.99 L981.87 429.61 L983.1 430.29 L984.33 431.03 L985.56 431.84 L986.79 432.71 L988.02 433.61 L989.25 434.52 L990.48 435.44 L991.71 436.37 L992.94 437.33 L994.18 438.32 L995.41 439.35 L996.64 440.52 L997.87 441.8 L999.1 443.12 L1000.33 444.41 L1001.56 445.61 L1002.79 446.61 L1004.02 447.32 L1005.25 447.81 L1006.48 448.18 L1007.71 448.54 L1008.94 448.97 L1010.17 449.58 L1011.41 450.45 L1012.64 451.65 L1013.87 453 L1015.1 454.41 L1016.33 455.86 L1017.56 457.31 L1018.79 458.71 L1020.02 460.02 L1021.25 461.28 L1022.48 462.53 L1023.71 463.77 L1024.94 464.99 L1026.17 466.21 L1027.41 467.42 L1028.64 468.61 L1029.87 469.71 L1031.1 470.74 L1032.33 471.72 L1033.56 472.66 L1034.79 473.49 L1036.02 473.89 L1037.25 473.98 L1038.48 473.92 L1039.71 473.88 L1040.94 474.02 L1042.17 474.49 L1043.4 475.39 L1044.64 476.86 L1045.87 479.1 L1047.1 482.29 L1048.33 486.41 L1049.56 490.94 L1050.79 495.31 L1052.02 499.38 L1053.25 503.48 L1054.48 507.27 L1055.71 510.4 L1056.94 512.72 L1058.17 514.6 L1059.4 516.21 L1060.63 517.66 L1061.87 519.11 L1063.1 520.69 L1064.33 522.52 L1065.56 524.64 L1066.79 526.87 L1068.02 529.06 L1069.25 531 L1070.48 532.54 L1071.71 533.58 L1072.94 534.27 L1074.17 534.78 L1075.4 535.27 L1076.63 535.91 L1077.86 536.87 L1079.1 538.1 L1080.33 539.33 L1081.56 540.56 L1082.79 541.79 L1084.02 543.02 L1085.25 544.25 L1086.48 545.48 L1087.71 546.71 L1088.94 547.94 L1090.17 549.17 L1091.4 550.4 L1092.63 551.63 L1093.86 552.87 L1095.1 553.84 L1096.33 554.31 L1097.56 554.5 L1098.79 554.66 L1100.02 555.02 L1101.25 555.8 L1102.48 556.96 L1103.71 558.35 L1104.94 559.92 L1106.17 561.62 L1107.4 563.46 L1108.63 565.48 L1109.86 567.74 L1111.09 570.39 L1112.33 573.45 L1113.56 576.61 L1114.79 579.54 L1116.02 582.11 L1117.25 584.51 L1118.48 586.68 L1119.71 588.59 L1120.94 590.15 L1122.17 591.3 L1123.4 592.21 L1124.63 593.01 L1125.86 593.88 L1127.09 594.97 L1128.32 596.42 L1129.56 598.07 L1130.79 599.85 L1132.02 601.75 L1133.25 603.81 L1134.48 606.02" stroke="#7f7f7f" stroke-width="2.78" stroke-dasharray="10.28 4.44"/>
</g>
<g stroke="#000000" stroke-width="1.11" fill="none" stroke-linecap="square">
<rect x="74.5" y="37.5" width="1111.0" height="705.0"/>
</g>
<g stroke="#000000" stroke-width="1.11">
<line x1="124.5" y1="742.5" x2="124.5" y2="747.36"/>
<line x1="370.5" y1="742.5" x2="370.5" y2="747.36"/>
<line x1="616.5" y1="742.5" x2="616.5" y2="747.36"/>
<line x1="862.5" y1="742.5" x2="862.5" y2="747.36"/>
<line x1="1109.5" y1="742.5" x2="1109.5" y2="747.36"/>
<line x1="74.5" y1="625.5" x2="69.64" y2="625.5"/>
<line x1="74.5" y1="490.5" x2="69.64" y2="490.5"/>
<line x1="74.5" y1="355.5" x2="69.64" y2="355.5"/>
<line x1="74.5" y1="219.5" x2="69.64" y2="219.5"/>
<line x1="74.5" y1="84.5" x2="69.64" y2="84.5"/>
</g>
<g font-family="'DejaVu Sans', 'Liberation Sans', sans-serif" fill="#000000">
<text x="125.25" y="762" font-size="13.89" text-anchor="middle" textLength="8.75">0</text>
<text x="370.27" y="762" font-size="13.89" text-anchor="middle" textLength="26.25">200</text>
<text x="616.56" y="762" font-size="13.89" text-anchor="middle" textLength="26.25">400</text>
<text x="862.37" y="762" font-size="13.89" text-anchor="middle" textLength="26.38">600</text>
<text x="1108.31" y="762" font-size="13.89" text-anchor="middle" textLength="26.38">800</text>
<text x="63.42" y="631" font-size="13.89" text-anchor="end" textLength="29.25">−60</text>
<text x="63.27" y="495" font-size="13.89" text-anchor="end" textLength="29.12">−40</text>
<text x="63.24" y="360" font-size="13.89" text-anchor="end" textLength="29.12">−20</text>
<text x="64.76" y="225" font-size="13.89" text-anchor="end" textLength="8.75">0</text>
<text x="63.65" y="90" font-size="13.89" text-anchor="end" textLength="17.5">20</text>
<text x="629.52" y="782" font-size="13.89" text-anchor="middle" textLength="34">Time</text>
<text x="25" y="391.56" font-size="13.89" text-anchor="middle" textLength="38.12" transform="rotate(-90 25 391.56)">Value</text>
<text x="630.44" y="29" font-size="16.67" text-anchor="middle" textLength="259.75">Wavelet Denoising Comparison</text>
</g>
<rect x="80.5" y="354.5" width="160" height="381" rx="2.78" ry="2.78" fill="#ffffff" fill-opacity="0.8" stroke="#cccccc" stroke-opacity="0.8" stroke-width="1.39"/>
<g fill="none">
<line x1="86.03" y1="365" x2="113.81" y2="365" stroke="#1f77b4" stroke-width="2.08" stroke-linecap="square"/>
<line x1="86.03" y1="386.5" x2="113.81" y2="386.5" stroke="#ff7f0e" stroke-width="2.78" stroke-dasharray="10.28 4.44"/>
<line x1="86.03" y1="407" x2="113.81" y2="407" stroke="#2ca02c" stroke-width="2.08" stroke-linecap="square"/>
<line x1="86.03" y1="428.5" x2="113.81" y2="428.5" stroke="#d62728" stroke-width="2.78" stroke-dasharray="10.28 4.44"/>
<line x1="86.03" y1="449" x2="113.81" y2="449" stroke="#9467bd" stroke-width="2.08" stroke-linecap="square"/>
<line x1="86.03" y1="470.5" x2="113.81" y2="470.5" stroke="#8c564b" stroke-width="2.78" stroke-dasharray="10.28 4.44"/>
<line x1="86.03" y1="491" x2="113.81" y2="491" stroke="#e377c2" stroke-width="2.08" stroke-linecap="square"/>
<line x1="86.03" y1="512.5" x2="113.81" y2="512.5" stroke="#7f7f7f" stroke-width="2.78" stroke-dasharray="10.28 4.44"/>
<line x1="86.03" y1="533" x2="113.81" y2="533" stroke="#bcbd22" stroke-width="2.08" stroke-linecap="square"/>
<line x1="86.03" y1="554.5" x2="113.81" y2="554.5" stroke="#17becf" stroke-width="2.78" stroke-dasharray="10.28 4.44"/>
<line x1="86.03" y1="575" x2="113.81" y2="575" stroke="#1f77b4" stroke-width="2.08" stroke-linecap="square"/>
<line x1="86.03" y1="596.5" x2="113.81" y2="596.5" stroke="#ff7f0e" stroke-width="2.78" stroke-dasharray="10.28 4.44"/>
<line x1="86.03" y1="617" x2="113.81" y2="617" stroke="#2ca02c" stroke-width="2.08" stroke-linecap="square"/>
<line x1="86.03" y1="638.5" x2="113.81" y2="638.5" stroke="#d62728" stroke-width="2.78" stroke-dasharray="10.28 4.44"/>
<line x1="86.03" y1="659" x2="113.81" y2="659" stroke="#9467bd" stroke-width="2.08" stroke-linecap="square"/>
<line x1="86.03" y1="679.5" x2="113.81" y2="679.5" stroke="#8c564b" stroke-width="2.78" stroke-dasharray="10.28 4.44"/>
<line x1="86.03" y1="700" x2="113.81" y2="700" stroke="#e377c2" stroke-width="2.08" stroke-linecap="square"/>
<line x1="86.03" y1="721.5" x2="113.81" y2="721.5" stroke="#7f7f7f" stroke-width="2.78" stroke-dasharray="10.28 4.44"/>
</g>
<g font-family="'DejaVu Sans', 'Liberation Sans', sans-serif" fill="#000000">
<text x="125.35" y="370" font-size="13.89" text-anchor="start" textLength="92.25">Original accX</text>
<text x="125.2" y="391" font-size="13.89" text-anchor="start" textLength="102.62">Denoised accX</text>
<text x="125.26" y="412" font-size="13.89" text-anchor="start" textLength="91.12">Original accY</text>
<text x="125.07" y="433" font-size="13.89" text-anchor="start" textLength="101.5">Denoised accY</text>
<text x="125.09" y="454" font-size="13.89" text-anchor="start" textLength="92.25">Original accZ</text>
<text x="124.9" y="475" font-size="13.89" text-anchor="start" textLength="102.62">Denoised accZ</text>
<text x="125.17" y="496" font-size="13.89" text-anchor="start" textLength="99.5">Original gyroX</text>
<text x="124.96" y="517" font-size="13.89" text-anchor="start" textLength="109.88">Denoised gyroX</text>
<text x="125.1" y="538" font-size="13.89" text-anchor="start" textLength="98.38">Original gyroY</text>
<text x="124.86" y="559" font-size="13.89" text-anchor="start" textLength="108.75">Denoised gyroY</text>
<text x="124.92" y="580" font-size="13.89" text-anchor="start" textLength="99.5">Original gyroZ</text>
<text x="124.76" y="601" font-size="13.89" text-anchor="start" textLength="109.88">Denoised gyroZ</text>
<text x="125.29" y="621" font-size="13.89" text-anchor="start" textLength="99.38">Original magX</text>
<text x="125.2" y="642" font-size="13.89" text-anchor="start" textLength="109.75">Denoised magX</text>
<text x="125.27" y="663" font-size="13.89" text-anchor="start" textLength="98.25">Original magY</text>
<text x="125.03" y="684" font-size="13.89" text-anchor="start" textLength="108.62">Denoised magY</text>
<text x="125.09" y="705" font-size="13.89" text-anchor="start" textLength="99.38">Original magZ</text>
<text x="124.92" y="726" font-size="13.89" text-anchor="start" textLength="109.75">Denoised magZ</text>
</g>
</svg>
</body>
</html>
